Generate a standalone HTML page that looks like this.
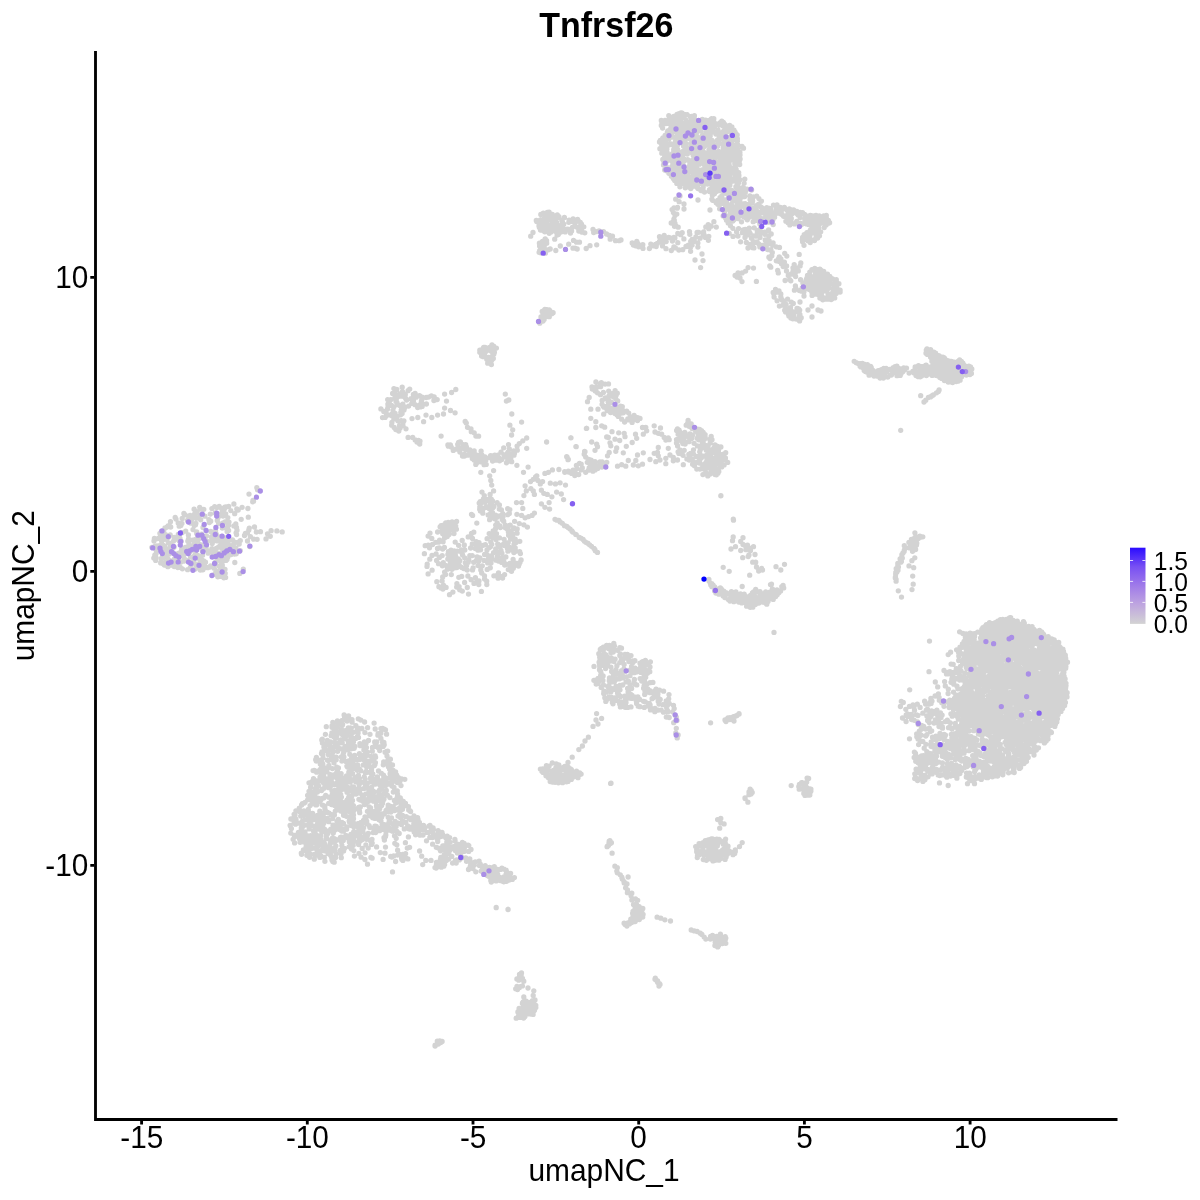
<!DOCTYPE html>
<html><head><meta charset="utf-8"><title>Tnfrsf26</title>
<style>
html,body{margin:0;padding:0;background:#fff;}
svg{display:block}
text{font-family:"Liberation Sans",Arial,Helvetica,sans-serif;fill:#000}
.g{fill:none;stroke:#d3d3d3;stroke-width:5.3;stroke-linecap:round}
.p{fill:none;stroke-width:5.3;stroke-linecap:round}
.ax{stroke:#000;stroke-width:2.85;fill:none;stroke-linecap:butt}
.tk{stroke:#000;stroke-width:2.85;fill:none}
.tl{font-size:30.8px}
.at{font-size:31.3px}
.lg{font-size:25.8px}
</style></head><body>
<svg width="1200" height="1200" viewBox="0 0 1200 1200">
<defs><linearGradient id="cb" x1="0" y1="1" x2="0" y2="0">
<stop offset="0" stop-color="#d3d3d3"/><stop offset="0.25" stop-color="#bfa6df"/><stop offset="0.5" stop-color="#a07be9"/><stop offset="0.75" stop-color="#7850f3"/><stop offset="1" stop-color="#2a0cff"/>
</linearGradient></defs>
<rect width="1200" height="1200" fill="#fff"/>
<text transform="translate(606.3 37) scale(.955 1)" text-anchor="middle" font-weight="bold" font-size="35.6px">Tnfrsf26</text>
<g id="pts">
<path class="g" d="M193.0 529.6h0M200.7 519.8h0M185.1 514.8h0M196.8 511.7h0M204.1 536.5h0M201.6 534.1h0M228.6 525.3h0M224.5 508.8h0M183.9 513.4h0M219.2 506.5h0M190.9 523.2h0M165.6 534.7h0M199.7 507.3h0M218.2 517.6h0M196.7 531.9h0M187.4 520.4h0M193.7 523.6h0M216.3 534.2h0M225.7 513.8h0M236.1 532.8h0M223.2 522.8h0M227.6 526.7h0M194.5 514.2h0M185.7 531.1h0M181.9 523.4h0M203.0 527.5h0M214.7 506.6h0M221.5 508.3h0M194.9 517.3h0M161.4 531.5h0M170.7 527.0h0M235.8 523.9h0M159.9 533.3h0M188.4 535.0h0M175.2 517.5h0M180.8 525.4h0M230.8 510.6h0M178.3 534.4h0M170.2 534.9h0M200.5 509.2h0M196.3 518.2h0M168.1 525.9h0M225.0 522.0h0M190.1 515.4h0M194.3 525.4h0M208.9 519.6h0M212.9 533.2h0M233.9 504.0h0M209.3 522.6h0M215.2 513.0h0M165.0 528.0h0M228.6 530.4h0M222.3 528.0h0M203.8 509.3h0M182.2 518.5h0M215.6 530.6h0M195.9 523.3h0M229.0 522.1h0M179.6 534.6h0M166.5 527.3h0M221.7 536.4h0M194.1 509.2h0M188.6 516.3h0M218.6 523.3h0M217.2 535.9h0M204.9 516.2h0M168.4 537.2h0M176.0 519.1h0M164.2 534.7h0M211.9 508.6h0M233.9 525.9h0M219.7 515.5h0M216.9 507.6h0M220.9 514.4h0M191.8 518.9h0M224.8 507.2h0M210.3 514.1h0M178.2 523.0h0M163.7 531.1h0M226.2 506.9h0M210.8 531.4h0M227.8 517.6h0M236.5 527.4h0M228.7 506.3h0M236.6 534.6h0M223.0 516.0h0M217.3 520.5h0M170.5 521.7h0M179.2 526.2h0M210.7 521.2h0M195.5 524.8h0M196.7 533.4h0M182.1 532.7h0M236.8 509.0h0M234.7 513.7h0M227.1 531.4h0M206.5 535.9h0M199.7 515.2h0M237.0 530.2h0M227.0 529.6h0M222.2 511.8h0M199.2 536.9h0M151.9 547.3h0M200.3 570.0h0M188.5 539.0h0M209.9 567.0h0M225.5 554.1h0M220.6 557.9h0M216.6 537.5h0M221.1 576.4h0M167.9 566.7h0M210.6 565.8h0M164.4 565.1h0M188.9 544.2h0M161.7 541.2h0M202.6 547.8h0M215.7 563.8h0M202.3 551.1h0M194.4 556.0h0M190.1 567.8h0M226.3 541.3h0M220.1 541.4h0M211.5 541.2h0M206.3 546.2h0M192.4 547.6h0M205.5 562.2h0M216.1 574.8h0M195.0 554.8h0M224.0 537.8h0M178.3 559.0h0M174.1 546.9h0M204.0 568.0h0M227.2 538.7h0M204.2 538.5h0M207.7 567.7h0M180.1 552.9h0M183.3 552.4h0M212.8 541.5h0M234.1 541.9h0M177.8 567.5h0M200.5 565.2h0M169.5 561.8h0M202.2 563.9h0M197.1 545.5h0M197.8 555.3h0M224.5 574.9h0M223.7 548.9h0M164.5 546.4h0M217.8 576.8h0M177.1 538.1h0M197.8 540.5h0M225.3 545.8h0M170.1 550.5h0M202.1 560.2h0M224.0 542.2h0M154.9 546.4h0M166.8 539.6h0M233.3 544.8h0M217.0 560.2h0M168.7 554.3h0M202.9 569.8h0M218.8 546.9h0M180.6 562.2h0M175.0 565.1h0M203.7 560.9h0M157.7 548.0h0M159.5 545.7h0M198.8 538.8h0M235.8 547.9h0M221.4 574.2h0M169.7 548.2h0M162.8 556.2h0M185.0 552.9h0M195.4 564.5h0M166.2 549.2h0M208.1 551.2h0M221.6 572.1h0M218.9 553.4h0M160.7 562.9h0M226.9 552.9h0M221.7 552.7h0M174.2 566.5h0M219.4 554.6h0M155.7 560.4h0M154.4 538.5h0M233.3 551.8h0M234.6 554.0h0M213.4 566.5h0M179.3 541.0h0M195.7 541.5h0M226.1 556.2h0M220.1 567.4h0M179.9 554.5h0M236.2 553.8h0M177.7 555.5h0M181.1 541.2h0M187.1 560.7h0M202.2 561.8h0M183.5 556.5h0M232.1 549.8h0M219.5 574.6h0M174.6 558.7h0M220.0 556.7h0M154.0 541.0h0M193.7 540.2h0M204.9 546.6h0M215.2 562.4h0M182.4 568.8h0M223.8 550.5h0M196.9 542.0h0M225.2 573.3h0M220.8 561.1h0M195.6 550.9h0M225.5 547.8h0M199.6 559.2h0M225.6 577.4h0M165.0 562.7h0M200.0 547.2h0M225.0 569.3h0M182.5 550.6h0M236.3 552.3h0M189.8 551.9h0M240.3 550.6h0M234.8 548.6h0M173.5 541.1h0M231.6 552.0h0M223.9 577.8h0M212.2 543.5h0M183.4 561.2h0M211.8 538.9h0M174.7 562.3h0M214.2 568.2h0M211.9 548.6h0M162.1 563.3h0M187.6 569.7h0M154.8 555.2h0M174.2 537.5h0M168.2 542.8h0M206.3 549.5h0M198.4 566.5h0M192.3 562.5h0M232.5 539.9h0M191.0 565.1h0M210.9 551.5h0M216.8 571.3h0M216.9 573.2h0M190.8 550.7h0M202.6 555.3h0M185.3 547.4h0M172.8 548.4h0M219.9 546.1h0M215.1 573.5h0M203.9 564.0h0M192.4 540.1h0M170.3 543.4h0M226.0 560.4h0M216.3 548.5h0M218.2 537.3h0M173.1 560.6h0M227.8 557.0h0M155.4 548.6h0M165.3 551.6h0M227.2 542.1h0M161.1 558.7h0M213.4 552.7h0M175.4 539.3h0M232.4 553.2h0M213.6 538.4h0M162.9 545.2h0M228.5 544.7h0M162.8 550.2h0M205.7 543.6h0M237.7 542.4h0M193.9 561.0h0M202.3 545.4h0M197.3 548.0h0M170.5 561.0h0M219.4 566.2h0M163.7 557.6h0M157.6 549.6h0M233.8 547.9h0M187.5 547.1h0M166.7 556.6h0M157.0 546.0h0M239.2 544.0h0M213.0 556.1h0M180.3 567.4h0M214.2 540.7h0M170.9 565.0h0M193.9 544.9h0M163.4 539.6h0M194.9 539.7h0M153.8 558.1h0M155.9 557.3h0M199.6 563.5h0M231.1 554.5h0M206.8 541.1h0M197.9 537.1h0M156.1 553.6h0M230.7 547.3h0M208.2 553.2h0M157.8 538.6h0M162.7 538.1h0M211.5 536.9h0M216.8 556.0h0M204.5 566.0h0M199.9 556.4h0M240.3 540.6h0M217.2 553.4h0M170.2 546.0h0M235.9 550.8h0M187.8 541.1h0M222.3 565.3h0M221.0 547.6h0M180.0 538.5h0M184.0 548.4h0M178.3 553.5h0M160.4 535.4h0M195.1 569.1h0M190.5 557.2h0M200.4 544.7h0M228.3 541.1h0M167.8 558.7h0M222.0 563.0h0M217.5 540.9h0M221.3 546.0h0M224.1 558.0h0M172.7 552.9h0M156.3 550.2h0M181.6 549.4h0M225.7 537.8h0M184.4 558.9h0M167.5 550.0h0M227.0 559.4h0M238.2 510.0h0M242.1 507.3h0M247.9 508.5h0M252.7 501.8h0M253.6 501.2h0M253.0 500.3h0M249.0 494.1h0M256.8 487.7h0M257.5 489.8h0M241.2 519.3h0M248.3 517.2h0M249.3 528.1h0M254.5 527.0h0M248.8 529.9h0M245.4 533.5h0M253.7 539.2h0M256.3 532.0h0M250.4 536.7h0M244.5 535.5h0M247.5 532.8h0M257.1 539.3h0M247.5 541.0h0M260.5 531.7h0M266.0 538.9h0M267.5 533.8h0M271.1 530.7h0M276.9 530.9h0M282.2 531.9h0M270.3 536.3h0M234.8 562.5h0M243.3 569.2h0M239.8 573.4h0M249.7 546.5h0M706.2 132.2h0M718.9 154.3h0M722.3 160.3h0M722.2 177.1h0M670.6 136.5h0M731.1 139.5h0M699.4 164.2h0M700.0 156.1h0M706.4 183.7h0M689.8 132.5h0M738.7 172.6h0M701.0 130.7h0M668.8 139.1h0M678.0 130.5h0M709.5 189.6h0M675.2 159.0h0M712.6 160.8h0M701.4 121.4h0M727.6 139.6h0M691.1 132.3h0M728.8 127.9h0M685.8 131.1h0M681.2 114.0h0M713.6 131.9h0M710.8 168.2h0M694.5 164.6h0M737.1 153.0h0M726.8 125.8h0M681.0 178.2h0M707.8 122.7h0M690.8 188.6h0M672.6 170.7h0M708.8 129.9h0M707.1 140.5h0M674.4 166.6h0M683.8 172.7h0M700.6 153.5h0M704.5 192.0h0M734.8 155.7h0M703.0 141.8h0M720.3 171.5h0M671.1 127.2h0M714.3 173.5h0M722.9 154.3h0M723.4 145.0h0M688.8 129.4h0M738.1 176.6h0M715.2 158.2h0M710.8 150.8h0M679.0 170.2h0M738.4 183.0h0M689.8 187.5h0M675.4 177.0h0M712.9 172.1h0M672.6 165.7h0M678.8 143.0h0M699.6 146.3h0M674.4 126.8h0M699.9 124.5h0M692.1 176.8h0M723.6 181.6h0M707.9 179.6h0M701.0 190.6h0M737.8 145.0h0M709.7 152.5h0M727.5 165.4h0M732.4 140.6h0M692.3 160.6h0M666.3 136.4h0M702.8 169.6h0M693.0 186.3h0M683.4 178.3h0M683.3 129.6h0M723.2 147.7h0M668.2 123.4h0M702.3 119.5h0M677.0 114.3h0M689.6 124.9h0M724.8 153.6h0M709.9 156.4h0M671.2 169.2h0M681.9 123.2h0M722.6 183.2h0M679.3 163.3h0M690.2 165.8h0M674.4 143.9h0M729.5 128.7h0M676.5 130.3h0M710.6 189.0h0M661.3 120.4h0M676.9 177.1h0M725.1 183.7h0M666.5 170.7h0M735.7 150.3h0M693.2 140.8h0M676.2 143.7h0M734.6 178.6h0M697.2 171.4h0M727.6 143.1h0M708.6 168.2h0M702.6 135.0h0M702.2 161.3h0M712.8 168.6h0M709.8 161.4h0M702.2 153.4h0M706.9 177.1h0M693.5 179.0h0M713.8 185.1h0M674.1 148.3h0M673.0 173.5h0M708.4 126.2h0M690.5 185.2h0M704.5 120.9h0M668.8 145.1h0M688.3 150.0h0M672.2 161.4h0M737.1 183.1h0M677.8 149.7h0M695.3 174.8h0M726.5 128.3h0M737.4 141.1h0M680.6 172.7h0M673.7 121.5h0M733.2 139.3h0M729.9 175.1h0M675.3 130.2h0M678.9 154.7h0M691.3 147.8h0M703.4 123.3h0M696.7 145.7h0M728.9 149.1h0M686.1 137.7h0M724.4 186.1h0M679.1 140.0h0M726.4 149.2h0M710.4 120.5h0M661.1 149.2h0M718.4 165.9h0M688.1 186.9h0M737.5 161.6h0M685.9 123.2h0M696.9 143.3h0M732.3 172.7h0M707.3 127.0h0M729.9 180.2h0M666.3 139.0h0M705.4 122.1h0M705.9 172.9h0M691.5 118.9h0M701.9 151.4h0M688.9 166.3h0M709.0 144.4h0M687.7 159.6h0M715.3 172.5h0M665.8 148.6h0M698.5 154.4h0M705.9 154.1h0M685.0 147.7h0M710.9 171.3h0M669.8 156.1h0M677.7 159.4h0M718.6 124.1h0M678.3 175.6h0M722.4 122.6h0M674.6 168.5h0M695.9 182.2h0M736.7 144.3h0M680.5 128.0h0M680.7 139.3h0M666.3 166.7h0M679.3 136.3h0M683.3 135.9h0M678.2 179.9h0M704.7 125.0h0M693.7 137.7h0M730.9 160.1h0M673.7 149.7h0M735.1 132.2h0M729.1 172.7h0M689.1 171.3h0M728.5 137.3h0M673.3 178.4h0M697.9 121.9h0M717.3 190.7h0M737.2 135.0h0M674.1 174.9h0M666.5 146.0h0M690.2 128.0h0M671.4 176.2h0M677.8 124.5h0M743.5 148.2h0M690.9 181.8h0M715.9 134.1h0M681.2 132.1h0M729.1 162.6h0M681.2 159.3h0M736.7 136.4h0M702.9 174.8h0M693.6 135.3h0M706.1 144.2h0M700.6 171.7h0M718.3 183.8h0M717.1 164.7h0M737.9 181.9h0M659.5 142.0h0M687.7 174.2h0M690.5 179.6h0M733.8 154.1h0M662.8 159.5h0M695.8 140.5h0M739.7 164.5h0M707.6 133.2h0M725.5 164.8h0M736.8 175.1h0M670.5 159.3h0M710.4 166.0h0M676.8 152.8h0M684.2 159.2h0M682.7 166.4h0M682.5 176.3h0M689.8 160.6h0M662.3 142.5h0M700.6 173.8h0M701.4 149.4h0M682.4 128.0h0M694.9 139.7h0M711.4 169.7h0M695.7 160.3h0M685.4 145.5h0M732.7 137.2h0M679.3 167.9h0M708.9 150.2h0M694.4 115.7h0M661.3 125.4h0M666.9 149.2h0M703.2 187.3h0M690.2 182.8h0M699.8 157.7h0M723.6 131.1h0M693.5 153.8h0M726.3 144.4h0M670.3 171.4h0M703.9 125.6h0M728.2 131.3h0M693.1 139.7h0M664.9 156.0h0M735.5 161.1h0M679.9 186.8h0M692.2 172.3h0M713.8 118.7h0M704.9 138.7h0M709.0 140.8h0M678.6 176.9h0M725.1 134.5h0M711.7 118.7h0M706.6 164.8h0M692.1 185.2h0M674.7 180.4h0M699.9 162.0h0M688.7 135.9h0M699.5 159.3h0M729.9 183.4h0M728.9 154.4h0M690.1 169.7h0M705.7 120.2h0M682.0 114.8h0M732.7 155.6h0M678.0 138.1h0M727.0 146.6h0M687.1 114.6h0M720.5 132.7h0M689.8 177.7h0M740.0 154.9h0M665.0 120.5h0M664.5 142.4h0M683.3 151.1h0M687.9 170.0h0M714.7 126.8h0M693.9 158.4h0M712.0 179.4h0M699.7 170.2h0M703.7 159.0h0M723.1 126.0h0M691.7 163.8h0M739.9 152.5h0M674.4 146.4h0M702.5 180.5h0M703.6 172.8h0M687.3 181.9h0M680.4 133.0h0M668.4 171.6h0M677.7 136.4h0M698.2 129.9h0M725.8 129.7h0M715.7 183.9h0M680.2 178.8h0M714.4 153.7h0M679.7 125.9h0M697.8 178.6h0M714.7 171.3h0M729.7 125.5h0M686.7 183.4h0M674.2 177.6h0M679.2 113.7h0M716.9 181.4h0M716.3 132.5h0M733.0 181.1h0M676.4 131.9h0M692.6 150.0h0M681.9 117.4h0M688.0 181.1h0M702.6 136.3h0M693.4 122.4h0M713.3 166.5h0M691.8 145.1h0M730.8 171.2h0M681.5 130.1h0M729.9 160.6h0M718.0 130.0h0M735.6 134.9h0M738.6 179.7h0M709.6 183.6h0M721.8 171.2h0M702.0 182.0h0M669.4 118.4h0M716.8 156.9h0M736.5 180.6h0M709.1 169.2h0M723.7 137.5h0M708.2 145.2h0M690.9 117.6h0M724.8 178.8h0M692.4 153.2h0M688.7 127.5h0M698.1 142.5h0M692.9 134.6h0M666.2 159.6h0M729.8 149.6h0M676.5 171.1h0M660.3 140.3h0M663.8 161.3h0M665.1 153.2h0M692.7 165.4h0M668.9 173.3h0M706.3 122.7h0M673.1 129.4h0M736.5 145.8h0M723.9 142.3h0M710.9 176.9h0M717.5 134.3h0M708.5 124.8h0M722.4 179.9h0M729.9 169.5h0M708.8 122.4h0M718.6 139.6h0M713.6 120.7h0M672.0 119.8h0M715.0 151.7h0M676.1 145.7h0M681.1 156.1h0M682.8 115.7h0M683.5 146.0h0M712.5 156.7h0M731.3 132.8h0M686.5 177.8h0M718.6 142.6h0M677.3 144.0h0M704.5 171.8h0M692.3 129.2h0M691.4 122.4h0M714.0 190.2h0M678.8 132.5h0M665.6 146.9h0M690.7 180.7h0M699.4 142.5h0M697.6 128.5h0M676.4 181.1h0M728.1 185.8h0M696.0 179.9h0M699.1 172.1h0M674.1 124.3h0M693.3 177.4h0M708.6 133.4h0M670.9 143.8h0M705.4 137.5h0M722.2 158.2h0M722.2 174.9h0M678.1 131.6h0M742.0 146.4h0M681.1 154.1h0M665.1 135.4h0M721.4 186.9h0M691.9 166.3h0M721.8 121.1h0M733.8 148.7h0M693.6 167.2h0M722.3 139.3h0M673.8 171.7h0M732.4 132.6h0M706.9 136.9h0M728.2 177.1h0M695.6 137.2h0M703.3 119.9h0M717.4 140.2h0M731.9 127.0h0M687.4 130.8h0M721.1 154.6h0M687.8 179.8h0M697.6 185.3h0M712.3 159.2h0M699.1 123.3h0M662.6 143.7h0M700.3 178.8h0M672.0 133.3h0M670.9 120.0h0M664.7 170.0h0M687.7 177.2h0M721.8 135.4h0M737.6 156.9h0M679.7 117.9h0M737.4 171.9h0M665.0 165.1h0M724.8 124.3h0M679.9 161.3h0M682.1 138.8h0M670.4 131.3h0M705.2 177.9h0M680.4 134.7h0M674.9 151.3h0M722.3 167.7h0M677.3 145.4h0M723.7 143.4h0M667.3 153.0h0M734.2 170.5h0M691.2 123.6h0M710.5 145.2h0M713.4 150.3h0M731.2 150.9h0M693.1 169.2h0M662.4 138.8h0M696.6 122.3h0M676.2 165.8h0M675.4 141.6h0M695.9 186.1h0M731.5 153.1h0M724.4 169.0h0M681.3 162.2h0M677.0 148.3h0M708.6 160.9h0M694.6 142.7h0M700.8 158.6h0M726.0 137.1h0M727.6 144.6h0M670.9 128.3h0M705.2 145.2h0M706.2 162.4h0M681.7 183.8h0M729.9 130.1h0M671.0 156.3h0M690.3 124.1h0M707.0 169.9h0M723.1 172.7h0M728.8 167.9h0M686.2 143.6h0M709.2 154.4h0M672.8 125.5h0M733.1 146.5h0M687.1 132.8h0M714.7 152.7h0M675.1 162.7h0M667.9 120.7h0M697.9 152.8h0M733.8 167.9h0M691.2 143.3h0M720.5 158.5h0M731.8 146.5h0M680.4 120.6h0M731.2 136.4h0M698.5 161.9h0M690.8 136.1h0M727.5 155.3h0M690.5 161.5h0M744.8 179.1h0M725.0 161.8h0M674.8 154.0h0M718.3 162.2h0M677.1 157.5h0M677.1 119.3h0M702.8 150.9h0M703.7 152.1h0M671.8 166.7h0M720.9 165.1h0M712.3 145.2h0M710.9 163.6h0M694.8 126.2h0M709.5 191.6h0M696.8 126.1h0M696.5 149.5h0M687.6 152.6h0M721.2 124.2h0M673.8 116.5h0M693.6 120.1h0M705.3 158.9h0M662.6 150.2h0M736.1 158.9h0M736.7 147.4h0M681.7 112.8h0M721.9 178.4h0M717.5 146.2h0M707.4 161.8h0M679.4 138.2h0M697.0 187.2h0M721.2 172.1h0M702.1 188.8h0M684.1 117.3h0M688.9 131.0h0M677.3 154.0h0M738.2 150.0h0M688.2 168.5h0M704.3 146.5h0M673.9 129.9h0M673.4 158.3h0M687.3 154.0h0M703.8 163.4h0M699.6 181.5h0M685.3 187.8h0M685.0 153.6h0M673.0 137.1h0M698.0 188.6h0M684.8 160.6h0M718.6 151.3h0M701.3 177.7h0M672.5 160.4h0M694.0 133.3h0M729.8 151.4h0M674.8 178.8h0M714.6 164.4h0M716.3 191.4h0M695.8 170.3h0M683.4 183.3h0M696.1 172.5h0M699.2 148.2h0M684.3 114.5h0M735.2 176.5h0M677.2 128.3h0M714.8 182.2h0M685.7 170.5h0M669.9 122.6h0M702.9 143.5h0M686.3 149.7h0M722.4 137.4h0M740.1 158.9h0M727.4 179.4h0M707.2 155.9h0M679.9 180.3h0M663.5 164.9h0M689.7 184.6h0M685.9 120.2h0M681.6 141.9h0M693.2 171.9h0M722.0 188.3h0M688.9 148.0h0M727.7 141.0h0M725.0 180.4h0M732.8 179.1h0M662.9 137.9h0M727.6 151.6h0M689.8 162.4h0M688.9 138.6h0M697.5 136.6h0M687.6 125.4h0M711.5 122.3h0M698.4 137.6h0M682.2 170.5h0M671.8 144.4h0M713.4 148.2h0M711.6 124.1h0M661.8 153.2h0M712.5 187.6h0M720.5 188.0h0M679.7 169.2h0M680.3 113.2h0M706.5 153.3h0M726.6 158.2h0M684.7 140.9h0M731.8 142.9h0M711.0 183.6h0M736.1 169.1h0M702.7 171.4h0M723.7 158.8h0M733.4 132.7h0M692.3 141.4h0M713.0 141.9h0M686.4 175.2h0M733.7 138.3h0M726.7 153.4h0M685.2 169.2h0M668.8 115.7h0M671.6 155.3h0M734.0 130.1h0M700.9 183.3h0M730.0 153.8h0M684.5 129.0h0M679.7 166.7h0M667.3 132.4h0M696.7 166.3h0M701.5 143.6h0M662.6 128.1h0M711.7 180.6h0M695.6 129.9h0M663.7 158.8h0M661.9 122.7h0M727.2 167.7h0M734.8 163.7h0M719.5 124.9h0M732.5 158.4h0M689.8 181.3h0M721.1 183.2h0M689.5 133.7h0M716.5 173.4h0M693.7 147.2h0M676.4 136.8h0M704.7 165.5h0M719.2 136.9h0M692.3 170.3h0M729.9 185.3h0M724.6 151.0h0M721.1 161.4h0M720.6 180.3h0M718.4 144.2h0M707.4 184.0h0M667.8 130.8h0M676.2 155.1h0M729.8 131.6h0M667.1 161.0h0M679.7 183.0h0M676.8 183.4h0M684.8 176.0h0M701.6 160.0h0M677.3 161.3h0M700.3 128.6h0M703.7 191.3h0M715.0 176.2h0M669.0 130.5h0M661.7 144.8h0M716.3 186.8h0M725.7 152.6h0M728.6 183.0h0M711.5 172.5h0M694.4 166.2h0M665.1 123.7h0M702.5 137.9h0M693.3 116.4h0M712.0 140.3h0M691.6 116.4h0M731.9 145.2h0M724.7 173.6h0M699.7 173.3h0M729.3 165.6h0M725.3 135.9h0M686.7 151.1h0M718.7 169.7h0M713.6 161.1h0M700.4 142.2h0M739.8 179.7h0M726.9 169.6h0M728.9 180.9h0M693.6 119.0h0M693.3 155.4h0M693.9 125.6h0M727.6 187.1h0M682.0 173.5h0M720.3 122.6h0M706.4 124.1h0M711.1 132.6h0M707.8 142.2h0M695.1 156.1h0M702.9 184.4h0M710.5 170.3h0M671.8 125.8h0M736.0 134.0h0M696.4 154.7h0M726.8 138.8h0M715.2 145.2h0M683.7 139.1h0M709.1 120.4h0M737.4 138.7h0M702.8 158.3h0M708.7 153.2h0M686.7 185.9h0M713.0 180.8h0M694.9 146.0h0M690.5 129.7h0M721.0 152.3h0M710.1 182.4h0M712.7 149.5h0M737.1 159.7h0M666.2 143.1h0M709.1 131.7h0M684.5 124.8h0M690.7 121.3h0M736.4 164.6h0M738.9 175.5h0M664.6 157.2h0M732.8 130.1h0M679.6 152.4h0M685.7 151.3h0M716.5 123.9h0M691.6 120.7h0M659.9 148.7h0M723.4 122.3h0M670.4 129.2h0M720.1 161.9h0M682.2 161.9h0M723.9 133.2h0M714.2 188.2h0M696.6 161.4h0M709.3 128.0h0M724.1 177.5h0M685.9 180.2h0M720.5 189.6h0M695.0 119.7h0M697.3 131.7h0M672.7 157.2h0M707.4 181.0h0M671.9 137.1h0M682.5 155.6h0M697.7 161.0h0M676.9 137.8h0M739.3 161.3h0M672.5 153.7h0M724.9 131.2h0M711.8 127.8h0M693.4 182.2h0M690.2 116.6h0M674.2 161.5h0M724.1 171.8h0M699.5 176.7h0M710.2 135.9h0M683.3 165.1h0M714.2 124.3h0M707.9 182.9h0M729.5 155.3h0M731.4 215.9h0M735.6 206.6h0M732.6 219.6h0M738.0 218.5h0M759.2 221.4h0M740.1 192.7h0M738.8 212.6h0M758.9 215.9h0M738.6 197.9h0M752.6 200.7h0M750.6 202.6h0M755.7 212.4h0M753.2 196.9h0M735.9 186.7h0M731.4 219.3h0M762.1 208.0h0M725.6 208.9h0M747.1 211.7h0M746.1 190.0h0M727.4 217.9h0M719.6 208.8h0M726.4 188.6h0M747.0 189.2h0M729.1 205.3h0M749.1 205.8h0M731.7 190.4h0M758.5 219.7h0M757.8 212.1h0M745.3 208.6h0M736.7 187.7h0M753.9 208.0h0M743.2 203.9h0M757.9 206.1h0M764.3 209.2h0M737.6 184.4h0M726.7 193.6h0M728.5 197.8h0M712.4 195.2h0M743.2 206.2h0M732.8 221.0h0M744.7 196.5h0M738.5 217.0h0M755.9 210.4h0M755.3 220.5h0M724.6 211.2h0M734.7 200.6h0M712.6 200.3h0M746.0 213.3h0M741.3 190.9h0M733.9 219.8h0M730.0 195.3h0M725.6 207.5h0M736.7 202.1h0M721.7 199.6h0M757.8 217.5h0M754.7 214.1h0M752.4 208.2h0M730.4 212.6h0M755.1 218.7h0M725.4 205.0h0M712.4 193.9h0M740.9 212.2h0M734.5 192.6h0M736.3 191.3h0M740.1 215.7h0M763.8 210.8h0M734.9 210.6h0M751.6 190.0h0M745.3 192.6h0M730.9 211.1h0M737.9 196.2h0M737.1 198.2h0M758.9 204.2h0M761.5 201.1h0M721.4 201.7h0M731.3 220.6h0M733.3 197.0h0M760.3 212.3h0M738.7 202.8h0M725.1 189.3h0M720.0 197.6h0M737.2 209.5h0M735.1 212.2h0M750.1 199.4h0M732.3 199.7h0M744.9 211.7h0M732.8 216.9h0M739.0 205.9h0M719.9 204.5h0M761.7 218.7h0M756.9 211.2h0M739.7 208.6h0M749.9 196.0h0M738.8 210.4h0M744.5 214.9h0M717.7 200.5h0M724.2 203.7h0M752.3 202.7h0M749.7 217.0h0M711.9 199.1h0M760.8 206.9h0M725.4 210.2h0M729.8 215.9h0M742.3 196.7h0M756.3 206.2h0M741.9 187.8h0M716.2 202.8h0M742.6 193.9h0M725.0 216.1h0M730.3 214.6h0M728.2 215.9h0M736.6 199.5h0M740.7 204.6h0M741.7 205.6h0M750.7 212.5h0M750.1 210.3h0M719.0 203.6h0M727.7 187.9h0M756.7 196.1h0M747.3 219.8h0M743.7 216.8h0M733.0 212.8h0M721.9 195.6h0M724.7 199.9h0M742.9 212.5h0M736.1 215.2h0M758.9 198.6h0M726.4 201.5h0M736.4 193.4h0M743.8 188.1h0M736.7 195.0h0M739.8 200.2h0M714.4 193.8h0M738.0 188.3h0M740.1 198.7h0M748.7 204.3h0M732.2 214.4h0M731.2 198.7h0M757.5 204.9h0M723.8 192.1h0M719.5 190.5h0M732.2 207.8h0M725.3 191.5h0M746.1 215.5h0M744.1 183.3h0M724.4 213.2h0M745.6 217.7h0M740.2 194.4h0M750.8 214.8h0M724.4 193.1h0M723.3 202.5h0M731.4 204.5h0M754.1 216.7h0M762.5 212.2h0M728.5 190.9h0M717.8 204.3h0M737.7 185.7h0M745.1 203.7h0M730.3 209.7h0M755.0 209.6h0M723.1 215.9h0M824.0 217.8h0M821.6 222.5h0M792.0 213.8h0M804.8 219.1h0M802.6 237.5h0M774.5 215.9h0M807.2 236.2h0M770.6 209.3h0M826.3 215.5h0M802.6 241.7h0M800.1 217.4h0M813.8 216.5h0M772.3 212.7h0M770.1 219.6h0M804.4 223.3h0M777.0 205.0h0M768.2 209.5h0M768.8 215.4h0M815.8 234.4h0M813.8 219.0h0M810.3 215.5h0M826.3 217.6h0M819.0 218.8h0M789.3 215.4h0M788.2 216.0h0M814.7 220.0h0M789.3 209.0h0M828.4 220.4h0M788.1 222.8h0M804.6 214.3h0M790.3 216.5h0M804.2 234.6h0M788.0 220.5h0M796.8 213.6h0M807.8 216.1h0M817.6 238.0h0M817.0 226.9h0M781.2 211.6h0M810.3 230.1h0M798.1 215.0h0M793.6 209.9h0M800.2 212.3h0M810.9 218.9h0M808.1 220.0h0M766.8 207.6h0M819.7 221.1h0M811.5 240.0h0M789.8 224.9h0M789.0 221.4h0M790.9 209.6h0M787.2 209.9h0M801.3 224.7h0M767.4 214.0h0M810.2 234.7h0M796.9 211.3h0M819.3 215.8h0M816.0 229.5h0M767.9 208.2h0M818.7 228.1h0M817.2 219.7h0M823.6 220.1h0M773.0 217.1h0M812.1 216.0h0M805.5 215.9h0M791.3 222.1h0M815.8 238.2h0M810.0 222.7h0M812.0 227.1h0M820.7 231.8h0M806.9 232.6h0M805.0 220.4h0M825.2 222.6h0M828.4 223.2h0M806.2 234.0h0M811.3 222.0h0M823.5 223.0h0M806.6 223.9h0M815.3 223.9h0M775.2 212.1h0M794.5 223.9h0M800.0 215.4h0M816.3 221.9h0M823.8 215.9h0M807.0 235.0h0M778.0 213.1h0M815.5 227.2h0M768.5 213.7h0M821.7 219.8h0M804.2 239.5h0M791.8 212.1h0M811.7 232.4h0M791.3 218.4h0M783.6 216.3h0M781.1 209.9h0M826.1 225.1h0M784.4 207.5h0M783.3 208.9h0M814.2 229.9h0M817.6 230.9h0M819.5 235.7h0M790.7 214.9h0M810.2 242.6h0M777.4 209.0h0M819.5 224.0h0M807.5 239.0h0M778.7 207.3h0M807.1 219.2h0M785.4 216.5h0M807.9 240.7h0M796.7 221.3h0M811.8 228.4h0M820.5 217.0h0M769.7 208.5h0M795.5 212.4h0M814.5 240.5h0M780.4 207.5h0M817.7 221.1h0M800.3 223.1h0M816.0 215.4h0M817.5 218.2h0M825.1 219.4h0M780.6 213.8h0M802.3 239.3h0M785.9 221.2h0M773.5 205.1h0M829.6 222.7h0M813.7 223.4h0M818.7 234.8h0M812.8 220.6h0M782.3 214.7h0M774.6 217.3h0M776.1 209.4h0M768.2 211.8h0M824.2 227.6h0M798.9 223.6h0M816.6 216.7h0M808.4 224.5h0M809.5 237.0h0M802.5 212.7h0M787.8 213.8h0M768.0 218.7h0M769.8 265.9h0M753.9 247.9h0M794.2 264.6h0M773.1 243.0h0M786.6 266.0h0M771.2 233.9h0M783.2 266.5h0M795.6 276.5h0M779.3 256.8h0M770.9 243.8h0M767.2 244.6h0M751.6 244.9h0M786.8 256.1h0M779.2 261.4h0M746.2 233.8h0M800.8 263.0h0M768.9 257.2h0M780.9 259.0h0M760.0 246.4h0M762.5 245.4h0M765.9 243.6h0M770.0 258.6h0M758.2 230.3h0M768.8 236.0h0M755.8 236.2h0M793.0 267.8h0M750.1 233.3h0M784.7 253.5h0M799.2 254.4h0M743.3 229.8h0M776.3 260.8h0M776.3 246.8h0M795.3 272.7h0M766.0 247.1h0M793.1 271.0h0M778.7 258.3h0M772.3 252.5h0M796.4 267.9h0M742.5 232.7h0M786.5 270.9h0M748.1 234.9h0M757.2 241.8h0M755.5 242.3h0M750.1 244.4h0M798.3 270.9h0M800.1 265.9h0M751.5 238.3h0M778.3 272.9h0M788.3 275.4h0M777.7 270.4h0M752.8 246.7h0M783.1 264.4h0M764.9 234.3h0M784.4 262.1h0M765.2 240.0h0M760.6 233.2h0M770.9 249.6h0M771.8 255.7h0M767.2 242.2h0M768.3 230.5h0M754.2 227.8h0M769.1 240.7h0M779.5 247.4h0M770.8 267.2h0M772.6 245.2h0M793.6 274.3h0M781.5 263.8h0M791.3 274.0h0M757.3 232.0h0M759.0 244.2h0M767.6 249.6h0M804.0 245.3h0M813.0 291.8h0M824.7 277.7h0M835.9 284.8h0M813.6 286.7h0M833.4 298.0h0M826.4 288.8h0M817.0 280.0h0M834.1 289.0h0M821.3 286.9h0M833.0 292.8h0M815.5 281.1h0M808.4 276.7h0M814.4 294.2h0M808.2 288.3h0M827.2 297.7h0M837.1 284.2h0M812.9 281.1h0M815.5 292.7h0M827.5 274.2h0M819.2 276.8h0M806.2 280.3h0M819.8 279.7h0M809.3 289.5h0M836.1 293.4h0M815.7 291.4h0M836.3 292.3h0M822.0 281.6h0M819.7 281.6h0M825.7 275.4h0M817.6 281.0h0M822.1 276.1h0M830.0 281.7h0M815.0 275.1h0M831.2 299.6h0M821.2 282.5h0M831.4 293.7h0M811.8 292.0h0M816.0 276.1h0M810.0 276.0h0M808.0 279.8h0M835.4 282.5h0M812.5 282.7h0M825.3 274.3h0M818.1 277.5h0M827.6 289.0h0M805.8 288.8h0M814.8 268.5h0M820.2 294.7h0M822.1 277.8h0M832.6 278.8h0M823.7 271.5h0M807.5 275.4h0M819.9 278.5h0M830.3 295.1h0M812.2 290.0h0M834.8 290.6h0M813.7 292.7h0M818.9 270.8h0M817.4 282.4h0M828.6 282.7h0M811.7 285.9h0M826.8 284.9h0M819.9 269.2h0M836.3 279.7h0M817.8 274.7h0M836.9 282.6h0M828.6 284.6h0M812.1 284.4h0M809.9 282.9h0M820.8 270.2h0M824.6 282.9h0M815.3 271.4h0M828.1 293.9h0M817.9 270.4h0M822.7 274.4h0M823.3 290.7h0M828.6 299.2h0M812.1 288.1h0M819.8 275.6h0M839.0 291.2h0M805.5 287.3h0M828.3 280.2h0M826.2 287.3h0M824.0 298.0h0M821.3 294.5h0M814.4 270.3h0M828.7 286.6h0M829.8 276.3h0M831.7 297.5h0M816.3 269.5h0M821.2 288.2h0M822.7 282.9h0M821.1 289.9h0M806.9 278.1h0M821.6 293.1h0M822.4 297.2h0M809.8 272.1h0M814.7 279.4h0M832.6 288.8h0M811.9 269.6h0M840.1 292.0h0M817.8 284.1h0M822.9 275.4h0M822.7 285.3h0M818.3 294.8h0M825.0 281.8h0M824.4 290.8h0M812.5 278.3h0M819.9 271.7h0M838.9 283.7h0M833.2 284.1h0M831.3 294.7h0M806.5 279.2h0M816.1 285.0h0M832.3 298.8h0M812.1 295.4h0M817.7 290.7h0M823.7 273.1h0M817.4 288.5h0M834.8 293.2h0M836.8 287.6h0M828.3 276.0h0M806.9 288.2h0M819.1 291.1h0M840.1 290.2h0M807.7 283.5h0M834.7 297.9h0M823.3 277.6h0M822.8 299.8h0M819.9 298.0h0M826.4 299.2h0M827.7 279.2h0M803.9 292.1h0M802.9 283.0h0M799.4 290.6h0M794.4 290.2h0M790.8 280.8h0M801.6 291.2h0M800.6 279.7h0M802.2 287.8h0M795.8 288.1h0M795.4 285.9h0M785.1 280.5h0M789.7 279.6h0M790.5 307.6h0M798.7 308.8h0M776.5 292.2h0M784.7 310.2h0M786.1 304.4h0M785.6 311.9h0M788.9 316.0h0M773.8 293.7h0M785.7 308.6h0M790.9 318.0h0M774.1 297.1h0M799.2 316.1h0M773.2 292.4h0M799.6 320.9h0M779.4 306.1h0M791.8 311.3h0M777.1 300.8h0M780.8 296.8h0M793.3 303.5h0M780.8 293.9h0M799.7 310.1h0M775.5 289.4h0M800.1 319.1h0M788.8 312.2h0M789.6 309.0h0M784.0 301.4h0M783.0 305.2h0M792.5 312.9h0M792.8 318.8h0M798.6 312.1h0M799.9 314.3h0M782.4 300.2h0M801.2 317.7h0M793.6 314.9h0M787.6 299.2h0M788.3 314.1h0M781.3 298.7h0M796.2 319.1h0M791.4 302.2h0M797.0 308.3h0M795.1 311.9h0M779.0 291.0h0M812.0 306.0h0M808.0 310.0h0M818.0 310.0h0M821.0 311.0h0M812.0 317.0h0M800.0 302.0h0M804.0 296.0h0M633.4 245.0h0M635.5 245.8h0M638.6 246.8h0M643.0 248.4h0M649.4 248.5h0M652.7 245.2h0M655.5 244.5h0M662.5 245.9h0M662.7 242.5h0M666.2 241.6h0M668.7 237.3h0M674.9 238.0h0M677.8 233.5h0M680.7 234.7h0M678.2 227.2h0M674.5 226.3h0M671.2 223.0h0M673.9 219.2h0M674.9 215.6h0M673.4 212.6h0M674.0 207.8h0M677.5 207.5h0M679.1 201.7h0M675.7 199.2h0M680.0 195.9h0M695.9 236.9h0M670.8 238.1h0M698.7 232.3h0M703.6 231.8h0M692.1 239.4h0M700.1 238.2h0M690.7 241.3h0M688.5 245.2h0M666.0 248.7h0M690.5 247.2h0M686.0 246.5h0M694.2 239.3h0M665.0 239.8h0M673.9 237.4h0M682.7 249.7h0M678.9 250.0h0M708.8 228.7h0M672.4 241.1h0M697.9 242.9h0M673.9 247.0h0M711.1 226.2h0M708.8 236.3h0M661.2 238.3h0M705.8 226.9h0M704.1 234.9h0M663.2 242.4h0M716.3 227.1h0M705.4 237.4h0M698.0 200.0h0M710.0 210.0h0M702.0 254.0h0M695.0 260.0h0M703.0 260.6h0M700.6 267.6h0M684.0 204.0h0M684.0 209.0h0M621.0 240.0h0M735.1 275.4h0M738.1 272.9h0M742.1 272.9h0M745.6 271.1h0M748.1 267.6h0M753.5 268.1h0M742.0 281.6h0M756.4 281.4h0M748.0 248.0h0M738.0 236.0h0M740.0 278.0h0M737.0 277.0h0M746.4 242.5h0M763.5 247.1h0M732.9 228.3h0M772.9 219.7h0M733.0 236.4h0M745.0 237.5h0M759.9 246.9h0M752.7 247.7h0M759.9 224.0h0M745.2 229.5h0M729.2 233.3h0M749.2 228.2h0M753.4 241.6h0M764.7 232.1h0M740.6 241.8h0M765.7 216.6h0M754.4 217.5h0M745.2 232.8h0M749.4 232.1h0M726.5 220.3h0M708.2 224.6h0M753.2 221.7h0M725.6 217.9h0M713.9 221.7h0M773.2 224.6h0M736.6 231.9h0M768.6 229.9h0M728.2 222.9h0M768.5 222.2h0M753.9 235.9h0M768.1 211.8h0M762.5 212.8h0M738.6 228.6h0M770.4 249.9h0M741.5 221.8h0M760.9 227.3h0M760.0 237.4h0M730.5 225.8h0M755.1 213.4h0M760.2 231.1h0M690.6 251.3h0M689.5 231.7h0M675.4 247.9h0M703.3 234.8h0M693.6 241.5h0M683.9 238.9h0M671.3 250.5h0M660.8 241.4h0M659.5 236.7h0M677.8 242.7h0M682.2 232.7h0M692.1 245.0h0M689.8 234.3h0M689.5 247.0h0M665.1 240.1h0M697.1 232.5h0M697.9 247.1h0M708.4 240.3h0M677.2 208.2h0M672.1 209.6h0M676.8 214.1h0M674.3 220.3h0M675.0 223.4h0M676.2 226.1h0M540.8 214.5h0M552.0 228.7h0M547.0 219.8h0M545.6 227.2h0M560.7 227.5h0M558.3 234.4h0M553.1 222.4h0M548.9 230.2h0M555.9 228.4h0M562.1 231.3h0M539.4 227.5h0M556.8 232.6h0M551.5 218.6h0M541.9 226.3h0M544.8 231.8h0M546.5 221.9h0M556.8 222.7h0M542.2 224.5h0M545.2 229.3h0M550.1 219.6h0M552.7 216.2h0M544.6 214.4h0M540.5 230.0h0M545.7 230.6h0M543.4 213.2h0M548.8 213.6h0M545.9 216.9h0M557.9 217.7h0M554.7 224.9h0M557.3 215.0h0M540.4 219.8h0M556.0 217.9h0M539.2 224.9h0M547.3 212.5h0M545.6 225.5h0M549.1 212.2h0M541.5 227.4h0M536.7 221.6h0M551.0 232.1h0M547.6 214.9h0M549.1 224.9h0M560.9 232.0h0M555.3 219.1h0M540.0 222.0h0M543.9 230.9h0M544.2 219.0h0M551.2 226.6h0M555.8 231.6h0M550.2 231.1h0M552.3 214.4h0M548.6 216.3h0M549.2 233.3h0M549.6 217.7h0M552.1 221.3h0M539.0 226.0h0M556.1 216.4h0M549.4 227.5h0M542.0 219.8h0M550.1 226.6h0M547.4 225.9h0M536.3 220.5h0M557.6 225.0h0M556.9 228.5h0M551.5 227.7h0M548.0 217.4h0M543.4 226.8h0M558.9 216.7h0M545.1 220.0h0M557.1 235.1h0M547.4 227.1h0M556.6 230.7h0M555.1 220.8h0M541.3 223.2h0M545.1 222.9h0M543.3 228.6h0M572.4 227.3h0M563.7 224.2h0M584.8 232.8h0M568.8 222.3h0M563.6 228.9h0M581.6 230.9h0M578.8 221.3h0M570.6 230.0h0M582.1 232.2h0M577.6 219.3h0M580.9 225.6h0M568.8 229.5h0M573.1 221.8h0M581.2 227.3h0M567.2 229.1h0M573.1 218.9h0M578.8 231.0h0M570.5 233.1h0M562.4 221.7h0M565.2 231.9h0M561.1 225.7h0M577.2 227.2h0M564.4 217.4h0M561.9 220.2h0M574.5 221.0h0M569.1 220.1h0M580.3 222.5h0M583.8 226.8h0M581.5 224.2h0M575.0 223.0h0M571.6 231.1h0M539.4 243.2h0M541.1 243.1h0M546.7 243.2h0M541.0 252.9h0M542.5 241.4h0M539.1 252.3h0M544.1 251.1h0M547.9 249.9h0M545.2 239.0h0M543.6 246.9h0M544.5 245.0h0M546.6 240.7h0M544.3 248.2h0M545.4 253.2h0M539.7 250.6h0M544.8 241.2h0M540.9 248.1h0M539.6 246.1h0M545.0 249.7h0M543.0 243.0h0M530.7 236.2h0M533.0 232.5h0M554.7 239.2h0M550.2 249.0h0M555.8 250.5h0M560.3 246.0h0M568.7 244.2h0M573.5 240.4h0M576.5 242.2h0M579.5 242.2h0M573.0 248.2h0M577.2 249.0h0M586.2 248.5h0M590.0 245.7h0M596.7 244.8h0M575.0 248.2h0M593.0 229.5h0M596.0 231.7h0M599.0 231.0h0M603.5 231.7h0M606.5 234.0h0M609.5 235.5h0M612.5 236.2h0M610.2 239.2h0M615.5 240.7h0M619.2 240.7h0M593.7 232.5h0M543.9 315.5h0M548.6 315.1h0M544.5 317.2h0M544.1 319.5h0M541.9 320.8h0M546.0 312.7h0M542.2 311.4h0M548.9 312.3h0M541.0 316.9h0M547.5 314.6h0M543.9 311.7h0M546.9 309.7h0M549.3 316.7h0M542.9 313.2h0M539.8 323.2h0M545.9 316.8h0M543.0 321.0h0M542.6 319.4h0M553.1 312.7h0M551.8 313.7h0M546.4 314.7h0M547.2 310.7h0M544.9 309.5h0M549.8 310.7h0M544.3 313.0h0M549.2 309.9h0M632.2 242.9h0M636.8 241.4h0M637.8 243.5h0M642.8 244.6h0M642.6 245.5h0M650.8 244.1h0M653.8 245.9h0M656.2 246.6h0M657.3 243.4h0M659.5 241.5h0M660.7 237.6h0M664.2 235.5h0M491.8 356.7h0M485.5 351.7h0M491.4 364.6h0M490.8 359.1h0M488.6 357.5h0M481.6 356.0h0M479.8 350.2h0M496.4 348.1h0M485.2 356.4h0M481.8 354.9h0M493.5 351.3h0M483.0 354.6h0M489.7 347.3h0M492.4 357.6h0M486.3 350.7h0M487.2 348.5h0M490.9 362.2h0M492.6 352.4h0M493.9 354.0h0M479.8 352.2h0M492.9 347.7h0M481.8 350.7h0M491.0 350.9h0M492.0 344.8h0M485.0 347.4h0M487.7 363.2h0M490.3 360.2h0M483.7 347.5h0M491.3 346.4h0M493.3 358.5h0M486.8 359.2h0M483.1 348.3h0M483.2 356.7h0M487.5 350.3h0M493.9 346.4h0M491.9 359.9h0M494.4 352.3h0M411.8 403.3h0M415.1 393.5h0M396.0 401.6h0M399.5 425.7h0M398.8 431.0h0M394.2 427.4h0M391.5 405.4h0M396.3 399.8h0M422.1 406.4h0M383.8 411.4h0M392.2 413.8h0M382.5 417.6h0M431.4 395.9h0M433.9 400.5h0M428.6 397.1h0M398.1 396.4h0M387.5 408.9h0M415.0 404.7h0M420.0 441.1h0M392.3 416.1h0M397.1 402.9h0M393.0 410.1h0M399.6 394.0h0M423.2 404.2h0M434.2 396.9h0M380.9 408.9h0M401.2 420.6h0M403.0 425.7h0M406.6 400.0h0M402.5 391.7h0M401.3 409.8h0M402.8 404.2h0M406.0 428.8h0M397.0 416.5h0M400.1 428.1h0M386.1 413.1h0M389.4 402.4h0M417.7 407.6h0M400.7 414.8h0M422.1 397.2h0M397.1 404.6h0M393.9 406.8h0M403.9 420.8h0M415.2 440.0h0M412.7 437.4h0M396.8 389.5h0M390.9 399.6h0M418.5 440.4h0M404.4 396.8h0M421.4 401.2h0M385.1 417.4h0M405.3 394.5h0M411.0 398.7h0M420.4 406.9h0M421.8 399.5h0M402.1 413.5h0M416.2 397.2h0M400.8 412.3h0M417.0 442.1h0M388.0 405.8h0M386.3 415.7h0M413.5 400.6h0M408.1 390.7h0M393.8 419.0h0M387.9 404.1h0M413.4 396.7h0M409.7 389.1h0M403.0 422.6h0M405.7 398.4h0M408.6 406.1h0M392.6 393.5h0M419.7 444.0h0M397.9 420.8h0M394.4 416.0h0M404.7 407.8h0M437.2 399.6h0M393.9 388.6h0M395.8 429.6h0M391.7 425.2h0M413.4 394.5h0M426.4 404.0h0M401.2 396.0h0M390.3 415.0h0M394.9 397.8h0M387.7 399.6h0M399.8 405.6h0M408.1 437.4h0M426.2 397.5h0M419.5 395.6h0M419.7 404.9h0M403.8 406.4h0M394.5 393.3h0M395.1 413.3h0M402.2 387.2h0M404.0 410.0h0M391.9 422.5h0M412.0 418.6h0M417.8 417.5h0M426.0 415.1h0M431.8 417.5h0M437.6 415.1h0M443.5 414.0h0M423.6 421.7h0M444.6 408.1h0M450.5 410.5h0M455.1 412.8h0M446.5 401.1h0M444.6 394.1h0M451.6 392.5h0M455.8 389.5h0M441.1 436.1h0M514.5 453.2h0M508.6 458.7h0M448.4 446.2h0M484.1 464.7h0M510.6 460.1h0M460.4 442.0h0M470.4 453.9h0M469.8 452.3h0M476.7 455.1h0M481.1 451.2h0M466.4 447.0h0M478.2 459.6h0M465.6 450.1h0M508.9 461.1h0M492.4 456.1h0M460.9 447.8h0M484.2 459.6h0M482.0 459.0h0M517.3 450.2h0M508.1 457.1h0M501.0 452.2h0M496.0 460.2h0M511.7 461.7h0M457.7 444.3h0M499.6 460.8h0M465.7 444.6h0M503.7 447.8h0M486.7 458.1h0M481.8 454.9h0M464.3 454.5h0M483.7 461.8h0M477.2 458.6h0M474.1 460.1h0M485.8 460.2h0M499.2 458.2h0M507.3 453.4h0M485.0 456.9h0M511.5 453.6h0M459.0 449.0h0M456.3 449.0h0M476.6 463.0h0M450.4 444.9h0M486.2 464.4h0M494.7 458.8h0M506.4 457.2h0M469.9 450.0h0M509.4 454.8h0M510.8 458.5h0M463.1 444.7h0M508.5 444.6h0M472.3 458.6h0M509.3 448.8h0M490.4 457.8h0M475.8 464.4h0M513.8 450.8h0M495.3 457.4h0M514.0 455.2h0M517.1 446.1h0M464.1 448.6h0M475.1 454.8h0M492.6 461.0h0M473.2 456.3h0M501.8 459.6h0M458.6 442.3h0M459.9 452.0h0M475.4 458.3h0M481.1 461.9h0M504.0 455.0h0M447.9 444.9h0M451.3 447.1h0M492.5 459.0h0M506.5 462.8h0M453.3 450.4h0M474.2 451.0h0M497.9 455.1h0M468.1 455.2h0M490.6 455.6h0M508.0 452.1h0M494.8 455.1h0M480.3 455.2h0M507.5 461.7h0M462.5 456.0h0M464.5 456.1h0M465.2 421.4h0M466.3 423.1h0M467.5 427.3h0M471.0 429.0h0M471.3 431.7h0M474.2 432.8h0M475.9 436.1h0M478.6 436.2h0M505.3 394.1h0M508.8 400.0h0M506.4 401.1h0M511.8 414.0h0M521.6 422.1h0M509.9 425.2h0M512.7 429.8h0M511.6 435.0h0M526.7 438.0h0M522.8 440.8h0M519.3 443.6h0M526.7 448.3h0M480.8 472.3h0M493.6 470.6h0M489.7 475.8h0M490.8 480.4h0M491.7 485.1h0M493.6 490.9h0M482.0 492.1h0M484.3 495.6h0M490.1 494.4h0M491.3 499.1h0M497.1 502.6h0M499.4 504.9h0M479.7 509.2h0M501.4 509.8h0M492.4 505.3h0M507.7 508.7h0M509.3 513.5h0M494.7 518.8h0M497.0 517.3h0M497.2 523.0h0M484.8 502.3h0M481.3 507.6h0M493.9 506.4h0M509.8 509.6h0M491.8 517.7h0M502.9 517.1h0M486.3 499.3h0M507.8 514.7h0M482.8 513.2h0M489.1 508.6h0M480.2 501.6h0M502.7 513.7h0M499.3 509.1h0M483.4 498.8h0M491.2 511.6h0M502.2 519.4h0M479.8 506.9h0M492.5 501.0h0M493.1 507.6h0M488.1 499.5h0M488.0 507.7h0M490.3 513.8h0M488.2 514.9h0M485.0 507.8h0M480.4 510.9h0M486.4 506.7h0M490.2 503.0h0M493.4 516.2h0M492.4 512.3h0M495.6 515.1h0M495.7 525.1h0M481.1 502.9h0M482.4 510.4h0M489.6 519.7h0M479.2 503.1h0M486.4 500.8h0M499.6 515.9h0M516.5 502.6h0M521.6 502.6h0M522.8 508.4h0M523.9 495.6h0M526.3 490.9h0M530.9 488.6h0M534.4 494.4h0M533.3 490.9h0M525.1 485.8h0M530.5 481.6h0M535.6 476.9h0M537.9 480.4h0M540.3 483.9h0M542.6 481.6h0M544.9 473.4h0M548.4 472.3h0M552.4 469.9h0M558.9 469.5h0M564.8 472.3h0M568.3 471.1h0M571.7 473.4h0M575.2 472.3h0M578.7 474.6h0M581.1 469.9h0M585.7 472.3h0M589.2 467.6h0M595.1 469.9h0M596.2 465.3h0M602.1 461.8h0M536.8 475.8h0M533.3 479.3h0M541.4 490.2h0M543.8 493.3h0M547.3 494.4h0M551.9 496.8h0M550.3 483.2h0M555.4 483.9h0M560.1 482.8h0M565.5 485.1h0M556.6 492.1h0M561.3 494.0h0M563.6 499.6h0M541.4 503.8h0M544.9 507.3h0M549.1 502.6h0M549.6 509.1h0M523.5 472.3h0M528.1 467.1h0M516.9 465.3h0M516.9 514.3h0M521.6 515.4h0M525.1 517.8h0M528.6 516.6h0M532.1 515.4h0M534.4 513.1h0M514.6 521.3h0M519.3 523.6h0M523.9 524.8h0M527.4 527.1h0M471.5 514.3h0M472.6 515.4h0M476.8 523.1h0M501.0 550.4h0M489.2 533.6h0M513.9 528.0h0M515.5 528.8h0M512.1 533.4h0M495.2 551.9h0M510.5 537.0h0M502.3 558.0h0M506.1 564.5h0M515.2 565.1h0M510.5 566.8h0M487.0 550.0h0M496.5 533.6h0M495.4 529.0h0M497.7 544.0h0M507.5 548.6h0M508.6 535.3h0M504.1 539.3h0M487.2 554.9h0M513.9 552.6h0M513.4 563.7h0M492.7 536.0h0M519.8 541.3h0M499.9 525.9h0M510.2 525.2h0M499.6 546.5h0M498.8 551.7h0M508.2 542.6h0M505.4 525.1h0M515.2 539.2h0M505.9 557.0h0M515.2 547.8h0M507.3 529.0h0M504.0 561.8h0M492.3 559.0h0M516.6 563.3h0M508.1 546.3h0M514.2 540.6h0M519.2 564.1h0M489.0 547.8h0M495.9 535.7h0M507.9 551.2h0M513.3 561.4h0M514.0 544.4h0M503.8 543.9h0M505.3 542.7h0M511.5 571.3h0M500.4 527.6h0M493.2 530.9h0M517.2 528.9h0M510.6 549.9h0M520.4 553.6h0M516.0 551.2h0M491.8 555.7h0M501.7 561.9h0M496.0 560.2h0M501.9 553.2h0M512.7 535.0h0M508.4 531.9h0M519.7 551.6h0M509.8 563.3h0M510.5 539.0h0M499.5 537.8h0M495.7 548.8h0M513.3 568.3h0M508.3 569.6h0M505.4 527.8h0M483.1 545.3h0M495.9 539.4h0M520.0 562.3h0M490.8 536.5h0M497.5 556.5h0M516.0 542.6h0M491.8 544.3h0M490.8 542.1h0M510.9 530.8h0M493.6 552.6h0M517.1 533.2h0M493.1 537.6h0M518.5 566.1h0M490.6 559.9h0M490.4 546.8h0M513.1 559.4h0M504.5 545.6h0M487.1 538.7h0M513.6 548.3h0M503.7 521.2h0M489.3 557.2h0M504.7 565.1h0M509.5 547.3h0M508.0 526.5h0M500.9 545.4h0M485.4 544.7h0M511.9 564.4h0M521.1 560.0h0M450.6 529.8h0M502.6 578.0h0M479.0 580.9h0M436.6 560.4h0M473.1 567.8h0M464.6 582.5h0M477.1 556.8h0M464.8 550.0h0M484.1 560.4h0M439.6 540.1h0M442.7 549.0h0M442.9 589.1h0M457.4 551.2h0M429.8 559.2h0M436.8 581.7h0M478.8 584.6h0M446.1 587.4h0M449.5 594.7h0M454.5 567.8h0M439.4 557.4h0M461.8 567.4h0M461.4 549.8h0M486.8 584.6h0M484.6 554.4h0M451.3 574.6h0M462.3 591.1h0M447.4 569.2h0M427.0 566.4h0M454.2 550.8h0M462.2 540.4h0M480.6 549.8h0M466.6 565.6h0M443.4 585.2h0M498.4 561.0h0M465.3 562.8h0M468.2 562.3h0M448.4 551.6h0M486.7 581.2h0M445.5 574.4h0M472.2 555.6h0M432.1 570.2h0M476.9 580.6h0M453.9 529.1h0M477.2 543.4h0M443.1 541.8h0M467.9 576.0h0M427.2 564.2h0M478.0 550.2h0M482.3 565.8h0M473.8 532.2h0M440.9 587.9h0M467.2 570.1h0M447.3 536.5h0M442.1 581.0h0M451.9 569.3h0M437.6 532.0h0M436.1 554.0h0M442.2 555.6h0M481.4 591.4h0M478.7 561.2h0M428.2 545.2h0M484.6 578.9h0M493.9 575.8h0M471.5 533.5h0M455.1 522.4h0M429.5 547.8h0M490.0 560.7h0M501.7 562.4h0M498.5 572.9h0M443.2 525.1h0M458.8 577.3h0M473.7 562.3h0M468.5 594.1h0M440.1 526.8h0M425.2 545.7h0M437.5 548.5h0M446.5 525.5h0M459.7 589.8h0M452.9 592.1h0M435.8 542.3h0M468.2 536.9h0M461.7 576.4h0M456.9 583.6h0M484.5 575.8h0M428.1 536.1h0M488.7 558.2h0M487.7 562.9h0M451.9 554.7h0M461.7 552.5h0M464.3 544.9h0M467.3 587.5h0M480.8 569.9h0M442.7 576.9h0M454.4 559.3h0M478.1 546.0h0M439.4 547.9h0M469.8 555.7h0M472.5 569.9h0M481.7 573.0h0M475.4 577.6h0M438.9 586.7h0M443.3 562.6h0M428.1 573.9h0M498.1 578.2h0M472.3 543.9h0M500.5 576.4h0M432.0 555.4h0M447.9 554.5h0M471.1 579.7h0M464.7 557.8h0M472.5 538.4h0M446.6 532.4h0M451.0 550.1h0M448.2 522.5h0M478.1 565.6h0M491.0 563.1h0M456.7 587.0h0M476.1 560.6h0M490.3 567.8h0M487.2 569.4h0M468.8 559.9h0M459.8 560.7h0M474.3 544.3h0M479.0 542.6h0M450.7 558.6h0M479.9 557.9h0M444.4 547.5h0M496.3 575.6h0M450.4 562.0h0M463.7 568.5h0M458.6 545.3h0M438.5 542.2h0M475.3 548.6h0M504.6 574.6h0M431.8 538.4h0M462.6 555.0h0M432.5 544.5h0M451.8 563.8h0M444.5 538.0h0M444.6 572.1h0M476.2 541.7h0M474.0 583.4h0M424.4 553.7h0M430.0 533.1h0M442.4 565.8h0M455.2 542.1h0M470.6 548.0h0M459.1 586.6h0M438.5 563.7h0M456.8 563.9h0M449.2 525.1h0M442.1 530.9h0M452.1 521.9h0M455.3 527.9h0M441.1 525.7h0M448.5 525.5h0M446.4 528.0h0M456.6 521.5h0M443.9 532.2h0M442.7 533.8h0M446.8 533.5h0M454.0 533.5h0M443.9 529.2h0M453.9 524.8h0M456.4 529.2h0M455.7 525.8h0M449.0 534.5h0M447.4 523.7h0M450.7 525.2h0M451.2 523.4h0M445.7 523.0h0M455.2 559.5h0M455.5 555.7h0M450.9 562.9h0M454.5 566.1h0M458.3 558.8h0M459.0 564.8h0M446.3 565.6h0M453.6 567.4h0M455.5 558.1h0M449.2 559.4h0M456.9 567.5h0M447.8 559.1h0M452.4 562.4h0M453.5 555.6h0M454.2 560.6h0M453.3 558.1h0M450.0 567.4h0M555.0 519.3h0M556.9 520.2h0M558.9 520.4h0M560.2 521.9h0M562.3 523.3h0M564.5 525.7h0M566.8 526.4h0M568.4 527.8h0M570.1 529.1h0M571.9 530.9h0M572.7 532.1h0M576.2 534.6h0M575.8 534.4h0M579.3 537.4h0M580.7 538.1h0M583.1 539.4h0M584.5 541.3h0M585.9 542.3h0M587.8 543.2h0M589.6 544.8h0M591.5 546.3h0M594.0 548.5h0M594.8 549.3h0M595.3 550.8h0M597.5 552.4h0M546.6 442.0h0M571.0 437.8h0M575.9 446.6h0M586.4 428.4h0M567.1 457.1h0M568.3 459.4h0M584.6 451.3h0M585.7 457.1h0M576.4 465.3h0M621.7 419.2h0M617.7 400.9h0M626.7 411.1h0M628.7 413.1h0M604.1 407.2h0M640.0 418.4h0M614.2 395.2h0M637.5 420.6h0M621.6 413.0h0M617.2 414.9h0M610.0 407.9h0M609.1 400.9h0M615.1 390.6h0M612.2 408.2h0M592.0 386.9h0M634.1 415.5h0M619.9 407.3h0M618.5 410.1h0M611.4 402.3h0M637.6 417.7h0M622.3 409.7h0M614.0 411.0h0M609.3 402.7h0M607.2 410.5h0M608.7 391.1h0M608.1 401.6h0M597.5 392.8h0M620.5 406.1h0M608.5 383.9h0M603.4 392.5h0M613.3 410.1h0M610.0 394.6h0M613.6 397.1h0M615.7 407.4h0M610.6 412.6h0M599.5 386.4h0M624.6 422.0h0M596.4 386.9h0M617.3 393.2h0M610.7 395.9h0M600.6 386.7h0M606.3 408.1h0M632.1 422.4h0M595.3 391.1h0M611.8 394.9h0M595.9 389.2h0M633.2 416.9h0M595.9 382.0h0M616.2 395.0h0M602.2 400.4h0M606.0 406.3h0M622.3 406.6h0M632.7 420.4h0M605.1 384.1h0M601.3 382.6h0M606.3 398.4h0M617.4 408.4h0M613.0 393.3h0M627.8 419.0h0M615.9 399.1h0M603.3 406.2h0M600.4 383.7h0M600.5 394.7h0M602.1 404.3h0M634.5 416.5h0M628.6 419.9h0M608.2 405.2h0M605.3 397.9h0M615.0 413.5h0M623.3 412.8h0M618.3 416.4h0M609.0 396.0h0M620.8 408.5h0M611.4 408.9h0M592.3 389.0h0M630.5 416.9h0M589.2 397.5h0M587.5 401.7h0M590.8 409.2h0M598.0 409.2h0M603.7 414.2h0M590.8 418.3h0M595.8 421.7h0M586.7 428.3h0M595.8 427.5h0M601.7 425.8h0M604.7 427.2h0M642.5 427.5h0M645.8 427.5h0M646.7 430.8h0M643.3 434.2h0M612.0 431.7h0M618.7 432.8h0M624.2 433.3h0M625.0 436.7h0M635.5 434.2h0M636.7 438.3h0M606.7 437.0h0M608.3 437.5h0M615.0 439.2h0M619.7 440.5h0M632.2 442.5h0M591.7 442.0h0M596.7 444.2h0M597.5 446.7h0M610.0 442.8h0M610.8 445.8h0M626.3 446.3h0M616.7 448.0h0M615.8 451.3h0M595.0 450.3h0M609.2 452.5h0M623.3 452.8h0M607.5 455.8h0M570.8 437.8h0M576.2 446.7h0M585.0 451.7h0M584.2 454.2h0M566.7 456.7h0M568.0 459.7h0M600.0 461.8h0M575.2 472.4h0M597.7 468.4h0M606.8 462.3h0M601.9 467.0h0M568.6 472.0h0M574.8 475.6h0M591.1 460.1h0M595.0 461.7h0M593.2 462.5h0M582.3 467.9h0M603.0 464.5h0M588.5 470.2h0M576.9 468.6h0M593.0 468.5h0M581.2 464.1h0M573.1 470.2h0M564.7 471.7h0M598.8 466.0h0M587.3 462.3h0M589.4 462.8h0M579.5 463.4h0M592.9 471.2h0M592.6 465.8h0M588.8 459.5h0M617.5 466.2h0M621.7 464.7h0M625.8 466.2h0M628.3 460.5h0M633.3 465.0h0M635.8 460.5h0M637.5 455.0h0M638.3 465.8h0M642.5 464.2h0M643.3 452.8h0M650.0 459.5h0M654.2 425.8h0M660.5 428.0h0M655.0 432.0h0M658.3 433.3h0M661.7 434.2h0M664.2 437.5h0M665.8 440.0h0M668.3 438.0h0M669.2 439.7h0M658.3 447.5h0M668.3 448.3h0M654.2 453.3h0M657.5 452.5h0M658.3 455.8h0M655.8 461.7h0M660.0 460.0h0M665.8 458.3h0M665.8 463.7h0M670.0 455.0h0M673.3 457.5h0M673.3 460.8h0M677.5 460.0h0M683.3 464.7h0M697.0 438.3h0M714.2 447.4h0M715.2 473.1h0M714.3 458.2h0M699.9 463.2h0M698.9 456.5h0M699.6 429.3h0M684.2 450.3h0M677.5 429.0h0M689.1 435.6h0M693.2 461.3h0M720.6 462.3h0M696.1 456.5h0M723.2 459.7h0M686.9 458.9h0M681.7 441.6h0M717.9 473.3h0M709.7 439.3h0M701.6 455.9h0M721.9 464.8h0M725.7 452.7h0M727.7 462.4h0M686.2 425.2h0M678.9 453.4h0M692.6 464.3h0M685.1 444.0h0M709.2 460.5h0M694.1 443.3h0M683.1 455.3h0M689.7 439.1h0M721.5 456.9h0M710.1 474.1h0M688.9 441.7h0M689.2 460.1h0M679.9 449.9h0M712.0 439.7h0M714.7 450.4h0M696.8 469.1h0M691.5 438.6h0M693.3 453.7h0M687.7 423.2h0M725.4 458.0h0M712.8 463.2h0M689.9 456.8h0M718.0 452.7h0M692.4 435.2h0M703.0 456.2h0M694.7 464.0h0M703.0 465.0h0M706.3 450.2h0M714.8 460.1h0M697.6 429.2h0M723.4 454.2h0M705.3 456.0h0M698.0 436.6h0M716.8 449.0h0M692.1 428.5h0M678.1 451.8h0M716.4 474.8h0M705.8 472.7h0M711.8 466.9h0M701.5 430.7h0M710.9 472.5h0M681.6 452.4h0M719.0 464.5h0M700.5 432.2h0M690.5 453.3h0M714.4 470.0h0M712.9 468.0h0M689.0 437.3h0M719.5 458.0h0M711.2 436.4h0M676.6 430.4h0M707.1 458.9h0M715.0 445.0h0M703.9 469.0h0M678.1 434.3h0M689.1 426.3h0M684.8 432.3h0M689.9 433.9h0M702.2 435.8h0M679.1 430.1h0M702.1 444.5h0M721.7 466.9h0M682.6 435.1h0M693.5 449.8h0M704.4 439.2h0M684.1 434.8h0M706.6 445.7h0M720.2 467.1h0M678.6 438.9h0M691.2 423.8h0M698.6 439.8h0M677.6 445.9h0M697.2 462.4h0M724.1 464.9h0M707.4 465.8h0M701.8 468.5h0M715.1 474.6h0M697.7 433.1h0M685.5 442.0h0M705.1 434.6h0M718.5 450.5h0M699.7 451.8h0M720.9 447.0h0M699.4 459.2h0M717.6 446.5h0M682.9 443.6h0M716.7 456.1h0M697.4 445.9h0M706.4 455.3h0M684.3 437.3h0M679.8 432.0h0M713.8 452.5h0M712.6 471.1h0M700.6 448.7h0M715.5 468.8h0M702.0 440.7h0M706.8 460.8h0M680.8 453.6h0M700.0 469.1h0M699.6 461.4h0M676.5 439.6h0M695.7 431.2h0M692.0 459.1h0M688.8 454.4h0M681.6 438.0h0M708.0 448.8h0M711.4 452.2h0M711.4 449.8h0M707.8 475.9h0M702.9 474.6h0M707.9 467.9h0M703.2 432.5h0M694.5 465.8h0M716.7 462.9h0M676.5 443.0h0M688.1 420.5h0M705.1 437.2h0M718.8 471.5h0M702.8 447.6h0M710.7 453.7h0M708.1 445.7h0M711.6 458.7h0M709.8 452.6h0M699.4 463.1h0M701.9 446.7h0M715.4 462.4h0M717.7 463.6h0M711.6 460.5h0M716.2 459.6h0M701.2 457.9h0M710.2 443.0h0M705.9 462.7h0M700.3 449.7h0M707.5 460.6h0M711.1 457.3h0M702.9 465.8h0M723.0 459.5h0M718.9 459.2h0M711.1 464.1h0M710.9 451.2h0M716.8 458.4h0M719.3 453.8h0M711.3 471.0h0M706.6 446.8h0M715.3 464.6h0M703.4 443.7h0M703.5 446.9h0M720.8 495.8h0M733.3 519.2h0M728.4 599.6h0M765.9 596.1h0M766.8 604.2h0M767.8 593.8h0M777.0 590.0h0M742.3 598.1h0M711.9 586.7h0M738.6 596.2h0M769.8 592.2h0M771.5 584.1h0M733.7 595.7h0M758.2 600.3h0M758.2 591.6h0M760.3 599.5h0M765.6 603.1h0M730.3 598.2h0M768.5 599.1h0M726.0 594.4h0M709.0 580.9h0M734.2 598.8h0M723.2 596.0h0M764.3 599.2h0M740.5 600.4h0M780.6 590.9h0M761.0 597.4h0M772.4 588.8h0M751.4 599.2h0M753.6 605.6h0M720.3 587.9h0M734.4 592.8h0M743.8 595.9h0M783.7 587.9h0M776.8 592.1h0M718.9 594.2h0M778.8 592.8h0M754.3 602.7h0M730.3 593.7h0M771.1 595.9h0M733.8 601.7h0M713.1 585.1h0M750.2 607.3h0M752.8 607.2h0M714.6 586.8h0M765.7 591.9h0M738.7 602.0h0M751.1 600.7h0M762.7 599.5h0M729.9 601.1h0M755.6 602.7h0M747.3 602.5h0M764.9 600.9h0M722.0 591.7h0M749.9 606.2h0M755.8 591.4h0M745.2 601.1h0M737.0 598.5h0M720.0 591.6h0M710.8 585.0h0M763.2 597.5h0M781.8 586.6h0M749.5 596.7h0M748.5 606.3h0M746.4 596.6h0M744.2 594.1h0M765.8 595.0h0M752.1 606.2h0M714.6 591.0h0M735.9 591.9h0M715.9 593.0h0M767.0 596.3h0M757.3 600.9h0M768.6 592.7h0M746.6 606.2h0M775.7 593.7h0M770.6 598.6h0M753.5 592.0h0M770.5 584.6h0M773.2 599.4h0M777.4 594.4h0M750.9 596.7h0M715.9 588.6h0M724.8 597.5h0M775.7 596.5h0M752.4 592.8h0M773.9 593.0h0M744.1 601.7h0M718.2 589.8h0M754.5 599.6h0M746.1 603.0h0M783.1 585.5h0M747.0 600.2h0M752.3 594.3h0M750.5 604.7h0M735.0 597.3h0M758.9 603.1h0M708.9 579.4h0M711.8 583.6h0M748.4 597.1h0M760.0 591.7h0M743.4 597.5h0M721.1 588.6h0M740.5 594.0h0M722.5 593.5h0M769.5 597.9h0M750.5 595.5h0M745.0 599.6h0M763.2 602.2h0M731.4 591.7h0M759.7 593.9h0M726.5 592.8h0M715.8 591.1h0M762.1 593.6h0M722.8 592.5h0M742.1 600.2h0M764.2 597.3h0M755.3 604.4h0M772.1 591.3h0M756.3 598.0h0M746.8 597.8h0M745.0 597.1h0M754.5 595.6h0M741.8 602.9h0M768.0 601.6h0M769.9 596.8h0M772.7 593.4h0M710.3 583.1h0M723.8 591.1h0M774.1 594.0h0M742.2 586.5h0M755.7 589.5h0M733.2 537.0h0M732.5 540.7h0M743.0 537.7h0M740.7 541.5h0M743.0 544.5h0M747.5 545.2h0M753.5 546.7h0M750.5 550.5h0M746.0 549.7h0M740.7 550.5h0M735.5 546.7h0M731.0 549.0h0M749.0 555.0h0M755.0 554.5h0M748.2 556.5h0M742.7 557.7h0M752.7 562.2h0M755.7 562.2h0M756.5 567.0h0M761.7 568.5h0M762.5 570.0h0M758.7 571.0h0M749.7 575.2h0M723.2 567.3h0M729.2 571.3h0M776.0 566.7h0M780.8 570.0h0M784.5 564.3h0M720.9 495.7h0M733.5 520.2h0M774.0 632.4h0M746.0 547.5h0M749.7 548.2h0M884.4 375.4h0M875.0 371.8h0M900.1 368.9h0M903.3 369.8h0M900.2 375.4h0M878.2 370.7h0M864.1 364.2h0M882.2 374.5h0M889.9 369.5h0M895.7 367.6h0M881.8 371.3h0M874.0 376.1h0M883.4 378.1h0M892.2 368.9h0M880.1 370.4h0M860.1 366.3h0M902.1 372.0h0M893.3 367.7h0M909.1 373.1h0M886.6 371.9h0M883.8 368.5h0M872.3 369.8h0M903.0 371.4h0M880.6 374.4h0M860.9 366.9h0M901.1 371.1h0M881.4 369.7h0M867.9 370.1h0M876.0 372.4h0M868.4 368.5h0M892.4 370.9h0M887.5 370.5h0M896.9 366.1h0M865.5 371.5h0M863.5 368.2h0M898.1 371.4h0M870.2 371.2h0M886.1 368.4h0M903.7 368.0h0M866.7 372.0h0M869.1 375.2h0M865.6 366.6h0M880.1 378.0h0M882.9 375.7h0M882.0 376.3h0M894.6 372.5h0M894.0 370.6h0M875.9 373.8h0M871.5 368.8h0M871.6 371.6h0M887.8 377.1h0M865.2 368.3h0M870.2 368.6h0M871.2 367.5h0M891.4 375.0h0M870.6 366.3h0M873.4 374.2h0M883.6 374.4h0M873.2 370.6h0M906.5 368.1h0M881.7 377.7h0M862.4 363.4h0M868.0 366.0h0M864.7 365.0h0M901.1 373.6h0M876.9 376.0h0M896.9 368.2h0M904.7 369.8h0M882.3 372.5h0M890.2 375.1h0M895.1 366.6h0M898.9 368.5h0M897.0 375.7h0M867.4 364.6h0M899.6 373.0h0M924.6 367.1h0M919.3 373.5h0M924.0 369.0h0M926.7 367.7h0M922.7 367.3h0M918.3 376.7h0M920.4 372.7h0M925.8 368.7h0M915.1 368.3h0M924.6 374.8h0M914.4 370.8h0M926.4 375.6h0M925.1 370.8h0M921.5 375.9h0M928.5 366.8h0M916.0 375.5h0M921.3 366.6h0M917.0 372.0h0M931.7 373.2h0M930.6 372.5h0M926.8 370.3h0M914.1 373.1h0M925.6 372.2h0M915.2 366.9h0M920.2 376.8h0M912.8 371.5h0M923.8 370.2h0M921.6 369.2h0M919.7 375.7h0M920.4 368.9h0M930.7 368.9h0M925.5 374.2h0M922.3 370.6h0M924.5 373.8h0M918.5 365.7h0M932.2 375.4h0M926.1 365.2h0M930.1 374.0h0M919.9 367.6h0M923.6 366.4h0M930.6 349.6h0M937.3 367.4h0M964.7 369.3h0M935.7 363.7h0M948.8 368.2h0M966.1 366.3h0M948.8 366.5h0M955.9 370.4h0M938.4 365.2h0M957.0 374.0h0M959.9 373.8h0M957.8 369.0h0M933.1 356.6h0M942.3 360.1h0M944.9 366.3h0M951.4 364.3h0M949.1 371.2h0M959.8 364.4h0M954.1 364.6h0M949.1 372.2h0M944.0 375.7h0M935.9 357.5h0M957.7 364.1h0M949.2 380.3h0M957.1 370.2h0M933.9 352.2h0M927.0 348.9h0M941.5 371.8h0M935.7 369.5h0M933.2 360.2h0M941.3 366.1h0M954.6 362.5h0M929.3 353.3h0M960.9 362.8h0M952.1 372.6h0M933.8 359.1h0M936.3 375.4h0M953.0 369.6h0M948.1 377.5h0M938.2 376.1h0M955.2 365.6h0M937.6 355.5h0M953.2 377.1h0M938.5 368.4h0M970.9 372.5h0M949.3 369.3h0M959.6 359.8h0M941.6 370.0h0M934.7 361.1h0M945.9 363.3h0M933.7 355.5h0M958.4 361.1h0M970.6 368.3h0M955.9 372.6h0M968.9 366.1h0M954.2 371.4h0M956.1 367.0h0M952.4 379.9h0M932.2 354.3h0M947.5 375.6h0M942.4 376.5h0M956.2 381.5h0M955.6 362.5h0M956.7 375.3h0M958.8 379.4h0M967.0 373.2h0M939.7 369.2h0M944.8 364.4h0M931.7 357.6h0M962.0 371.3h0M947.7 374.4h0M942.9 357.1h0M944.9 377.9h0M946.3 380.4h0M964.4 366.9h0M961.3 365.0h0M935.7 373.6h0M964.8 373.5h0M956.4 363.4h0M945.6 361.2h0M971.8 368.9h0M969.4 371.2h0M947.9 380.2h0M937.2 363.3h0M951.2 374.4h0M953.8 366.7h0M929.3 350.8h0M950.9 381.8h0M940.4 374.8h0M948.2 382.0h0M935.1 359.1h0M962.3 367.2h0M938.0 360.5h0M935.6 353.1h0M967.9 369.5h0M933.3 353.9h0M961.6 376.7h0M936.5 362.1h0M935.2 362.7h0M954.9 380.6h0M959.0 363.7h0M952.9 363.4h0M926.0 353.2h0M931.6 353.4h0M933.1 369.1h0M951.7 367.9h0M969.7 372.2h0M941.7 378.4h0M935.2 365.6h0M936.8 374.0h0M937.0 368.5h0M949.9 366.3h0M933.4 370.7h0M947.7 367.4h0M930.5 353.1h0M951.1 376.8h0M951.6 370.9h0M949.7 362.6h0M932.0 367.3h0M966.2 370.6h0M949.2 361.1h0M943.0 372.2h0M965.2 371.3h0M938.6 363.2h0M960.1 380.2h0M937.4 356.5h0M957.4 362.9h0M943.2 361.5h0M939.6 371.4h0M938.7 373.9h0M945.1 376.4h0M966.8 371.6h0M970.9 369.4h0M964.3 365.3h0M944.4 380.6h0M952.0 366.7h0M931.9 361.3h0M942.0 364.1h0M942.9 359.1h0M941.7 375.5h0M939.3 355.9h0M954.5 374.6h0M965.8 368.5h0M951.2 363.1h0M951.0 380.6h0M968.9 367.1h0M967.3 367.0h0M954.8 375.6h0M959.0 378.2h0M960.2 377.5h0M961.1 368.3h0M963.5 364.6h0M957.9 381.2h0M930.5 352.1h0M928.3 351.8h0M927.4 354.4h0M970.5 366.8h0M949.6 375.6h0M956.3 377.1h0M941.9 358.6h0M944.8 370.3h0M957.8 376.7h0M971.4 373.5h0M941.1 369.0h0M959.4 369.2h0M958.0 366.4h0M961.4 361.5h0M952.2 376.4h0M953.6 372.7h0M958.5 369.7h0M946.8 378.7h0M958.2 372.6h0M944.7 358.4h0M951.7 369.4h0M945.9 368.7h0M941.4 361.1h0M963.7 373.1h0M930.5 357.0h0M940.3 362.9h0M933.0 364.6h0M948.6 362.9h0M947.9 371.0h0M943.0 369.1h0M926.9 352.5h0M953.3 381.5h0M951.1 366.2h0M938.9 358.3h0M944.8 372.8h0M953.9 379.9h0M941.0 364.8h0M961.2 363.7h0M946.6 372.4h0M934.4 353.3h0M952.6 382.6h0M939.9 377.6h0M960.4 370.9h0M941.5 373.9h0M948.3 373.3h0M966.4 375.1h0M936.1 371.7h0M931.9 359.4h0M943.9 357.7h0M956.4 371.6h0M933.9 366.2h0M937.8 372.2h0M960.2 372.7h0M953.4 362.2h0M932.6 365.6h0M939.6 370.3h0M959.0 366.9h0M946.2 376.2h0M968.3 372.7h0M962.4 370.1h0M935.2 367.4h0M940.9 362.0h0M932.3 370.0h0M949.7 374.2h0M963.1 371.8h0M951.3 361.5h0M944.1 379.6h0M965.2 370.2h0M948.0 365.0h0M955.8 368.9h0M934.0 357.2h0M939.9 366.1h0M954.8 376.9h0M964.0 368.1h0M952.5 374.7h0M940.5 375.8h0M950.3 361.5h0M963.4 367.0h0M952.6 378.4h0M955.5 378.4h0M956.9 378.3h0M946.9 360.3h0M946.4 365.3h0M936.2 354.9h0M942.9 375.4h0M958.9 376.0h0M926.3 350.1h0M952.1 381.7h0M962.9 363.1h0M970.0 374.6h0M944.5 374.5h0M932.0 352.2h0M960.1 378.7h0M939.8 358.9h0M924.0 402.0h0M925.8 400.2h0M928.4 397.4h0M930.5 396.9h0M931.7 395.9h0M933.3 395.0h0M936.5 392.8h0M938.4 391.4h0M939.1 389.9h0M854.2 361.3h0M856.3 362.7h0M858.2 363.4h0M860.4 363.7h0M862.9 364.9h0M864.1 366.7h0M864.2 370.4h0M866.8 370.3h0M869.7 370.8h0M870.3 372.2h0M920.7 395.7h0M900.7 430.3h0M922.8 536.8h0M919.9 536.2h0M914.9 532.8h0M917.5 537.5h0M914.8 537.6h0M914.3 539.2h0M911.4 539.3h0M912.7 542.0h0M910.2 542.2h0M908.9 542.3h0M910.2 545.6h0M909.0 547.8h0M904.3 545.7h0M904.9 548.3h0M904.3 550.2h0M904.1 551.6h0M903.0 553.0h0M901.9 554.6h0M901.8 556.6h0M902.3 558.1h0M900.1 558.8h0M901.4 561.4h0M900.8 562.2h0M897.8 563.5h0M897.8 565.2h0M898.4 567.0h0M896.2 568.6h0M898.0 570.2h0M896.9 571.9h0M895.8 572.3h0M895.7 574.0h0M895.4 577.0h0M895.3 578.0h0M896.1 579.4h0M896.1 581.2h0M912.9 547.5h0M916.8 543.2h0M916.2 540.5h0M912.0 545.4h0M917.9 536.8h0M911.3 542.8h0M916.5 544.9h0M915.6 549.5h0M921.2 537.1h0M898.3 590.8h0M901.5 597.1h0M912.5 551.3h0M914.8 557.8h0M911.9 560.7h0M909.0 565.9h0M913.7 567.7h0M912.7 576.1h0M913.2 584.2h0M912.0 589.6h0M916.0 544.3h0M918.3 538.5h0M1006.7 761.7h0M963.1 718.4h0M975.9 768.9h0M973.5 749.7h0M962.3 680.0h0M965.5 733.2h0M991.6 737.3h0M956.8 742.4h0M980.6 762.4h0M951.9 745.8h0M927.9 763.0h0M1041.1 732.0h0M989.6 773.0h0M980.1 752.9h0M993.5 736.6h0M993.9 770.4h0M964.5 767.5h0M963.8 733.2h0M955.8 756.3h0M957.1 749.4h0M972.6 724.4h0M958.6 714.8h0M995.5 771.7h0M1000.2 744.4h0M945.5 757.7h0M933.9 769.1h0M998.1 741.1h0M1008.1 746.2h0M921.5 767.4h0M959.6 668.9h0M1035.0 746.8h0M920.2 765.6h0M969.0 778.5h0M1030.1 739.7h0M947.3 774.2h0M990.0 761.0h0M943.8 738.0h0M961.9 677.1h0M976.1 760.2h0M1021.9 748.7h0M978.4 734.1h0M944.8 736.6h0M948.5 772.8h0M953.9 700.1h0M959.5 651.4h0M953.6 750.8h0M948.1 721.5h0M1018.0 754.9h0M1005.1 767.6h0M958.8 728.5h0M931.0 757.4h0M963.8 643.1h0M959.5 766.4h0M976.3 754.9h0M1005.0 762.6h0M965.6 740.0h0M1019.3 753.2h0M969.1 731.1h0M955.1 745.4h0M1024.0 763.5h0M1000.4 757.9h0M1035.4 741.3h0M963.0 659.7h0M914.8 773.8h0M965.4 637.4h0M968.7 762.8h0M990.1 753.6h0M981.3 779.4h0M956.3 703.5h0M955.2 707.2h0M987.7 777.7h0M1028.6 748.5h0M1028.9 749.8h0M1027.0 753.8h0M1002.6 755.2h0M964.5 751.5h0M1015.5 756.2h0M976.5 765.9h0M972.6 746.7h0M969.0 750.7h0M960.9 670.6h0M989.2 733.7h0M950.6 776.0h0M971.2 743.5h0M958.8 670.8h0M938.7 762.1h0M949.9 727.3h0M1030.9 738.4h0M1011.9 765.9h0M1007.2 768.2h0M1000.6 737.0h0M1013.0 759.1h0M996.9 762.8h0M999.6 752.2h0M950.3 722.8h0M1008.6 772.8h0M997.2 771.4h0M926.4 758.3h0M927.4 756.4h0M1020.7 754.7h0M1054.8 726.4h0M964.4 655.1h0M1043.7 732.1h0M972.9 738.0h0M927.8 752.9h0M955.2 759.6h0M993.7 761.9h0M1031.3 750.2h0M1043.1 736.3h0M1024.5 758.3h0M1026.8 741.0h0M1021.7 761.4h0M986.1 731.7h0M983.2 762.3h0M949.5 768.5h0M963.7 645.0h0M947.6 746.4h0M950.7 703.9h0M955.3 723.3h0M957.0 775.4h0M992.1 757.6h0M930.0 754.6h0M981.2 767.2h0M977.0 730.0h0M930.3 758.9h0M951.7 700.8h0M1004.5 758.7h0M935.9 763.6h0M950.9 764.7h0M959.5 768.2h0M975.6 745.7h0M1021.3 743.2h0M940.3 769.8h0M928.0 776.8h0M936.6 755.9h0M1012.9 771.9h0M982.6 731.2h0M1013.5 745.0h0M935.1 756.1h0M1020.6 767.5h0M984.6 744.7h0M966.3 777.0h0M1020.7 741.5h0M960.4 666.3h0M920.0 757.9h0M983.5 770.9h0M987.5 766.1h0M994.5 748.7h0M1032.9 742.2h0M949.7 700.1h0M1026.6 743.1h0M957.6 672.2h0M974.2 755.8h0M965.5 763.5h0M958.2 743.2h0M916.9 778.6h0M964.0 740.7h0M978.1 751.3h0M966.9 640.1h0M961.1 678.8h0M932.1 767.8h0M987.2 759.7h0M974.5 771.8h0M994.3 758.0h0M993.5 753.3h0M962.9 721.3h0M968.1 740.2h0M981.0 744.6h0M949.4 757.3h0M1014.1 768.4h0M1017.2 751.6h0M963.8 746.9h0M986.4 624.6h0M988.9 742.5h0M994.8 742.4h0M1008.2 757.9h0M1032.2 738.1h0M919.7 768.8h0M968.3 720.7h0M965.4 657.9h0M962.6 663.1h0M986.3 750.3h0M935.9 761.4h0M942.5 746.1h0M972.6 760.4h0M959.6 726.5h0M939.6 738.5h0M950.7 757.8h0M966.1 634.0h0M978.9 728.9h0M952.9 741.5h0M937.4 738.3h0M978.2 761.3h0M959.7 674.6h0M961.6 730.2h0M976.7 724.0h0M958.5 758.6h0M964.3 759.2h0M981.7 735.5h0M958.3 719.0h0M1028.4 740.5h0M986.0 740.8h0M938.4 751.4h0M974.3 726.7h0M1018.2 765.5h0M970.5 776.2h0M990.7 755.8h0M984.5 776.6h0M971.1 736.6h0M952.8 748.4h0M973.9 757.8h0M1024.6 747.2h0M961.7 723.5h0M952.2 716.2h0M1002.2 768.8h0M984.7 767.8h0M989.1 732.1h0M953.2 771.8h0M978.3 778.0h0M966.4 736.6h0M960.3 750.6h0M994.5 775.9h0M1002.1 764.5h0M929.9 772.4h0M974.4 633.7h0M971.2 763.8h0M959.6 741.0h0M979.7 777.8h0M1018.3 747.0h0M942.7 767.2h0M966.9 668.7h0M1006.2 765.9h0M1067.5 662.2h0M985.9 762.1h0M980.4 764.9h0M965.8 758.4h0M925.6 767.2h0M963.4 734.7h0M961.5 653.7h0M990.3 743.0h0M972.1 749.7h0M997.6 776.0h0M1019.2 766.8h0M1019.6 745.8h0M945.7 748.1h0M1024.7 753.2h0M951.9 729.0h0M1015.7 762.6h0M947.5 741.4h0M958.1 729.7h0M1015.1 750.0h0M974.9 738.5h0M1067.0 696.9h0M992.4 776.8h0M966.8 663.0h0M976.7 767.7h0M989.4 768.0h0M997.9 745.1h0M942.5 735.5h0M982.3 739.3h0M1051.4 732.5h0M932.1 773.9h0M1048.6 731.5h0M1006.4 739.9h0M1038.5 747.8h0M920.1 764.2h0M953.9 753.5h0M942.9 769.0h0M970.1 633.2h0M1042.7 738.2h0M965.8 744.6h0M964.0 753.2h0M924.2 778.5h0M923.4 755.6h0M985.9 767.2h0M968.1 765.6h0M988.9 755.2h0M964.1 641.4h0M972.6 722.7h0M957.0 772.8h0M1045.6 737.2h0M969.6 743.4h0M1041.6 734.7h0M1007.1 760.2h0M944.6 755.1h0M1002.8 774.8h0M984.5 774.2h0M965.1 729.1h0M944.2 739.7h0M961.2 768.6h0M1028.5 742.8h0M931.8 772.0h0M976.1 758.3h0M946.9 777.2h0M968.6 736.6h0M1014.6 752.8h0M1010.5 746.8h0M924.0 768.8h0M945.0 771.7h0M1011.4 748.9h0M936.6 750.6h0M964.0 714.9h0M921.3 759.4h0M935.6 745.1h0M940.7 750.4h0M1001.1 761.7h0M988.0 733.1h0M958.4 747.7h0M982.5 741.8h0M1041.6 631.9h0M965.7 653.1h0M1048.0 735.7h0M957.0 750.7h0M947.3 759.3h0M944.1 746.7h0M1012.8 762.2h0M990.4 748.8h0M935.9 739.8h0M924.7 775.3h0M941.0 735.8h0M1019.1 760.1h0M993.1 745.4h0M1011.0 761.7h0M969.1 638.7h0M998.7 750.6h0M927.7 771.2h0M954.8 727.1h0M978.3 724.9h0M923.5 759.1h0M972.2 742.2h0M966.6 773.1h0M944.2 734.5h0M961.6 726.6h0M993.0 750.0h0M963.5 761.1h0M1000.4 619.7h0M967.3 727.7h0M1021.3 752.3h0M965.5 654.4h0M1004.0 769.3h0M955.0 702.6h0M970.7 740.2h0M952.2 765.4h0M972.7 755.6h0M961.5 741.5h0M969.7 637.2h0M974.0 742.1h0M991.6 749.9h0M958.8 677.3h0M953.3 745.2h0M984.6 762.7h0M996.5 770.1h0M965.0 647.5h0M994.1 740.7h0M1040.3 740.7h0M965.6 664.8h0M969.4 773.2h0M1008.3 766.7h0M959.9 773.6h0M958.6 753.3h0M965.9 720.9h0M935.4 759.2h0M961.7 770.5h0M1017.3 753.2h0M960.8 753.6h0M1033.3 740.1h0M938.6 744.2h0M964.8 722.4h0M967.0 766.5h0M1013.4 743.1h0M958.1 668.7h0M966.2 725.4h0M969.1 725.4h0M939.7 775.5h0M984.5 728.6h0M969.1 719.6h0M919.1 759.1h0M964.8 673.1h0M961.0 728.9h0M962.0 714.8h0M978.9 726.3h0M936.3 769.5h0M952.8 775.4h0M953.5 709.6h0M959.8 759.5h0M921.1 774.4h0M964.8 731.2h0M1039.5 630.4h0M973.2 739.8h0M1050.5 725.4h0M1015.0 759.9h0M968.3 635.4h0M982.9 627.7h0M956.2 753.4h0M942.6 751.6h0M945.5 735.1h0M986.9 730.5h0M1014.2 772.5h0M918.7 770.6h0M1011.5 758.8h0M964.7 727.3h0M941.9 753.1h0M1008.6 755.2h0M990.8 759.3h0M978.2 745.2h0M957.0 732.9h0M989.5 744.7h0M1005.1 742.3h0M950.2 748.5h0M957.9 768.2h0M1033.7 753.1h0M970.8 725.8h0M1019.5 768.4h0M989.9 746.1h0M938.2 774.9h0M942.3 744.8h0M1013.3 757.4h0M968.2 759.5h0M952.7 736.2h0M1022.3 745.1h0M1003.2 759.5h0M957.2 716.5h0M963.5 727.9h0M954.5 734.0h0M964.1 679.5h0M988.7 769.8h0M949.0 765.4h0M955.9 772.1h0M928.5 760.4h0M941.7 737.2h0M933.6 747.3h0M965.3 635.3h0M917.6 780.5h0M1008.3 750.3h0M1022.4 762.9h0M1046.2 740.9h0M942.4 756.3h0M957.5 752.6h0M991.6 748.1h0M965.1 734.7h0M976.9 740.0h0M1019.3 748.2h0M1024.5 750.3h0M961.0 732.4h0M920.5 772.1h0M961.5 724.9h0M946.9 769.5h0M1002.8 619.3h0M977.7 632.1h0M921.5 755.8h0M1010.9 763.5h0M924.8 764.0h0M975.0 776.7h0M987.3 774.0h0M945.4 775.4h0M996.7 764.9h0M956.1 764.9h0M991.4 744.9h0M972.4 634.0h0M986.2 777.5h0M959.9 756.4h0M1009.6 762.8h0M980.0 745.6h0M982.8 746.9h0M1025.7 755.6h0M1005.8 751.7h0M995.5 736.2h0M994.2 766.8h0M1010.2 759.4h0M1048.1 728.8h0M949.5 743.9h0M934.9 751.2h0M947.3 720.2h0M955.8 695.0h0M960.9 719.6h0M931.9 762.9h0M966.1 723.5h0M936.7 772.6h0M918.8 772.7h0M927.7 769.5h0M1011.1 740.3h0M1050.4 731.7h0M969.4 723.7h0M966.2 667.1h0M960.5 743.2h0M1054.2 639.9h0M1017.9 741.7h0M1001.8 748.7h0M964.4 656.6h0M1033.1 744.1h0M1037.6 733.9h0M1021.6 759.4h0M915.4 777.5h0M984.0 733.9h0M960.2 752.4h0M1045.7 728.4h0M993.0 742.7h0M952.9 768.8h0M962.9 633.5h0M944.9 770.3h0M983.8 765.7h0M916.1 769.2h0M924.9 779.8h0M930.8 753.6h0M970.8 719.1h0M945.5 752.2h0M984.2 756.8h0M1008.8 753.8h0M979.4 724.2h0M954.4 766.9h0M942.4 762.9h0M936.5 747.6h0M1055.4 724.2h0M948.9 747.0h0M961.6 738.0h0M1026.5 761.5h0M973.7 730.7h0M984.7 626.6h0M961.4 647.6h0M926.5 761.4h0M996.6 755.0h0M1034.0 755.0h0M996.7 743.9h0M993.3 769.2h0M975.0 748.2h0M998.5 739.5h0M989.8 736.1h0M1044.8 740.4h0M1037.7 738.6h0M973.7 765.0h0M932.8 766.2h0M1005.2 749.9h0M952.0 706.3h0M931.2 741.9h0M988.2 734.8h0M918.2 762.7h0M941.6 775.0h0M947.5 763.7h0M1027.6 744.8h0M1044.4 742.9h0M978.5 764.8h0M984.7 772.4h0M962.1 712.0h0M960.0 730.5h0M942.5 749.5h0M1023.5 621.7h0M961.0 745.0h0M940.5 748.8h0M1028.2 757.4h0M1000.2 756.2h0M961.6 761.1h0M975.1 770.2h0M932.6 758.4h0M958.5 710.2h0M960.0 647.1h0M970.4 747.3h0M958.6 735.1h0M981.8 727.2h0M956.1 738.3h0M984.8 746.4h0M922.9 781.4h0M946.2 754.5h0M962.4 644.0h0M996.2 751.2h0M1000.5 763.7h0M1000.6 767.8h0M1013.5 750.4h0M947.5 766.8h0M983.5 773.0h0M976.5 762.6h0M1031.4 743.3h0M922.0 760.9h0M964.0 748.4h0M981.1 755.5h0M937.5 770.1h0M1015.9 743.3h0M920.2 778.3h0M1024.7 761.7h0M914.7 778.6h0M1013.5 769.7h0M953.8 715.0h0M1001.0 772.6h0M985.8 733.5h0M1036.3 750.0h0M1029.0 744.1h0M1000.1 749.6h0M951.3 734.3h0M944.4 745.3h0M993.4 772.2h0M1029.5 751.7h0M956.9 778.2h0M948.2 754.1h0M965.7 765.4h0M957.8 740.7h0M979.2 774.9h0M1014.4 765.4h0M951.4 763.3h0M979.5 761.5h0M971.8 780.7h0M997.3 768.6h0M949.9 741.9h0M950.6 702.2h0M995.9 757.6h0M956.3 770.3h0M982.9 767.2h0M983.3 726.5h0M955.1 714.5h0M1045.6 732.6h0M974.8 779.2h0M982.6 734.3h0M969.6 635.9h0M944.9 750.9h0M951.9 738.0h0M995.7 739.2h0M954.4 698.5h0M1006.2 744.5h0M983.0 776.7h0M1056.8 722.1h0M985.6 753.2h0M955.1 741.6h0M987.5 769.2h0M976.1 752.0h0M991.2 738.8h0M965.6 718.8h0M967.2 730.1h0M998.8 759.3h0M998.2 756.8h0M949.6 754.8h0M956.2 737.0h0M1033.8 745.5h0M973.3 766.9h0M978.0 766.2h0M957.0 766.5h0M998.1 761.0h0M1003.1 772.6h0M1035.3 735.8h0M1008.3 759.6h0M982.5 729.4h0M987.8 756.3h0M989.5 622.7h0M1009.6 744.5h0M1009.5 617.9h0M1017.4 678.5h0M1061.0 664.2h0M972.4 715.0h0M1055.7 642.3h0M996.2 635.5h0M1038.3 675.8h0M1034.1 714.1h0M999.6 690.3h0M1057.8 697.0h0M1011.3 671.5h0M973.2 663.0h0M993.7 629.4h0M977.7 689.3h0M980.5 698.0h0M975.8 676.4h0M991.9 630.3h0M1017.0 651.9h0M1038.3 634.6h0M988.8 650.1h0M1030.4 678.2h0M1021.8 658.2h0M1020.2 668.2h0M1025.3 688.9h0M1005.5 637.0h0M1021.0 674.2h0M1000.1 727.9h0M1004.8 735.4h0M1000.9 683.9h0M1029.9 657.4h0M1052.0 641.1h0M986.0 645.9h0M971.3 653.7h0M1021.1 739.0h0M964.2 712.6h0M1032.4 663.5h0M1046.2 722.7h0M991.9 642.2h0M1064.6 705.6h0M1060.5 665.9h0M1065.8 663.8h0M1031.5 690.3h0M1048.8 699.7h0M1044.2 725.8h0M1033.9 712.9h0M1006.8 667.4h0M1053.2 659.3h0M1031.3 729.3h0M966.2 655.1h0M998.3 672.1h0M1031.9 707.8h0M1062.5 656.1h0M1061.0 711.4h0M990.6 627.8h0M992.3 654.3h0M968.2 715.7h0M1036.1 720.4h0M1019.7 719.3h0M969.9 657.9h0M1043.1 699.1h0M1048.3 725.6h0M1031.3 628.8h0M1041.9 691.4h0M1057.1 665.9h0M1011.9 708.6h0M1030.8 638.3h0M1012.9 716.7h0M1038.5 712.4h0M1050.5 697.8h0M977.4 652.7h0M1011.8 676.2h0M999.9 636.4h0M1040.1 685.4h0M990.8 685.9h0M992.8 709.7h0M980.0 699.3h0M1035.9 710.8h0M1012.0 626.9h0M1038.9 662.2h0M1040.7 688.2h0M990.5 652.9h0M1006.5 699.9h0M1023.0 670.7h0M960.1 698.0h0M974.2 639.7h0M1039.6 677.4h0M1022.4 637.9h0M1020.8 684.2h0M982.6 698.2h0M998.9 728.4h0M979.3 704.2h0M967.0 701.8h0M1026.6 641.5h0M1047.7 677.3h0M978.2 713.0h0M1003.1 667.2h0M1044.3 653.1h0M974.8 717.1h0M1011.3 721.2h0M1057.5 654.5h0M1038.2 729.0h0M1037.0 724.6h0M996.8 673.5h0M1016.7 732.2h0M1040.8 663.2h0M979.4 655.3h0M995.1 628.2h0M995.8 718.0h0M1008.8 638.4h0M989.6 645.0h0M967.9 694.3h0M1041.5 709.1h0M1026.6 635.4h0M1002.1 673.1h0M983.9 669.3h0M1033.0 715.0h0M1010.2 702.7h0M1018.2 730.8h0M994.6 687.4h0M1030.1 728.1h0M993.8 660.0h0M1033.2 667.9h0M1010.7 617.6h0M1004.0 672.2h0M990.8 657.2h0M1048.9 689.1h0M998.7 661.7h0M1062.6 708.5h0M1033.9 629.4h0M1062.1 674.3h0M977.3 710.0h0M1046.9 661.5h0M1054.3 698.5h0M1021.7 738.1h0M994.7 723.4h0M1024.1 625.5h0M993.7 661.9h0M1047.6 715.6h0M1060.5 687.6h0M1044.5 677.7h0M1034.9 680.5h0M1032.6 695.1h0M1037.9 641.5h0M1008.6 711.3h0M1035.9 701.2h0M1031.1 661.1h0M1060.3 691.9h0M1035.6 664.9h0M1032.5 729.0h0M961.1 693.6h0M1019.8 650.2h0M1023.1 680.2h0M1048.8 692.0h0M1056.6 672.6h0M969.2 650.8h0M1039.4 713.1h0M1063.7 671.3h0M1004.4 696.4h0M1015.4 716.1h0M998.5 723.8h0M984.3 690.5h0M1051.6 695.9h0M988.6 715.5h0M986.3 652.4h0M1035.7 639.3h0M1057.8 643.3h0M1036.5 660.0h0M971.8 647.7h0M973.5 700.2h0M1031.9 733.4h0M971.0 710.1h0M1059.8 667.7h0M968.5 661.7h0M1009.2 736.2h0M1014.7 737.7h0M1049.1 724.3h0M975.5 696.1h0M1030.6 646.0h0M1008.0 663.7h0M993.6 716.2h0M1002.3 631.4h0M1017.4 738.2h0M981.3 633.4h0M1013.5 730.6h0M1002.4 635.8h0M1056.7 680.8h0M970.5 642.0h0M1029.6 643.0h0M1028.6 667.7h0M972.6 664.8h0M1020.2 691.5h0M1013.4 650.4h0M1007.7 710.8h0M979.1 684.0h0M1061.0 648.4h0M1065.1 679.0h0M978.0 704.1h0M1022.7 642.2h0M1009.5 626.8h0M1015.4 628.0h0M1033.6 727.9h0M1025.4 738.6h0M984.7 631.5h0M1009.1 642.9h0M1010.4 657.0h0M1057.6 661.4h0M1041.1 704.7h0M972.8 680.3h0M1054.5 682.3h0M1019.7 733.6h0M1055.2 664.1h0M1040.6 716.5h0M1037.8 725.9h0M1058.9 666.9h0M1060.8 652.8h0M996.9 725.4h0M1045.2 705.0h0M969.5 653.8h0M1034.4 700.3h0M1020.2 657.1h0M1007.4 630.2h0M981.7 656.5h0M1038.5 678.1h0M1000.9 622.4h0M1026.2 665.2h0M965.8 681.4h0M1027.8 721.8h0M1021.0 628.2h0M1064.6 703.1h0M1050.1 703.2h0M1050.9 710.4h0M1066.6 695.4h0M1027.5 716.1h0M1019.9 653.3h0M1047.3 663.0h0M976.4 701.0h0M1039.3 709.7h0M996.7 708.9h0M1026.7 648.6h0M1006.2 671.3h0M1019.8 718.0h0M1020.8 632.9h0M1017.4 694.6h0M993.6 674.1h0M1004.9 644.8h0M1039.9 726.1h0M1039.7 720.6h0M1029.5 655.5h0M968.9 656.0h0M1026.4 669.3h0M1049.4 708.6h0M992.8 673.5h0M986.2 663.6h0M1050.9 712.1h0M974.2 665.2h0M1024.9 717.1h0M1002.6 646.2h0M1005.7 639.2h0M1046.7 644.6h0M1017.3 687.4h0M1035.2 678.1h0M995.9 715.5h0M989.4 671.7h0M1033.0 666.4h0M1017.6 735.9h0M1016.6 689.7h0M1003.3 660.3h0M1019.8 640.9h0M990.5 728.7h0M1028.3 694.5h0M1059.6 689.6h0M990.8 710.6h0M990.0 682.9h0M1016.2 661.3h0M1035.0 727.5h0M971.1 676.3h0M973.1 653.1h0M972.9 666.2h0M992.8 638.0h0M1019.6 628.3h0M964.4 688.6h0M1017.9 709.9h0M1017.4 698.1h0M1056.3 657.0h0M1055.7 660.9h0M995.2 622.7h0M1015.0 625.1h0M1002.5 736.6h0M1006.0 696.2h0M1019.1 713.3h0M983.2 714.4h0M1027.6 713.3h0M1002.0 674.6h0M1020.5 626.1h0M989.0 706.4h0M991.8 659.6h0M988.3 657.4h0M1036.1 650.8h0M1012.1 657.7h0M999.9 624.3h0M1008.7 706.2h0M1036.5 684.6h0M1039.2 632.1h0M1022.0 651.2h0M1033.2 639.3h0M970.2 706.2h0M1005.6 694.1h0M999.7 710.2h0M1023.1 638.8h0M970.8 656.7h0M1017.2 671.6h0M973.7 707.3h0M970.8 663.3h0M1010.4 681.4h0M1008.6 620.7h0M1038.2 673.6h0M1032.0 696.6h0M1029.0 641.8h0M983.8 648.2h0M982.8 720.6h0M1010.0 732.7h0M1009.6 641.9h0M982.8 638.9h0M997.2 727.9h0M1024.5 635.8h0M972.1 649.3h0M956.8 699.5h0M1054.8 644.9h0M1041.4 640.8h0M982.8 629.1h0M1047.1 719.0h0M970.2 693.7h0M1007.6 683.0h0M996.8 640.6h0M969.6 675.6h0M1007.8 667.1h0M1049.0 664.2h0M1002.4 708.3h0M1056.4 712.7h0M977.3 661.1h0M1005.0 677.7h0M998.6 735.3h0M1061.0 698.8h0M1000.5 659.8h0M1056.0 646.6h0M985.3 718.0h0M1035.0 712.7h0M1008.0 722.0h0M1051.1 665.4h0M1025.2 636.8h0M1011.0 678.5h0M999.4 719.8h0M1010.5 635.4h0M1036.9 666.2h0M1005.5 674.1h0M986.3 657.4h0M1036.5 640.0h0M988.9 710.4h0M1045.8 721.2h0M1062.8 663.3h0M993.9 682.9h0M1020.7 735.3h0M1018.8 675.6h0M1028.9 658.8h0M1016.6 730.8h0M968.4 695.8h0M979.3 649.1h0M975.4 694.5h0M996.2 733.1h0M1038.5 687.2h0M970.8 659.6h0M1046.2 692.2h0M1000.3 632.0h0M1011.1 619.4h0M998.3 655.7h0M1000.7 717.7h0M1027.6 654.1h0M1043.3 645.7h0M968.8 707.9h0M1046.9 711.1h0M1015.3 690.9h0M1057.9 658.6h0M1013.3 674.7h0M970.2 664.2h0M1047.6 652.6h0M982.0 714.8h0M1059.5 664.3h0M1026.9 630.8h0M1054.7 674.1h0M1000.9 646.7h0M1009.3 686.9h0M1062.4 702.7h0M981.4 709.7h0M1024.4 729.0h0M1001.5 649.1h0M964.3 710.4h0M1050.1 695.2h0M973.0 639.3h0M1004.4 709.2h0M1019.0 679.1h0M1064.6 698.4h0M990.4 724.6h0M981.7 693.7h0M1061.2 657.8h0M1032.5 681.2h0M1023.6 637.0h0M982.0 635.2h0M1003.2 724.9h0M989.8 699.4h0M973.9 696.6h0M1005.0 672.3h0M987.0 680.2h0M995.0 713.5h0M972.6 669.4h0M957.8 699.2h0M999.2 632.6h0M968.0 657.6h0M1063.8 657.1h0M1027.1 698.8h0M1013.2 620.3h0M1029.4 729.9h0M1054.6 662.2h0M1035.4 632.7h0M1039.3 638.0h0M1046.4 672.4h0M1005.4 732.5h0M1021.1 697.7h0M994.1 729.7h0M1018.0 695.8h0M980.3 684.0h0M986.5 627.3h0M995.6 731.0h0M1018.9 667.1h0M1040.9 726.1h0M1048.7 680.7h0M1042.5 709.8h0M998.1 698.1h0M995.5 643.4h0M1013.4 684.3h0M996.4 683.4h0M1037.6 723.1h0M991.3 666.1h0M994.1 714.1h0M1042.9 641.7h0M1052.3 684.0h0M1032.6 657.3h0M1037.2 707.5h0M1026.9 695.9h0M984.9 629.9h0M1034.5 721.2h0M994.1 632.5h0M1014.7 651.9h0M1044.8 654.9h0M977.2 720.4h0M970.9 670.5h0M1012.7 664.2h0M1007.6 713.4h0M994.4 688.5h0M980.2 669.4h0M1004.4 720.4h0M1048.9 687.6h0M978.6 680.7h0M992.7 646.9h0M1032.3 702.5h0M974.7 657.8h0M1054.1 707.1h0M1012.6 720.7h0M981.2 661.3h0M997.9 701.2h0M984.5 725.4h0M999.6 697.9h0M1044.0 694.6h0M985.9 644.4h0M1043.3 692.9h0M1014.3 708.6h0M1038.0 715.3h0M1025.1 631.4h0M996.4 723.3h0M1053.5 687.9h0M994.7 638.5h0M965.3 700.3h0M1010.2 669.5h0M1035.3 685.7h0M978.2 700.4h0M1064.1 676.1h0M1018.9 645.3h0M989.2 696.7h0M967.0 696.1h0M1062.1 687.9h0M1049.3 669.2h0M1044.5 670.4h0M1014.5 634.1h0M1048.0 644.2h0M983.0 696.0h0M1037.9 651.1h0M1062.9 649.1h0M1044.6 644.4h0M1017.3 711.1h0M1013.5 688.2h0M983.0 640.7h0M999.2 646.8h0M968.5 700.5h0M1016.8 655.7h0M1021.4 676.2h0M1039.5 647.5h0M1013.4 625.3h0M984.5 723.9h0M1054.0 695.5h0M1000.5 651.3h0M1046.6 658.7h0M1017.0 715.1h0M993.5 671.6h0M1019.8 688.9h0M1017.6 723.0h0M989.7 718.9h0M974.7 653.2h0M1051.8 706.6h0M1003.5 702.1h0M988.3 633.5h0M1045.2 638.4h0M991.4 699.3h0M1056.9 694.5h0M999.6 724.1h0M1021.6 706.4h0M1011.6 698.4h0M1013.8 624.3h0M1035.4 637.2h0M1007.2 730.9h0M1001.6 731.9h0M987.2 722.5h0M1006.1 651.0h0M998.1 668.9h0M969.8 683.5h0M1009.0 657.4h0M967.7 689.2h0M1040.7 668.1h0M1020.5 647.1h0M981.2 667.2h0M997.9 633.5h0M980.7 680.8h0M981.8 629.4h0M1036.3 634.3h0M1005.0 700.3h0M988.2 631.6h0M1029.2 638.7h0M971.4 664.7h0M1057.4 690.0h0M983.8 713.6h0M1002.0 626.6h0M971.8 706.1h0M991.4 703.2h0M1043.7 649.2h0M1041.8 663.9h0M977.9 718.7h0M972.5 701.0h0M1015.7 696.3h0M1008.0 695.0h0M1046.3 665.8h0M1062.3 669.5h0M1001.4 733.4h0M1027.9 645.1h0M1028.7 626.5h0M966.3 651.6h0M1039.3 730.5h0M999.7 643.6h0M1016.0 681.9h0M996.1 627.4h0M1000.1 723.1h0M1023.9 703.9h0M982.8 666.0h0M969.2 674.1h0M996.1 629.0h0M994.1 643.3h0M1063.0 691.9h0M969.9 714.3h0M968.0 681.2h0M1035.4 657.8h0M1036.7 703.1h0M973.5 658.3h0M1057.4 718.8h0M991.8 700.7h0M977.7 686.7h0M983.8 650.1h0M978.1 660.3h0M1054.6 677.2h0M983.9 634.5h0M972.9 659.9h0M1014.5 664.3h0M1029.5 692.4h0M1025.5 645.6h0M978.2 682.2h0M994.8 709.3h0M965.6 677.8h0M973.8 645.0h0M1045.8 726.9h0M1047.2 694.1h0M1040.1 639.2h0M1056.6 704.7h0M1054.6 653.0h0M1056.2 665.2h0M1018.7 634.5h0M1027.1 681.5h0M1048.0 681.7h0M1005.5 684.4h0M980.7 648.4h0M1011.7 643.6h0M1006.6 715.0h0M1029.0 674.2h0M1016.6 712.3h0M986.5 703.9h0M994.3 650.2h0M984.8 640.3h0M1063.5 680.1h0M1043.1 637.9h0M988.0 627.5h0M1004.1 686.9h0M980.5 700.6h0M1031.9 700.7h0M1043.3 700.6h0M1021.3 678.1h0M1031.0 732.9h0M1047.8 689.0h0M1044.0 716.4h0M1036.9 672.9h0M1023.5 645.6h0M1048.6 676.4h0M1022.5 626.8h0M1003.1 710.6h0M996.5 654.2h0M999.9 676.6h0M1053.6 691.5h0M1016.4 723.6h0M1002.7 719.2h0M1034.5 718.1h0M1026.4 676.8h0M983.2 652.6h0M1012.6 641.2h0M981.5 649.5h0M1037.9 716.8h0M1059.4 710.5h0M1018.8 692.7h0M981.3 653.6h0M966.8 657.6h0M1003.4 697.0h0M1004.0 642.5h0M1064.3 654.8h0M977.8 715.2h0M1017.8 707.3h0M1008.6 693.1h0M1022.6 625.2h0M997.5 680.8h0M995.3 721.7h0M1013.7 646.1h0M984.6 691.7h0M1017.7 644.7h0M998.1 639.6h0M1028.5 651.8h0M983.2 723.4h0M1037.5 713.9h0M1034.8 672.9h0M1044.7 710.2h0M1001.4 629.7h0M999.3 683.4h0M1028.3 680.6h0M1000.3 700.2h0M1016.9 658.6h0M1001.7 639.3h0M1054.7 697.6h0M1019.5 739.0h0M1025.1 725.7h0M1056.7 703.2h0M982.3 652.1h0M1028.9 662.4h0M987.6 647.6h0M996.8 727.0h0M1037.2 658.1h0M985.7 725.4h0M1050.7 720.1h0M997.3 713.3h0M1010.9 641.7h0M1056.7 667.2h0M1009.6 739.4h0M1001.2 644.7h0M1010.6 704.0h0M990.3 722.8h0M978.6 696.3h0M1063.9 672.3h0M1054.5 713.5h0M1029.9 675.6h0M1042.8 661.2h0M975.5 656.8h0M1021.2 719.8h0M966.0 707.1h0M965.5 686.5h0M992.4 665.7h0M998.9 649.2h0M1035.1 660.5h0M1023.0 708.0h0M1028.4 678.0h0M1025.5 672.9h0M1065.7 687.4h0M974.9 703.6h0M1002.8 629.4h0M1026.6 685.9h0M1050.0 691.3h0M1044.5 667.3h0M988.6 697.8h0M1031.7 670.2h0M1059.7 703.0h0M1008.3 629.0h0M994.5 717.9h0M1026.2 629.3h0M1037.4 689.4h0M975.0 718.7h0M991.0 671.0h0M1009.7 658.9h0M1065.4 702.4h0M981.8 677.5h0M1034.6 638.7h0M982.2 709.1h0M977.3 690.4h0M975.4 671.7h0M964.4 695.8h0M1014.3 623.4h0M1004.2 683.2h0M1034.5 667.5h0M1041.2 673.5h0M1018.3 701.5h0M1049.1 719.7h0M1042.0 730.4h0M988.4 634.7h0M983.0 667.7h0M1010.4 719.5h0M1018.0 717.0h0M968.7 685.7h0M960.7 696.6h0M1005.4 668.6h0M1048.1 683.7h0M995.8 725.7h0M965.5 694.6h0M979.2 678.6h0M972.8 718.2h0M1002.0 668.2h0M994.6 646.4h0M965.1 684.3h0M1042.3 644.0h0M1031.3 657.1h0M1029.4 724.9h0M1000.6 714.4h0M972.1 668.5h0M1039.1 689.8h0M1014.6 679.6h0M1023.7 634.0h0M969.9 689.6h0M976.6 696.3h0M1020.6 703.7h0M1006.8 726.2h0M1008.1 660.2h0M998.3 631.2h0M1023.7 700.5h0M974.6 713.4h0M983.7 724.5h0M997.8 621.1h0M1026.0 631.9h0M1036.3 643.5h0M999.3 673.4h0M1006.3 677.4h0M1011.4 633.3h0M989.5 708.2h0M1011.7 621.5h0M1034.9 640.5h0M1045.9 681.3h0M969.6 681.8h0M998.2 637.4h0M1057.1 707.9h0M994.6 704.6h0M1054.2 647.7h0M990.7 678.0h0M986.5 660.8h0M1027.6 735.8h0M1035.7 663.9h0M991.2 692.8h0M1039.8 719.0h0M1038.0 644.1h0M1053.9 719.0h0M986.8 705.5h0M987.5 641.9h0M1032.3 676.2h0M1026.3 663.4h0M973.6 694.2h0M1000.2 715.6h0M1011.0 625.4h0M984.0 660.6h0M1000.8 689.0h0M1035.7 667.6h0M1047.7 691.8h0M1003.9 648.6h0M984.0 672.3h0M997.3 732.2h0M1008.6 668.6h0M1033.9 682.7h0M1020.6 645.2h0M993.9 625.0h0M1060.2 647.5h0M975.1 712.6h0M1022.8 671.8h0M985.5 679.7h0M977.0 655.8h0M994.3 676.3h0M1035.5 724.8h0M1012.1 701.5h0M1014.9 668.8h0M1056.2 685.1h0M987.2 632.0h0M964.9 702.8h0M980.5 690.3h0M1004.7 703.7h0M1044.2 698.7h0M999.5 638.6h0M1033.4 706.5h0M975.4 655.8h0M1001.8 729.3h0M1023.5 733.1h0M969.4 692.2h0M994.1 663.7h0M1017.2 666.2h0M1049.1 695.7h0M968.4 662.9h0M991.6 672.5h0M1029.9 660.7h0M1028.3 737.4h0M1016.7 677.0h0M1016.1 694.2h0M1009.5 673.8h0M984.3 641.5h0M999.0 645.1h0M1009.8 716.3h0M1003.2 685.1h0M992.6 723.8h0M1021.0 728.0h0M1007.2 652.9h0M979.7 707.5h0M1009.5 701.6h0M997.0 674.7h0M1026.6 710.0h0M994.2 678.0h0M970.3 666.4h0M1044.1 635.9h0M1031.5 706.1h0M1022.5 630.9h0M988.8 659.4h0M1014.4 631.7h0M981.2 704.4h0M1020.2 630.0h0M1061.2 697.8h0M1030.4 632.9h0M984.6 627.5h0M1055.3 706.8h0M1020.3 689.9h0M989.0 653.4h0M997.4 721.9h0M1008.9 726.2h0M1017.2 642.1h0M1006.7 654.8h0M1065.3 655.2h0M997.3 637.8h0M1064.5 687.4h0M992.1 649.7h0M983.6 706.0h0M1053.2 647.4h0M1045.2 651.9h0M1043.2 672.8h0M980.1 656.6h0M983.5 718.8h0M1036.8 695.7h0M984.0 636.9h0M1034.8 703.7h0M979.6 660.3h0M963.4 696.2h0M1031.2 666.7h0M970.1 707.7h0M973.7 679.3h0M1004.5 675.4h0M967.1 697.7h0M983.2 708.3h0M1013.7 641.1h0M1063.7 684.4h0M994.2 691.9h0M993.2 652.7h0M994.6 653.1h0M991.6 691.8h0M1061.2 676.7h0M1054.9 659.8h0M992.4 623.7h0M1050.6 672.4h0M963.0 700.6h0M975.0 682.8h0M1021.7 659.9h0M1050.2 692.4h0M982.4 710.2h0M970.1 639.4h0M1008.6 699.4h0M993.0 681.3h0M1053.8 644.1h0M1020.0 659.9h0M1023.4 661.8h0M1024.7 655.0h0M1029.3 679.7h0M986.1 639.4h0M999.8 668.7h0M989.6 670.0h0M978.3 654.5h0M992.5 699.5h0M1053.3 685.4h0M1005.8 711.1h0M990.1 673.1h0M1024.6 660.1h0M1018.1 638.6h0M1035.2 691.3h0M1050.7 649.0h0M1036.7 726.8h0M1055.8 674.2h0M1040.7 692.2h0M1001.9 656.7h0M961.8 694.7h0M984.5 658.8h0M1043.1 650.4h0M1043.4 697.0h0M1061.2 701.2h0M1044.1 682.3h0M1028.7 713.0h0M983.0 679.3h0M1010.5 724.9h0M1017.7 629.5h0M1038.3 695.5h0M1026.8 723.1h0M983.3 688.9h0M1037.0 715.1h0M1005.4 647.0h0M1010.6 694.6h0M960.9 705.4h0M1025.9 720.6h0M1041.9 710.8h0M1011.7 622.7h0M1007.6 670.4h0M1026.5 728.0h0M987.8 668.5h0M1054.8 646.0h0M1036.1 714.7h0M999.4 691.9h0M1051.9 657.7h0M1039.5 655.0h0M1006.5 722.3h0M971.8 651.4h0M1022.1 705.0h0M1013.3 699.7h0M996.2 632.6h0M1058.0 645.7h0M1060.4 706.3h0M991.3 708.4h0M1059.7 681.6h0M1023.7 685.6h0M991.0 635.4h0M984.9 654.5h0M1020.2 714.2h0M976.2 648.8h0M1066.0 685.6h0M994.5 701.1h0M1036.1 669.5h0M969.8 702.5h0M975.8 697.2h0M1053.7 664.1h0M991.8 725.4h0M1060.4 690.2h0M1044.5 722.4h0M1007.8 651.7h0M1056.9 702.1h0M980.0 650.6h0M1004.1 704.6h0M1028.6 717.4h0M992.4 694.7h0M981.5 713.6h0M1042.0 706.2h0M1026.3 705.5h0M998.3 711.2h0M1005.1 676.7h0M1008.8 697.0h0M998.1 693.2h0M1010.6 646.0h0M1050.1 721.1h0M999.1 732.6h0M1042.9 702.7h0M974.6 648.7h0M1029.4 689.1h0M1034.9 630.6h0M999.7 627.7h0M1065.7 668.3h0M1004.5 649.5h0M1037.3 667.9h0M1005.5 622.9h0M989.7 713.8h0M1019.6 643.9h0M1010.3 685.3h0M997.3 623.6h0M1016.9 649.4h0M1002.9 721.4h0M1015.2 648.1h0M1015.2 657.5h0M1001.5 643.4h0M1055.3 685.8h0M1013.6 713.9h0M1008.5 716.0h0M1030.0 715.8h0M1007.0 729.8h0M1045.7 642.0h0M996.8 661.8h0M1060.9 659.2h0M1035.9 658.9h0M1010.6 714.4h0M1008.3 656.1h0M1065.9 666.5h0M1063.4 695.7h0M1050.1 641.7h0M1041.0 729.9h0M1037.1 662.0h0M1054.9 651.0h0M990.4 629.6h0M1064.2 704.4h0M1048.8 678.4h0M1016.1 643.4h0M1049.2 655.0h0M1006.0 624.2h0M994.2 641.3h0M1024.1 735.7h0M1056.8 698.2h0M1048.9 652.9h0M1050.5 714.1h0M1054.4 708.5h0M994.8 634.0h0M1018.7 659.9h0M1023.9 651.5h0M1045.7 674.0h0M1013.6 685.7h0M1024.8 657.1h0M1041.1 683.7h0M995.3 689.7h0M968.3 643.0h0M1034.8 717.0h0M1034.3 664.2h0M1049.6 642.9h0M1062.3 675.3h0M1042.5 681.9h0M1034.0 688.8h0M1032.6 689.9h0M1016.1 697.5h0M1035.3 699.2h0M1043.8 708.0h0M1032.4 694.0h0M1058.3 676.9h0M976.2 720.2h0M1029.7 652.1h0M1059.5 668.8h0M966.2 679.2h0M1016.9 726.8h0M1053.3 655.1h0M1014.0 648.4h0M1001.8 699.0h0M1006.0 729.2h0M1049.5 723.0h0M998.0 643.0h0M1017.8 664.2h0M1008.5 633.7h0M1031.5 665.1h0M1005.4 660.2h0M992.7 635.7h0M969.4 665.5h0M989.0 686.0h0M967.3 644.8h0M982.1 650.5h0M1016.9 693.1h0M987.6 628.5h0M1031.4 725.2h0M1016.1 663.1h0M994.1 707.3h0M1007.4 661.9h0M988.2 695.8h0M965.8 692.1h0M1001.7 650.3h0M1010.0 667.2h0M1048.2 636.7h0M977.5 701.9h0M1067.1 692.7h0M1059.5 662.9h0M1014.2 711.8h0M1030.1 680.5h0M1005.5 652.6h0M1033.6 709.6h0M1043.0 653.5h0M971.4 677.3h0M973.1 686.9h0M1037.3 697.0h0M958.3 705.4h0M992.5 730.7h0M1013.2 724.9h0M963.3 705.6h0M1000.7 682.5h0M1009.0 631.3h0M976.1 654.1h0M1026.9 644.2h0M970.8 651.7h0M999.6 634.7h0M1013.8 727.6h0M1056.3 719.4h0M1055.1 671.2h0M1020.9 642.1h0M986.3 721.1h0M1028.2 732.6h0M966.7 647.1h0M986.4 640.9h0M1010.9 731.7h0M1026.8 674.4h0M1023.6 640.0h0M977.3 687.7h0M977.9 709.0h0M1044.0 676.0h0M964.2 686.9h0M1040.1 658.9h0M1004.2 652.0h0M1049.6 666.7h0M986.6 648.0h0M1053.3 700.8h0M1046.7 668.3h0M1050.1 680.6h0M991.3 730.9h0M1035.1 695.7h0M1053.2 677.9h0M970.6 711.8h0M1022.8 690.9h0M1050.1 690.1h0M1057.0 679.8h0M1030.5 639.8h0M1001.6 720.8h0M1038.6 697.5h0M984.0 666.3h0M1010.4 624.1h0M1041.8 701.5h0M992.9 722.5h0M1047.5 641.1h0M992.4 651.4h0M1027.7 714.7h0M1047.2 709.9h0M1041.0 681.1h0M1003.4 700.6h0M1015.5 638.4h0M1038.4 655.6h0M1011.0 652.2h0M976.1 669.8h0M968.6 640.3h0M1014.7 636.3h0M1053.3 642.2h0M972.6 672.0h0M1035.1 674.3h0M977.6 692.5h0M1024.3 642.2h0M968.6 711.5h0M971.0 661.6h0M1041.5 689.3h0M1046.9 680.3h0M1028.5 628.3h0M969.3 705.3h0M1022.4 639.6h0M1063.5 661.5h0M980.6 715.4h0M1017.0 682.8h0M996.6 693.1h0M1059.1 651.1h0M972.8 645.2h0M1045.0 702.1h0M984.7 657.8h0M1047.2 703.4h0M1006.1 659.4h0M1036.2 653.1h0M1033.4 632.4h0M969.3 709.4h0M1024.5 696.0h0M982.0 696.7h0M1015.7 654.9h0M1015.7 649.7h0M1013.9 726.3h0M985.2 701.8h0M1018.5 631.1h0M1033.4 734.7h0M1051.2 692.0h0M1013.7 703.1h0M1004.7 634.4h0M1051.9 673.4h0M972.5 704.8h0M960.2 694.6h0M993.3 728.6h0M1057.4 681.8h0M986.0 722.6h0M970.9 693.0h0M1013.6 639.1h0M1017.9 690.8h0M1061.1 695.9h0M1033.7 698.5h0M987.9 687.9h0M1017.3 669.8h0M1008.9 721.1h0M985.5 705.0h0M973.7 640.5h0M1037.0 708.6h0M1028.8 726.6h0M1003.3 680.4h0M1021.9 632.8h0M1004.2 621.8h0M990.1 703.4h0M1036.5 689.0h0M1051.1 675.0h0M999.9 666.4h0M1003.5 717.5h0M1026.1 684.1h0M1022.5 715.5h0M958.3 702.7h0M1010.0 678.0h0M1007.3 655.7h0M1015.7 637.0h0M999.1 679.6h0M989.2 664.9h0M985.9 708.1h0M1043.6 684.1h0M1025.7 694.4h0M1037.3 710.4h0M1038.2 643.1h0M963.8 692.1h0M1034.8 709.5h0M1028.2 632.7h0M997.8 647.3h0M1018.5 711.6h0M1045.0 687.1h0M973.6 648.1h0M986.7 670.4h0M1029.6 706.8h0M1034.5 659.1h0M1000.6 674.7h0M1048.0 639.5h0M1039.7 678.6h0M1011.8 646.5h0M995.7 720.0h0M1031.8 649.9h0M1023.4 697.4h0M1024.1 632.0h0M1034.0 651.2h0M991.7 698.0h0M966.8 691.3h0M1046.1 669.4h0M1058.7 642.5h0M1058.4 654.2h0M1026.3 654.6h0M1055.5 695.5h0M1017.9 739.7h0M1016.5 736.9h0M1030.8 643.3h0M990.7 696.5h0M997.0 665.8h0M1000.6 736.0h0M1042.9 664.6h0M981.1 655.3h0M1055.8 662.9h0M988.3 651.8h0M982.3 639.8h0M1022.9 707.0h0M1031.4 682.4h0M1015.4 703.7h0M1030.4 685.8h0M991.3 683.5h0M1011.3 636.8h0M971.6 667.3h0M1063.7 652.8h0M968.3 647.6h0M1001.6 721.8h0M984.9 660.0h0M961.5 710.2h0M1011.5 713.7h0M1051.4 687.5h0M1055.6 702.9h0M1007.9 671.6h0M1049.1 702.8h0M1043.9 713.1h0M1007.0 664.4h0M1037.6 631.1h0M967.5 692.5h0M964.1 705.0h0M988.2 713.6h0M1040.3 723.6h0M1048.1 646.7h0M1024.8 663.0h0M1019.7 681.7h0M1036.5 728.0h0M993.4 731.5h0M1025.6 713.9h0M1055.7 678.0h0M1046.7 707.6h0M964.5 699.6h0M1002.7 623.0h0M1005.1 725.6h0M967.8 653.0h0M975.5 698.7h0M1045.6 668.1h0M1049.4 658.7h0M1016.0 623.5h0M1007.4 705.8h0M1010.4 692.5h0M1022.6 702.5h0M1052.0 668.3h0M973.9 714.3h0M1052.7 648.4h0M993.3 668.4h0M1009.1 713.4h0M1033.3 701.8h0M1062.1 682.6h0M1017.6 681.6h0M985.3 664.5h0M979.1 663.5h0M1003.2 706.6h0M972.8 651.6h0M1050.1 661.0h0M1023.0 683.7h0M983.0 674.0h0M1007.4 681.8h0M1026.9 693.6h0M981.8 644.0h0M1010.1 623.0h0M966.2 704.9h0M1015.1 680.8h0M1030.5 702.3h0M1038.2 654.1h0M1051.7 722.1h0M987.1 711.0h0M1007.3 638.6h0M1010.0 662.0h0M1048.1 704.2h0M1058.3 647.4h0M1053.6 671.5h0M997.5 688.2h0M1038.0 690.9h0M992.0 726.4h0M1032.1 626.7h0M1020.7 662.5h0M961.6 688.8h0M961.2 702.7h0M1024.3 671.8h0M1043.6 634.4h0M997.7 709.8h0M1037.9 718.4h0M1003.1 669.9h0M1034.3 655.1h0M1006.2 621.7h0M1045.7 697.7h0M998.3 650.2h0M1036.6 686.1h0M1040.3 679.4h0M991.2 626.1h0M1018.0 651.7h0M1062.3 677.8h0M1035.5 655.5h0M989.8 692.4h0M1040.3 649.4h0M1013.8 720.3h0M1014.1 690.1h0M1026.9 638.6h0M989.3 655.4h0M970.9 673.8h0M1031.7 735.0h0M1006.3 619.3h0M1050.8 706.0h0M992.3 687.1h0M990.3 707.4h0M1041.9 697.3h0M993.1 719.5h0M1001.5 701.6h0M984.4 688.3h0M1018.4 670.4h0M1027.7 664.6h0M989.9 723.7h0M1020.2 637.2h0M974.6 654.2h0M1050.4 684.7h0M1046.7 706.2h0M987.7 727.7h0M968.5 713.3h0M990.8 718.2h0M991.3 681.7h0M1008.5 636.9h0M970.3 672.2h0M1014.0 721.3h0M1042.2 676.9h0M1012.0 693.9h0M1027.8 704.0h0M1023.9 708.7h0M1028.3 663.2h0M1007.3 738.3h0M1057.0 650.4h0M1028.9 640.3h0M1007.8 719.9h0M1018.5 669.0h0M1046.1 687.5h0M988.1 719.8h0M1030.8 697.8h0M1021.7 685.8h0M1065.7 697.2h0M1033.3 703.3h0M1046.8 639.5h0M996.0 684.7h0M1042.8 680.0h0M1011.5 668.5h0M980.0 672.4h0M1044.3 672.2h0M999.7 629.2h0M1005.9 678.5h0M1031.5 634.6h0M1039.5 692.4h0M1049.7 706.0h0M966.3 649.6h0M1015.0 671.6h0M1051.6 709.0h0M1022.7 739.7h0M980.4 720.2h0M1023.3 663.6h0M1023.7 727.6h0M983.0 711.5h0M989.0 662.4h0M1054.1 686.4h0M1056.0 691.2h0M986.9 689.6h0M1004.9 693.1h0M1004.1 626.2h0M1041.0 686.8h0M1065.5 690.1h0M1048.2 648.9h0M1056.7 706.8h0M1057.9 657.0h0M1055.4 649.1h0M972.3 703.6h0M983.1 681.5h0M1024.7 637.7h0M1041.2 707.6h0M1042.7 696.1h0M1032.2 646.1h0M1010.3 710.3h0M1012.1 725.1h0M987.9 703.7h0M991.0 632.6h0M967.1 660.2h0M994.4 720.0h0M990.1 668.4h0M1049.7 640.1h0M982.3 634.1h0M1003.6 679.2h0M976.1 674.7h0M1023.8 627.6h0M1046.4 705.2h0M1006.8 636.7h0M1007.2 686.8h0M1063.2 659.0h0M990.1 632.1h0M1054.7 642.6h0M1058.2 662.4h0M974.0 661.8h0M992.2 662.8h0M994.6 637.1h0M1035.5 692.2h0M1054.8 683.6h0M1041.4 675.2h0M1040.3 717.8h0M1017.2 639.7h0M972.3 683.6h0M995.9 710.3h0M1060.7 704.1h0M1012.6 670.7h0M1042.5 712.2h0M1051.7 638.8h0M984.9 708.3h0M1001.2 678.1h0M1004.0 623.7h0M1025.2 632.8h0M1024.3 623.2h0M1021.0 624.1h0M1031.4 658.8h0M983.1 707.2h0M1033.1 684.9h0M999.0 700.7h0M967.3 661.2h0M974.5 693.8h0M1031.4 686.8h0M972.6 695.9h0M996.6 650.0h0M1000.2 625.9h0M967.4 655.6h0M988.3 676.4h0M1013.1 628.3h0M998.3 683.0h0M960.7 699.8h0M1013.7 718.4h0M986.1 628.9h0M1027.1 656.4h0M985.0 716.5h0M1037.7 633.5h0M965.5 710.0h0M1009.1 635.4h0M1009.3 653.0h0M1058.2 659.8h0M1004.9 731.1h0M1014.7 678.4h0M1007.9 675.0h0M1065.7 658.4h0M1052.8 651.0h0M1023.6 647.4h0M1019.5 647.8h0M1009.1 694.9h0M1055.5 717.0h0M957.9 703.7h0M995.3 683.5h0M1028.4 643.9h0M1058.9 697.5h0M1026.3 679.4h0M994.6 696.9h0M1019.9 704.9h0M990.2 680.1h0M1031.4 695.4h0M991.3 723.8h0M1063.4 689.3h0M1003.3 711.8h0M1001.3 641.3h0M1015.4 726.6h0M1009.2 715.1h0M971.3 691.4h0M1005.9 690.3h0M1022.6 735.3h0M978.7 702.5h0M1036.6 681.0h0M997.4 658.5h0M1054.2 699.5h0M1035.7 731.0h0M1019.1 652.6h0M1009.6 711.6h0M1006.2 642.6h0M1036.9 692.5h0M994.8 669.9h0M975.9 683.6h0M1009.9 727.9h0M1011.8 666.3h0M967.7 703.4h0M1004.5 656.0h0M1029.6 681.5h0M991.5 628.6h0M1033.3 691.1h0M980.3 676.2h0M979.1 691.6h0M1032.2 643.3h0M979.9 645.9h0M1004.5 710.7h0M1012.6 733.7h0M974.5 678.2h0M1027.8 633.9h0M997.0 657.1h0M984.3 642.8h0M989.7 637.4h0M999.3 695.5h0M1017.3 691.7h0M1007.0 646.0h0M992.1 656.8h0M1043.8 678.8h0M996.9 720.0h0M988.8 721.5h0M1010.0 729.0h0M988.3 683.4h0M1001.7 661.4h0M1001.1 691.4h0M991.1 655.6h0M1017.3 621.2h0M1064.5 666.9h0M1002.2 651.3h0M1033.4 723.4h0M1006.4 630.8h0M983.7 677.5h0M1018.4 654.5h0M1011.9 717.6h0M1028.4 707.7h0M1018.0 704.2h0M1005.4 702.3h0M1018.7 694.5h0M987.4 699.8h0M1013.3 634.0h0M996.7 626.0h0M1047.6 670.0h0M996.6 624.7h0M1001.7 676.3h0M1055.1 687.5h0M1021.1 708.2h0M974.6 636.5h0M981.3 659.0h0M1042.9 715.5h0M1001.6 707.5h0M979.6 709.7h0M970.9 688.8h0M1053.2 690.3h0M973.4 681.9h0M1029.2 718.2h0M991.9 709.3h0M975.1 684.8h0M1024.9 666.8h0M1040.6 655.7h0M1056.9 714.2h0M1037.4 663.6h0M1061.0 663.2h0M1059.7 696.7h0M1020.9 729.4h0M975.1 643.6h0M1034.6 668.6h0M1029.8 673.4h0M1026.6 690.9h0M979.1 668.8h0M1039.5 697.1h0M1013.7 652.3h0M994.8 630.6h0M975.1 677.4h0M1004.6 722.5h0M993.5 697.5h0M1035.1 729.3h0M1035.7 652.1h0M1020.9 732.9h0M979.2 712.3h0M984.1 702.7h0M1054.7 711.6h0M1051.8 671.4h0M1013.0 655.8h0M1001.5 686.1h0M997.9 678.0h0M1059.4 694.0h0M1008.9 648.5h0M1057.6 686.9h0M999.6 729.8h0M1042.5 654.8h0M1052.3 703.9h0M1014.7 696.7h0M1036.4 693.6h0M1022.1 733.5h0M1043.6 668.5h0M1026.4 718.2h0M1003.6 654.6h0M1027.0 627.4h0M995.5 639.7h0M1004.6 728.8h0M990.7 720.0h0M1017.9 705.5h0M1031.1 716.9h0M969.5 641.6h0M1017.2 627.7h0M990.4 645.6h0M1040.8 693.6h0M1029.2 723.7h0M1005.9 687.4h0M999.9 620.8h0M973.1 698.6h0M978.4 721.4h0M1021.3 721.8h0M1013.2 739.2h0M1000.2 657.5h0M1028.6 731.2h0M1022.2 701.6h0M1013.4 712.6h0M1020.5 731.5h0M1033.7 716.0h0M1035.0 732.3h0M990.3 695.1h0M1046.2 718.4h0M963.7 711.4h0M967.5 641.7h0M1025.8 716.1h0M979.3 681.7h0M993.4 686.0h0M1015.5 722.0h0M1052.2 705.3h0M1020.6 716.6h0M971.3 701.4h0M998.2 699.8h0M1015.7 653.5h0M962.9 690.9h0M972.9 709.4h0M979.6 722.9h0M1054.2 694.3h0M1000.3 702.2h0M1046.4 682.3h0M996.9 703.4h0M990.6 676.0h0M985.1 634.2h0M972.2 641.7h0M1004.2 650.7h0M999.8 663.1h0M1014.3 629.3h0M1051.8 715.4h0M1047.6 698.1h0M1027.8 729.0h0M971.3 715.9h0M1008.0 700.4h0M1065.3 664.7h0M1052.0 643.3h0M1063.5 651.3h0M1040.6 635.1h0M1054.9 668.0h0M1034.5 650.1h0M1048.2 693.8h0M992.6 701.4h0M1053.2 653.1h0M1009.3 647.5h0M1021.9 696.3h0M1034.5 653.6h0M1008.1 673.4h0M998.6 629.3h0M1016.4 700.9h0M989.6 626.1h0M1054.0 710.7h0M1023.5 669.9h0M993.9 675.4h0M968.3 651.9h0M965.1 680.4h0M1007.0 647.1h0M1041.0 632.5h0M1011.5 658.7h0M1028.1 696.3h0M999.5 661.1h0M1001.4 694.7h0M1021.2 653.8h0M1003.2 658.3h0M1040.3 643.4h0M1010.0 633.1h0M1057.0 686.0h0M1005.9 692.0h0M980.9 675.3h0M978.5 686.0h0M970.3 686.5h0M971.4 642.6h0M1045.5 708.4h0M1035.2 719.0h0M1011.8 639.0h0M1048.3 675.1h0M989.9 700.5h0M1013.1 627.0h0M1013.2 667.8h0M1027.1 658.8h0M1057.0 670.6h0M1019.1 624.3h0M1033.5 732.6h0M977.9 694.4h0M992.2 633.1h0M1000.8 680.0h0M966.9 682.2h0M1010.8 737.3h0M1009.5 709.3h0M1057.9 711.3h0M968.9 714.6h0M1051.6 653.9h0M1018.5 637.2h0M1065.3 656.3h0M982.7 668.9h0M980.6 677.2h0M1057.9 708.9h0M1020.1 687.4h0M1050.9 664.1h0M978.7 647.3h0M1030.3 669.8h0M990.2 651.4h0M1012.1 631.5h0M999.0 623.0h0M1037.4 702.4h0M1041.8 652.2h0M1046.6 659.7h0M1039.5 634.8h0M1045.7 649.1h0M1020.9 725.0h0M967.1 699.6h0M1022.6 661.0h0M967.4 706.8h0M1026.3 701.6h0M1022.6 688.8h0M1059.0 684.3h0M980.3 718.6h0M1005.6 706.2h0M983.5 675.4h0M1060.1 707.3h0M981.5 636.5h0M1008.9 679.9h0M1005.0 698.6h0M1014.6 672.5h0M977.5 643.9h0M1001.9 647.4h0M1052.1 713.2h0M1052.0 660.4h0M963.7 708.2h0M1042.8 689.6h0M997.5 706.9h0M980.7 711.6h0M971.9 694.8h0M999.4 703.0h0M1053.7 640.5h0M1026.1 735.3h0M1003.1 640.7h0M1001.2 695.9h0M998.2 689.2h0M978.7 642.9h0M1034.7 723.4h0M1005.2 636.0h0M980.0 674.5h0M1052.9 718.8h0M992.1 717.5h0M1013.5 691.3h0M1028.7 683.0h0M1028.0 691.8h0M1015.3 687.3h0M993.7 711.6h0M1026.0 699.0h0M1036.0 690.0h0M1039.1 717.8h0M1032.5 655.5h0M1022.3 655.0h0M1063.9 668.4h0M1020.6 699.7h0M1022.8 631.8h0M1050.0 704.3h0M1054.9 696.5h0M1034.8 715.1h0M1041.4 698.3h0M991.9 647.9h0M1019.8 699.0h0M1037.7 699.0h0M1004.0 670.8h0M999.1 725.8h0M979.7 692.7h0M978.7 715.7h0M1018.5 735.1h0M1066.0 683.3h0M1050.1 652.8h0M982.1 681.8h0M982.8 663.0h0M1045.9 690.9h0M998.6 641.5h0M1002.0 671.0h0M993.4 724.7h0M1001.0 667.2h0M1021.0 711.6h0M1054.0 721.4h0M1044.6 679.9h0M1058.2 714.4h0M1007.6 684.2h0M1013.0 737.1h0M1022.7 737.8h0M1042.4 657.9h0M1036.7 683.0h0M992.7 640.1h0M1058.1 683.2h0M1023.4 668.5h0M1006.9 628.0h0M983.6 685.9h0M1018.5 722.5h0M980.6 637.9h0M998.4 666.5h0M1048.6 690.1h0M1002.7 693.9h0M1039.6 665.2h0M978.1 669.0h0M978.4 688.4h0M977.4 672.0h0M1032.1 639.8h0M1026.6 724.5h0M976.3 716.7h0M1032.4 682.8h0M974.7 646.2h0M1010.0 721.8h0M1032.2 703.9h0M967.5 711.9h0M1059.7 655.3h0M1031.4 642.5h0M979.5 721.2h0M1004.1 665.8h0M987.3 649.9h0M1047.0 665.0h0M1047.8 705.8h0M1025.8 675.2h0M958.2 695.1h0M1025.9 709.0h0M983.1 716.1h0M1024.3 706.5h0M1021.8 682.6h0M1004.4 628.0h0M1059.5 646.6h0M999.6 704.5h0M1047.1 651.5h0M960.9 703.9h0M1036.7 636.7h0M1045.3 662.4h0M957.7 696.7h0M1004.3 637.1h0M1019.1 629.7h0M1003.1 692.7h0M977.1 705.1h0M1002.0 703.5h0M1009.1 675.3h0M987.2 715.9h0M1055.7 699.5h0M1022.9 694.8h0M1031.9 723.2h0M1039.3 691.4h0M971.2 698.0h0M1060.3 651.4h0M1027.8 673.5h0M1004.3 666.8h0M985.7 684.5h0M1041.1 665.2h0M1038.4 666.6h0M1042.7 726.4h0M1006.8 668.8h0M1037.4 665.2h0M998.4 623.9h0M1014.1 635.4h0M1042.6 633.3h0M988.2 642.8h0M986.2 715.3h0M995.8 687.4h0M1023.9 715.1h0M1055.5 700.5h0M1038.9 706.1h0M967.9 659.3h0M1042.1 688.0h0M1000.9 711.4h0M1033.3 708.1h0M1005.9 720.4h0M1013.7 632.7h0M1000.8 730.8h0M1039.7 653.8h0M995.0 658.0h0M1000.1 718.7h0M1048.6 714.6h0M988.1 681.2h0M1028.5 637.2h0M1038.9 688.3h0M1051.3 642.5h0M1024.5 661.9h0M978.5 672.5h0M918.0 738.9h0M959.6 680.1h0M914.5 710.2h0M921.2 729.3h0M919.3 731.2h0M956.3 668.7h0M913.9 707.3h0M944.6 681.6h0M953.8 684.2h0M925.7 729.0h0M952.3 676.8h0M934.0 723.0h0M935.1 696.0h0M948.3 689.1h0M932.0 701.1h0M934.2 711.6h0M957.9 688.8h0M930.9 716.6h0M941.0 717.6h0M948.2 654.6h0M947.9 672.4h0M930.3 731.6h0M915.7 761.4h0M917.6 721.8h0M921.2 735.1h0M921.4 725.4h0M941.0 723.5h0M939.3 700.2h0M916.7 734.0h0M920.1 707.4h0M953.5 692.1h0M911.6 719.6h0M907.5 716.6h0M929.0 719.2h0M926.8 751.6h0M931.0 746.3h0M926.3 710.2h0M900.4 706.5h0M903.3 702.5h0M902.5 718.0h0M918.6 744.6h0M926.9 716.0h0M927.4 709.1h0M955.8 672.5h0M945.2 721.6h0M945.3 685.9h0M929.3 728.1h0M948.5 727.7h0M952.7 675.1h0M939.1 697.5h0M935.9 736.1h0M914.4 752.1h0M924.2 748.2h0M929.2 704.1h0M950.0 671.7h0M949.6 704.8h0M953.6 672.4h0M939.4 718.3h0M957.0 686.2h0M940.5 713.0h0M956.6 649.8h0M919.7 736.5h0M954.0 680.8h0M948.1 693.5h0M944.0 670.5h0M918.3 724.5h0M925.9 744.3h0M917.9 715.5h0M930.9 698.4h0M917.3 704.2h0M929.9 702.4h0M911.3 714.4h0M932.5 713.9h0M909.5 738.8h0M929.8 711.7h0M914.2 757.4h0M913.0 704.8h0M914.3 720.3h0M926.9 734.6h0M942.3 726.6h0M937.6 723.0h0M948.2 673.8h0M938.0 720.6h0M935.3 720.0h0M946.5 673.9h0M935.3 682.0h0M907.5 714.0h0M915.5 753.5h0M942.5 728.2h0M953.2 664.3h0M945.8 701.9h0M951.0 682.3h0M958.7 660.5h0M938.4 693.8h0M909.4 706.4h0M925.6 704.1h0M951.1 664.1h0M918.5 733.3h0M932.5 737.2h0M931.1 703.4h0M916.3 714.8h0M927.6 720.5h0M905.8 709.3h0M906.1 721.5h0M944.0 706.3h0M955.9 678.4h0M922.8 741.4h0M940.0 733.5h0M923.7 726.5h0M939.0 726.6h0M924.6 701.2h0M917.2 756.8h0M920.3 741.5h0M958.6 652.4h0M937.7 686.9h0M922.8 713.2h0M929.2 722.6h0M931.6 710.9h0M906.2 715.0h0M929.8 715.1h0M901.3 701.3h0M931.7 730.8h0M937.8 716.3h0M911.7 717.2h0M949.2 707.5h0M941.8 702.7h0M958.8 656.0h0M950.9 713.8h0M937.0 714.3h0M916.8 736.8h0M950.6 652.2h0M925.8 736.0h0M942.1 715.1h0M936.9 710.2h0M951.8 679.2h0M930.9 744.5h0M929.5 641.1h0M929.0 671.7h0M909.7 689.8h0M959.6 631.8h0M1046.2 740.0h0M1048.0 739.1h0M967.5 783.7h0M974.5 783.7h0M948.2 785.5h0M939.5 782.9h0M395.6 823.7h0M393.2 806.6h0M353.8 831.6h0M294.0 819.2h0M334.0 762.8h0M385.9 825.0h0M331.8 782.5h0M388.4 766.8h0M363.6 827.8h0M365.9 804.1h0M344.4 789.2h0M386.6 734.2h0M299.2 823.2h0M375.9 802.3h0M380.9 738.3h0M330.3 843.3h0M306.7 840.8h0M319.5 770.6h0M340.4 837.3h0M323.8 822.9h0M310.6 848.9h0M405.8 822.4h0M375.0 764.2h0M341.3 729.7h0M353.2 845.3h0M335.4 841.1h0M295.7 818.8h0M325.3 778.9h0M338.9 777.6h0M299.7 833.8h0M343.4 787.4h0M343.6 815.3h0M320.0 769.7h0M380.9 733.2h0M385.1 752.2h0M326.5 785.6h0M359.9 743.7h0M356.1 794.1h0M365.3 772.8h0M358.2 788.8h0M369.9 827.5h0M375.3 778.8h0M325.4 771.9h0M321.4 763.2h0M398.6 801.9h0M360.2 799.9h0M315.0 826.1h0M370.8 779.8h0M303.1 832.3h0M340.7 794.5h0M361.9 728.5h0M316.2 834.6h0M317.4 792.1h0M371.8 775.2h0M320.4 851.6h0M336.1 774.1h0M330.1 850.1h0M343.6 814.0h0M319.6 837.5h0M358.5 737.4h0M373.8 811.7h0M349.4 763.0h0M332.6 818.5h0M362.3 795.2h0M355.9 780.4h0M318.4 829.0h0M335.9 845.8h0M389.5 828.5h0M336.2 804.1h0M383.7 762.0h0M393.7 809.1h0M393.6 780.5h0M309.1 846.8h0M339.0 789.2h0M371.1 756.5h0M337.0 733.0h0M352.5 773.5h0M390.1 809.7h0M394.8 810.5h0M370.6 807.8h0M316.7 790.5h0M328.8 797.2h0M363.4 759.6h0M351.5 809.6h0M344.4 848.4h0M379.6 830.7h0M342.3 725.2h0M382.6 814.3h0M353.4 822.6h0M310.7 835.7h0M337.6 794.8h0M320.0 816.9h0M336.6 783.1h0M301.3 853.2h0M364.9 732.6h0M341.7 807.0h0M340.7 811.0h0M360.7 770.7h0M402.1 801.0h0M367.3 834.3h0M398.5 777.7h0M334.4 814.9h0M351.0 839.2h0M327.5 760.2h0M387.1 811.2h0M337.5 770.0h0M314.2 770.4h0M371.6 797.3h0M335.3 811.1h0M365.2 787.2h0M408.7 810.0h0M310.3 822.7h0M355.7 738.4h0M315.9 816.9h0M352.6 740.4h0M315.9 839.8h0M383.8 777.3h0M405.1 805.4h0M316.7 844.5h0M334.7 746.7h0M298.0 834.4h0M326.1 783.8h0M341.9 845.5h0M382.7 728.4h0M301.6 805.0h0M350.7 836.1h0M334.3 800.0h0M328.4 850.1h0M358.4 827.5h0M368.5 740.5h0M330.8 782.6h0M352.6 762.6h0M337.8 799.9h0M321.5 753.5h0M309.2 828.9h0M358.4 834.7h0M397.3 790.8h0M351.6 758.2h0M331.2 799.7h0M299.5 811.5h0M367.8 799.3h0M390.9 812.1h0M379.7 808.7h0M322.5 789.3h0M380.8 746.7h0M373.4 759.0h0M316.2 787.3h0M330.1 787.0h0M327.2 818.7h0M347.4 779.1h0M347.2 799.9h0M335.0 784.7h0M397.2 782.5h0M332.0 726.0h0M364.8 783.3h0M339.2 742.8h0M332.0 790.8h0M396.1 826.5h0M316.7 797.8h0M343.3 840.5h0M320.9 855.9h0M305.0 831.9h0M359.4 810.7h0M326.3 726.7h0M302.6 837.8h0M332.9 724.0h0M396.7 798.9h0M303.8 825.4h0M354.2 836.4h0M373.6 757.3h0M382.6 742.2h0M339.7 748.8h0M332.2 848.6h0M327.3 833.8h0M367.2 755.3h0M352.3 745.6h0M290.9 819.0h0M366.4 747.5h0M351.6 741.1h0M340.3 850.3h0M343.3 831.2h0M367.8 793.8h0M342.8 748.7h0M409.5 810.5h0M326.3 837.3h0M330.6 855.2h0M342.2 742.8h0M324.3 857.4h0M342.0 838.4h0M294.6 842.9h0M306.1 846.6h0M374.1 782.9h0M373.1 792.1h0M364.1 788.5h0M334.7 734.5h0M323.2 782.5h0M372.5 747.4h0M400.0 781.0h0M295.9 821.5h0M348.3 728.0h0M375.4 762.6h0M314.3 859.2h0M300.4 832.8h0M310.1 847.7h0M377.8 808.8h0M328.6 812.8h0M346.9 766.1h0M329.9 745.4h0M363.0 822.7h0M321.8 740.0h0M319.5 820.9h0M374.2 792.3h0M340.8 801.0h0M332.0 727.3h0M316.0 780.7h0M339.0 732.3h0M324.8 829.5h0M332.2 850.2h0M393.0 774.2h0M321.1 816.8h0M326.9 770.4h0M398.1 798.4h0M344.8 807.7h0M345.8 829.3h0M324.1 772.0h0M324.9 861.3h0M322.8 841.8h0M337.0 735.1h0M315.4 803.3h0M351.8 823.0h0M329.9 844.3h0M374.6 746.4h0M347.2 792.3h0M389.9 777.5h0M334.7 742.6h0M332.2 794.7h0M347.1 721.0h0M359.7 782.1h0M375.8 797.8h0M316.6 820.2h0M353.8 826.7h0M359.0 825.9h0M358.3 824.5h0M321.7 766.6h0M381.3 784.3h0M328.7 780.6h0M336.5 736.2h0M386.6 751.5h0M379.7 750.5h0M391.2 783.0h0M334.2 826.4h0M332.8 749.4h0M327.0 812.3h0M340.8 830.0h0M331.2 735.7h0M381.4 773.3h0M312.4 820.0h0M354.9 746.5h0M347.2 748.8h0M349.2 840.4h0M341.3 783.7h0M393.5 828.4h0M410.6 811.5h0M374.7 741.9h0M305.5 835.5h0M335.7 745.2h0M375.2 729.0h0M322.8 821.8h0M344.8 782.5h0M352.1 722.2h0M357.6 790.1h0M329.5 787.6h0M371.9 781.6h0M392.7 781.6h0M331.9 733.0h0M364.4 741.8h0M325.6 750.7h0M346.2 777.5h0M357.8 765.1h0M343.1 732.5h0M349.5 822.1h0M319.2 842.3h0M365.1 779.5h0M377.0 809.6h0M308.8 812.1h0M350.2 801.0h0M394.9 776.9h0M343.5 828.9h0M345.1 812.7h0M330.9 759.6h0M356.2 759.9h0M399.6 799.9h0M374.1 723.1h0M361.0 822.3h0M346.0 733.0h0M315.0 840.0h0M358.3 729.9h0M371.5 770.3h0M363.1 755.5h0M332.1 796.5h0M353.5 818.7h0M385.5 729.8h0M351.7 800.1h0M350.7 803.7h0M351.6 742.0h0M333.7 842.2h0M353.4 805.6h0M348.8 772.2h0M353.5 838.4h0M326.3 768.0h0M386.3 763.6h0M330.1 852.8h0M369.1 825.6h0M323.8 846.8h0M390.1 773.7h0M307.8 799.7h0M290.1 825.3h0M346.4 761.6h0M357.6 842.1h0M348.1 838.0h0M381.7 817.1h0M362.6 837.5h0M324.7 749.4h0M328.5 754.7h0M354.1 748.3h0M350.5 817.0h0M365.0 756.5h0M380.0 785.3h0M337.0 821.5h0M305.2 812.7h0M311.3 795.6h0M339.9 803.1h0M360.8 720.1h0M368.9 790.5h0M320.3 850.8h0M314.7 801.4h0M334.1 732.9h0M335.0 851.2h0M333.9 736.8h0M389.8 767.4h0M353.7 810.7h0M372.3 751.2h0M390.7 806.5h0M375.4 746.1h0M362.0 839.8h0M334.6 830.3h0M378.5 771.0h0M376.8 741.8h0M328.0 853.6h0M353.2 757.7h0M325.0 850.9h0M338.9 804.2h0M349.2 820.9h0M316.6 837.9h0M302.6 820.9h0M330.8 829.1h0M366.3 772.6h0M362.0 745.6h0M402.5 815.5h0M320.4 771.5h0M338.5 724.3h0M348.9 775.6h0M344.7 804.4h0M345.6 811.5h0M355.4 777.5h0M320.0 777.1h0M351.8 796.0h0M323.6 817.1h0M374.9 818.4h0M315.1 830.3h0M349.1 728.4h0M331.5 856.9h0M330.0 847.5h0M305.0 850.7h0M323.1 848.4h0M383.2 746.4h0M347.3 787.0h0M398.4 823.3h0M383.3 764.8h0M406.3 816.7h0M387.7 751.1h0M324.0 813.0h0M316.5 854.3h0M305.6 841.9h0M309.0 791.3h0M383.4 829.5h0M352.4 746.4h0M360.3 806.9h0M379.9 807.7h0M344.9 738.6h0M361.9 829.5h0M345.7 788.9h0M376.1 829.3h0M388.0 807.9h0M370.7 798.6h0M393.3 792.1h0M335.2 728.6h0M295.5 824.2h0M376.5 806.0h0M353.8 764.8h0M336.4 727.9h0M379.1 819.7h0M367.6 727.7h0M352.6 824.4h0M317.2 850.2h0M380.4 820.6h0M323.0 757.7h0M306.9 855.3h0M383.5 775.1h0M315.9 783.5h0M328.4 760.5h0M338.8 788.2h0M362.2 826.9h0M333.1 751.7h0M353.3 732.3h0M337.2 776.3h0M385.7 785.5h0M377.2 814.9h0M354.9 832.9h0M367.1 823.8h0M334.7 790.4h0M357.5 835.4h0M322.5 830.0h0M381.6 805.5h0M315.9 804.9h0M323.1 818.4h0M327.1 838.7h0M375.2 755.8h0M343.5 823.4h0M348.6 716.0h0M396.6 809.3h0M322.9 754.6h0M375.0 784.2h0M293.1 839.3h0M302.0 825.9h0M358.6 807.4h0M393.4 830.8h0M342.6 724.3h0M329.9 774.5h0M389.0 784.1h0M322.7 777.9h0M350.9 834.5h0M383.4 824.3h0M384.2 744.7h0M339.6 784.4h0M353.4 742.0h0M337.3 797.0h0M386.2 831.4h0M335.3 738.5h0M358.3 718.8h0M333.7 774.8h0M312.1 803.7h0M315.3 788.3h0M301.7 828.0h0M321.1 799.6h0M364.4 821.1h0M316.4 757.4h0M315.2 827.6h0M343.8 750.2h0M335.1 847.4h0M376.9 783.2h0M353.7 840.7h0M318.2 825.4h0M315.7 819.3h0M358.7 782.9h0M348.1 749.9h0M352.7 837.3h0M340.0 809.9h0M357.3 770.3h0M314.7 837.0h0M311.2 784.0h0M337.5 744.5h0M358.1 733.1h0M323.0 824.5h0M325.7 795.5h0M318.2 800.7h0M313.1 795.1h0M341.0 780.7h0M312.6 813.3h0M382.7 780.3h0M359.4 753.7h0M383.2 785.5h0M369.5 795.7h0M409.2 818.2h0M385.3 777.6h0M303.9 810.8h0M337.4 826.2h0M308.6 852.2h0M303.4 815.2h0M317.4 784.7h0M305.4 814.7h0M344.7 737.9h0M380.9 728.6h0M311.9 782.3h0M387.0 755.9h0M331.9 839.8h0M342.0 808.2h0M336.2 759.7h0M387.4 795.1h0M375.6 757.3h0M323.7 797.9h0M350.6 731.9h0M345.3 746.4h0M317.4 852.2h0M315.5 802.1h0M316.5 771.3h0M380.9 827.9h0M388.7 828.1h0M352.0 737.5h0M365.4 751.6h0M367.2 783.5h0M373.5 801.2h0M358.4 775.3h0M334.0 784.4h0M383.1 800.8h0M316.9 836.6h0M398.9 782.6h0M384.0 814.0h0M366.1 771.4h0M383.9 742.4h0M370.6 761.3h0M379.2 791.8h0M337.2 839.8h0M362.9 831.4h0M359.2 784.5h0M396.7 775.2h0M304.3 803.1h0M368.5 801.3h0M379.8 801.1h0M366.0 743.3h0M311.5 836.4h0M307.6 836.5h0M314.6 795.5h0M362.9 801.3h0M376.3 826.3h0M326.6 834.8h0M371.0 781.9h0M357.9 823.7h0M387.8 761.7h0M340.2 740.1h0M328.7 803.3h0M386.3 790.5h0M321.9 752.5h0M367.7 787.6h0M331.3 779.0h0M346.5 775.8h0M397.6 794.2h0M358.4 728.1h0M377.9 735.2h0M333.8 728.6h0M378.1 733.7h0M318.7 786.1h0M352.9 758.7h0M364.6 722.0h0M367.4 752.1h0M344.1 714.9h0M365.1 743.6h0M383.7 783.9h0M399.6 808.0h0M347.8 803.2h0M324.9 747.4h0M374.4 765.6h0M339.7 840.1h0M375.3 797.1h0M314.1 781.8h0M310.2 841.5h0M392.5 765.0h0M397.8 782.0h0M389.6 769.3h0M355.9 781.9h0M401.4 824.5h0M374.0 781.1h0M384.5 813.2h0M387.6 825.2h0M334.4 838.6h0M354.7 824.8h0M355.9 725.7h0M352.3 780.0h0M381.2 813.9h0M337.9 804.6h0M341.4 789.6h0M365.0 817.0h0M384.2 729.1h0M290.8 833.1h0M322.5 805.1h0M370.0 734.3h0M325.4 734.3h0M322.4 743.0h0M378.4 813.4h0M346.2 787.3h0M302.4 803.7h0M391.2 782.1h0M380.2 816.5h0M320.0 799.0h0M367.2 836.2h0M358.9 799.3h0M310.1 805.6h0M356.1 768.4h0M337.2 726.8h0M351.8 773.8h0M375.1 813.5h0M403.3 801.5h0M323.9 788.3h0M397.5 823.0h0M341.9 761.1h0M401.2 804.6h0M374.2 830.2h0M299.5 838.8h0M331.5 804.5h0M298.7 836.7h0M378.1 747.4h0M322.8 764.2h0M353.0 768.5h0M364.5 804.5h0M351.3 790.8h0M340.2 800.3h0M291.4 828.6h0M343.2 754.4h0M363.9 749.9h0M341.8 829.2h0M381.2 798.7h0M336.5 806.7h0M399.8 813.2h0M326.6 744.3h0M330.7 841.4h0M328.0 782.8h0M310.6 787.5h0M318.4 845.7h0M336.7 827.9h0M330.3 854.2h0M323.8 842.4h0M377.5 746.7h0M381.0 817.9h0M354.7 755.3h0M359.5 833.0h0M300.1 842.3h0M313.3 799.3h0M319.7 814.0h0M338.9 829.3h0M330.6 749.2h0M309.0 782.8h0M379.5 790.1h0M314.8 794.1h0M342.1 810.3h0M295.0 815.0h0M353.1 788.3h0M319.8 811.2h0M290.3 825.8h0M310.8 854.5h0M367.4 811.3h0M301.3 828.0h0M388.2 817.3h0M305.9 814.1h0M319.4 801.4h0M359.4 768.9h0M364.6 836.2h0M322.8 824.7h0M319.9 857.4h0M359.6 759.6h0M354.4 831.9h0M326.2 838.6h0M324.9 808.5h0M352.5 794.6h0M337.7 722.7h0M336.1 854.0h0M340.1 722.9h0M332.4 755.6h0M349.2 776.7h0M347.0 735.5h0M373.1 832.6h0M350.0 812.0h0M367.8 834.2h0M336.8 775.8h0M357.7 833.7h0M353.6 768.1h0M321.9 762.0h0M389.1 822.1h0M375.6 832.6h0M366.7 785.0h0M360.1 758.2h0M340.0 800.3h0M347.3 837.2h0M381.3 816.3h0M301.5 833.7h0M344.1 732.9h0M321.1 777.7h0M358.8 790.2h0M320.7 838.8h0M354.0 789.1h0M323.1 828.4h0M344.7 810.1h0M336.9 744.5h0M312.0 781.6h0M300.7 816.1h0M359.7 836.9h0M328.7 787.7h0M349.1 846.8h0M318.5 816.0h0M350.3 782.1h0M302.4 826.9h0M354.2 756.0h0M323.9 746.9h0M338.7 823.9h0M309.1 821.1h0M350.3 748.4h0M345.9 835.3h0M384.6 829.3h0M372.6 779.7h0M341.1 773.6h0M372.7 817.8h0M377.4 777.0h0M313.5 778.7h0M360.3 836.1h0M359.6 791.9h0M315.7 759.7h0M328.8 767.5h0M343.9 756.9h0M309.8 844.4h0M314.6 817.7h0M320.9 835.3h0M346.9 730.9h0M389.3 820.8h0M365.7 794.1h0M340.3 783.0h0M369.2 806.8h0M360.4 800.0h0M305.8 843.2h0M322.0 751.8h0M370.4 778.1h0M354.1 792.6h0M345.4 806.6h0M335.4 759.2h0M360.3 745.7h0M366.3 837.9h0M380.6 805.8h0M355.0 832.9h0M349.1 790.3h0M329.0 750.5h0M346.0 761.6h0M369.0 764.8h0M345.6 801.9h0M294.1 822.3h0M350.4 788.0h0M347.0 792.2h0M346.4 816.3h0M317.0 804.6h0M347.5 767.0h0M374.9 826.2h0M343.6 850.9h0M334.7 805.4h0M332.6 837.8h0M364.5 757.0h0M337.3 778.4h0M353.8 787.2h0M347.7 777.6h0M395.2 821.5h0M333.0 814.6h0M330.9 755.4h0M294.4 835.5h0M364.3 776.8h0M322.8 826.3h0M298.4 832.4h0M332.4 768.6h0M301.6 854.3h0M365.8 763.2h0M302.1 841.8h0M324.8 806.1h0M348.7 797.2h0M310.3 840.9h0M326.0 811.5h0M355.4 834.2h0M352.5 800.4h0M340.3 827.4h0M311.5 843.8h0M351.1 748.8h0M359.4 827.9h0M373.4 798.2h0M305.1 813.9h0M338.3 819.5h0M324.6 784.3h0M326.1 849.0h0M363.6 800.9h0M347.2 790.4h0M352.4 787.0h0M308.7 813.5h0M346.9 827.0h0M312.4 815.8h0M382.4 800.2h0M307.2 835.7h0M304.3 840.9h0M378.4 815.9h0M307.1 825.1h0M336.0 795.1h0M328.8 821.7h0M317.5 837.9h0M357.5 736.4h0M341.6 837.1h0M331.3 785.3h0M320.0 772.2h0M321.4 798.6h0M308.9 845.2h0M341.5 807.1h0M351.5 766.5h0M324.9 819.0h0M398.0 816.1h0M348.4 781.7h0M346.6 829.2h0M326.4 851.3h0M372.7 778.3h0M349.8 754.3h0M314.4 854.4h0M324.0 820.2h0M304.7 819.9h0M321.6 769.8h0M317.4 824.3h0M304.8 849.3h0M370.2 795.2h0M359.6 793.0h0M323.4 772.8h0M351.6 768.3h0M360.6 789.1h0M342.5 730.9h0M317.6 826.5h0M348.5 742.6h0M336.2 757.2h0M336.8 767.1h0M294.1 814.3h0M338.4 747.4h0M342.3 734.5h0M351.4 744.7h0M323.6 775.5h0M351.7 821.6h0M295.9 810.8h0M308.3 809.3h0M330.6 741.9h0M391.5 817.9h0M342.2 789.1h0M348.7 761.0h0M330.3 786.5h0M318.6 771.3h0M318.7 798.3h0M382.5 803.2h0M351.2 737.0h0M293.8 817.8h0M308.6 842.5h0M368.2 833.4h0M381.2 795.3h0M310.0 799.5h0M391.1 808.0h0M342.2 720.4h0M341.4 729.4h0M343.7 752.2h0M376.8 828.8h0M336.1 733.4h0M350.5 747.4h0M316.3 761.0h0M324.4 843.4h0M296.0 819.5h0M344.6 806.3h0M359.4 778.6h0M307.6 795.3h0M340.9 785.5h0M340.4 797.3h0M371.6 768.1h0M331.1 814.5h0M308.3 847.0h0M341.4 757.0h0M394.6 810.5h0M316.2 804.9h0M336.5 727.3h0M355.3 777.1h0M351.7 802.5h0M339.3 826.3h0M392.5 831.2h0M319.2 760.5h0M402.4 820.3h0M300.0 832.1h0M365.6 817.8h0M342.1 840.0h0M332.1 796.2h0M311.7 835.9h0M391.0 830.6h0M317.4 815.3h0M339.4 794.8h0M351.3 728.2h0M339.5 776.6h0M299.3 808.1h0M349.6 808.4h0M300.7 837.6h0M325.2 830.3h0M371.6 787.4h0M357.0 760.0h0M376.8 807.2h0M359.2 838.6h0M345.3 730.6h0M316.6 758.2h0M332.8 722.3h0M383.2 785.4h0M333.3 833.1h0M357.2 728.9h0M363.5 820.3h0M357.9 731.8h0M351.7 773.5h0M349.0 778.2h0M358.4 831.5h0M314.3 848.2h0M348.1 740.8h0M341.4 797.1h0M308.0 818.5h0M321.5 790.6h0M316.6 799.6h0M356.0 759.2h0M371.0 814.3h0M306.3 835.7h0M367.7 761.2h0M363.4 764.9h0M327.8 833.6h0M328.1 846.8h0M377.7 812.7h0M365.4 782.8h0M318.6 819.0h0M352.1 838.2h0M336.8 772.3h0M294.3 818.5h0M348.0 804.5h0M294.6 836.7h0M323.4 831.2h0M313.5 831.0h0M333.0 825.2h0M316.6 837.4h0M361.3 782.3h0M297.6 834.3h0M321.8 832.1h0M329.8 846.1h0M334.1 851.0h0M382.2 824.4h0M389.9 797.6h0M311.9 792.1h0M379.7 780.7h0M309.6 857.3h0M327.7 778.6h0M303.4 849.9h0M366.7 821.1h0M378.0 796.4h0M341.5 739.6h0M320.5 800.2h0M363.3 797.4h0M370.6 811.1h0M394.2 826.3h0M338.2 743.5h0M311.6 825.5h0M369.5 772.3h0M349.4 747.4h0M351.3 825.5h0M375.5 813.7h0M305.1 802.3h0M327.3 740.5h0M318.6 815.1h0M329.2 830.8h0M341.6 780.5h0M371.8 793.5h0M346.3 836.6h0M323.5 845.3h0M337.8 790.0h0M388.2 805.1h0M341.5 841.9h0M353.5 815.0h0M378.4 791.6h0M321.8 771.5h0M330.2 746.5h0M327.4 818.4h0M400.4 817.5h0M313.1 770.6h0M316.6 772.2h0M381.0 821.1h0M342.0 804.0h0M350.2 846.9h0M384.3 793.7h0M322.3 739.1h0M354.6 809.2h0M315.7 842.6h0M319.5 780.8h0M342.9 837.9h0M338.4 768.0h0M372.2 790.5h0M369.9 761.4h0M368.9 815.9h0M316.7 855.2h0M341.7 831.0h0M335.5 732.2h0M392.4 823.8h0M320.3 764.1h0M373.6 791.3h0M350.3 796.0h0M349.4 842.1h0M334.9 776.8h0M366.7 766.9h0M384.0 799.0h0M352.0 719.7h0M388.7 811.9h0M310.3 821.2h0M348.1 719.5h0M364.5 764.1h0M337.7 751.3h0M344.6 717.0h0M350.3 727.9h0M359.7 812.7h0M341.9 822.4h0M382.0 789.2h0M335.5 797.5h0M372.8 774.0h0M321.8 844.8h0M328.9 765.5h0M342.7 777.9h0M370.7 813.2h0M337.4 721.0h0M386.1 810.3h0M371.4 841.9h0M332.0 859.9h0M409.6 847.3h0M376.6 846.9h0M370.9 857.5h0M372.0 839.3h0M407.9 858.9h0M365.9 844.9h0M364.9 859.5h0M418.3 828.0h0M397.7 832.4h0M380.3 852.6h0M418.9 832.8h0M353.8 850.6h0M371.6 844.4h0M405.4 842.7h0M423.1 829.8h0M366.5 839.3h0M358.6 844.5h0M397.5 855.1h0M421.1 828.6h0M396.8 844.8h0M402.7 854.3h0M414.7 829.3h0M359.0 853.5h0M385.5 836.6h0M385.5 847.1h0M396.9 831.3h0M401.9 859.5h0M415.0 824.7h0M390.7 856.5h0M394.8 843.3h0M384.4 840.0h0M372.2 843.1h0M372.1 858.2h0M412.6 827.7h0M396.2 838.3h0M408.4 827.9h0M391.8 857.0h0M370.2 840.5h0M335.6 857.5h0M341.3 857.7h0M394.5 835.8h0M398.8 853.8h0M399.2 833.5h0M417.8 830.6h0M384.0 837.7h0M408.4 836.9h0M419.0 822.6h0M401.6 858.3h0M404.3 828.9h0M362.2 848.4h0M332.8 861.4h0M365.0 852.8h0M360.2 840.9h0M351.5 848.9h0M385.0 853.2h0M407.3 848.1h0M385.8 834.9h0M405.6 853.6h0M352.6 845.8h0M368.2 848.1h0M354.4 856.1h0M334.2 862.2h0M397.6 850.2h0M393.7 855.9h0M424.5 828.4h0M341.0 853.7h0M405.0 856.8h0M361.1 857.2h0M409.4 826.9h0M444.6 864.5h0M470.7 864.6h0M493.1 867.3h0M418.0 819.4h0M416.8 828.1h0M465.5 845.5h0M499.4 879.3h0M408.8 828.7h0M447.2 836.2h0M443.3 857.0h0M443.8 862.0h0M443.8 845.8h0M428.7 832.6h0M490.8 880.4h0M455.4 860.6h0M437.7 841.6h0M430.9 830.9h0M440.3 859.8h0M460.8 844.4h0M463.4 850.2h0M415.6 834.8h0M455.1 841.0h0M436.3 865.3h0M414.9 829.0h0M474.1 862.4h0M491.9 872.8h0M468.5 869.5h0M430.0 825.4h0M457.8 846.1h0M432.9 832.8h0M415.8 833.2h0M512.2 878.4h0M456.7 859.9h0M449.6 837.6h0M456.2 863.0h0M437.2 838.7h0M433.1 827.9h0M429.8 837.3h0M489.9 872.9h0M441.4 867.2h0M468.8 845.6h0M458.5 844.4h0M423.5 825.5h0M426.5 840.8h0M460.1 854.1h0M492.4 876.4h0M479.1 861.2h0M432.4 837.5h0M439.3 862.1h0M438.1 830.7h0M414.2 831.9h0M432.6 844.2h0M486.6 871.4h0M464.5 847.3h0M435.0 867.6h0M483.9 869.5h0M417.6 817.6h0M493.3 879.0h0M496.1 877.6h0M461.5 847.3h0M503.9 876.8h0M497.7 874.3h0M437.9 834.5h0M514.4 877.6h0M446.4 845.9h0M442.6 836.0h0M503.2 881.5h0M418.0 825.7h0M448.1 853.5h0M421.2 826.4h0M504.0 869.2h0M443.2 848.3h0M447.6 841.2h0M445.3 846.6h0M474.2 865.1h0M462.4 842.3h0M438.3 832.1h0M440.6 858.8h0M435.8 835.6h0M446.8 842.1h0M440.5 850.8h0M415.4 832.2h0M457.4 852.9h0M472.0 866.0h0M472.9 868.5h0M410.8 818.3h0M466.5 861.3h0M442.8 845.8h0M407.7 825.8h0M472.9 864.7h0M437.5 864.8h0M471.0 849.4h0M441.6 860.4h0M445.6 855.0h0M442.0 832.5h0M496.1 880.9h0M416.2 830.2h0M413.8 824.0h0M437.7 839.6h0M496.8 869.2h0M419.4 822.5h0M436.4 862.5h0M414.9 819.7h0M475.2 861.9h0M440.8 857.3h0M420.1 835.2h0M494.3 866.7h0M417.2 829.9h0M438.8 864.4h0M475.8 871.8h0M444.2 854.9h0M491.3 882.0h0M465.7 857.8h0M505.2 881.1h0M443.8 866.2h0M469.8 859.0h0M446.0 838.0h0M487.4 875.4h0M438.4 848.1h0M454.9 839.3h0M428.9 826.2h0M436.1 868.1h0M479.4 865.6h0M448.9 852.2h0M493.6 873.4h0M427.0 832.4h0M464.8 851.1h0M439.7 863.2h0M446.3 860.5h0M433.3 829.1h0M480.3 864.2h0M490.3 869.5h0M506.1 870.2h0M470.0 861.8h0M491.5 869.1h0M414.0 815.8h0M423.0 835.1h0M455.3 850.5h0M455.7 845.9h0M442.6 834.3h0M486.6 868.4h0M482.7 871.9h0M440.8 835.2h0M470.1 867.0h0M450.1 842.3h0M410.1 829.2h0M436.3 847.3h0M481.2 871.1h0M482.7 868.2h0M440.6 836.6h0M424.4 827.6h0M439.0 866.7h0M452.6 863.1h0M499.9 878.0h0M410.8 819.7h0M489.2 875.1h0M492.6 872.9h0M512.3 879.4h0M494.8 880.4h0M503.7 878.6h0M485.2 865.6h0M500.1 880.6h0M510.1 877.2h0M497.1 874.5h0M501.9 868.2h0M506.5 881.3h0M509.5 874.8h0M507.1 876.7h0M488.2 872.3h0M489.5 867.4h0M506.1 874.1h0M508.8 873.3h0M494.4 868.9h0M503.7 881.8h0M488.6 870.6h0M497.0 872.1h0M500.4 869.4h0M491.2 872.8h0M506.6 879.5h0M490.3 874.3h0M510.6 873.3h0M484.1 870.2h0M499.8 877.3h0M488.7 876.3h0M509.1 880.1h0M462.5 857.7h0M448.7 859.1h0M459.3 859.9h0M453.5 846.7h0M454.9 848.7h0M456.1 860.5h0M457.6 849.9h0M451.8 856.4h0M448.5 843.4h0M460.7 855.4h0M449.6 847.0h0M449.9 849.9h0M464.1 843.5h0M457.3 852.7h0M468.7 851.4h0M464.0 851.4h0M460.0 851.6h0M445.5 850.8h0M448.0 851.6h0M448.7 849.5h0M460.5 858.6h0M468.1 845.2h0M453.7 848.4h0M367.5 864.2h0M392.5 871.9h0M383.1 859.4h0M402.9 860.4h0M395.6 861.5h0M419.6 851.0h0M421.7 856.2h0M425.8 860.4h0M422.7 864.6h0M431.0 860.4h0M496.2 907.7h0M508.1 909.4h0M387.9 760.3h0M395.8 803.0h0M397.4 796.7h0M404.8 779.3h0M401.7 778.9h0M405.5 803.4h0M403.0 807.2h0M394.4 800.4h0M400.3 797.9h0M397.2 792.6h0M408.4 806.7h0M387.2 784.3h0M393.2 770.3h0M402.5 809.3h0M386.4 781.3h0M401.0 785.6h0M394.0 787.5h0M395.6 772.0h0M390.4 759.2h0M402.1 803.6h0M389.9 764.2h0M392.0 786.0h0M647.2 683.8h0M644.7 694.4h0M607.6 665.3h0M619.2 673.2h0M603.4 685.0h0M642.6 661.7h0M674.2 708.6h0M606.6 645.5h0M632.1 695.5h0M634.2 672.7h0M644.1 676.1h0M677.0 720.5h0M645.0 691.7h0M610.3 661.0h0M627.6 688.4h0M598.2 683.3h0M626.5 676.8h0M635.0 698.3h0M622.7 685.0h0M657.9 694.2h0M609.5 678.0h0M610.7 698.2h0M601.2 687.4h0M638.2 706.2h0M642.2 668.0h0M653.3 697.7h0M600.4 677.2h0M604.5 660.2h0M648.1 706.1h0M620.5 696.4h0M636.8 684.9h0M663.6 691.2h0M604.0 658.9h0M604.8 697.7h0M601.7 655.2h0M607.4 656.8h0M599.5 664.2h0M614.8 680.3h0M599.5 669.7h0M673.7 722.7h0M622.4 675.7h0M668.7 698.8h0M643.6 701.3h0M611.6 681.9h0M599.7 679.2h0M609.3 680.8h0M623.2 703.1h0M603.2 662.5h0M607.9 686.5h0M625.7 655.4h0M596.2 684.1h0M611.5 697.1h0M600.0 659.5h0M616.9 665.8h0M652.1 698.7h0M645.8 686.0h0M676.3 717.1h0M625.0 671.3h0M622.7 671.4h0M666.3 717.1h0M660.2 699.4h0M626.1 681.9h0M603.4 647.2h0M611.8 651.2h0M613.0 647.7h0M598.4 682.0h0M619.9 685.4h0M615.6 697.6h0M599.7 666.6h0M622.0 660.7h0M619.8 647.6h0M603.2 665.4h0M645.3 701.8h0M650.1 704.8h0M640.8 672.4h0M603.7 693.4h0M603.9 691.2h0M597.4 680.7h0M613.2 652.1h0M622.9 677.8h0M630.8 694.3h0M621.3 658.4h0M639.7 699.5h0M619.7 678.8h0M613.4 674.4h0M601.7 664.0h0M635.2 684.2h0M644.4 680.2h0M672.6 711.8h0M605.8 701.4h0M595.1 680.3h0M647.9 664.5h0M623.9 669.0h0M611.0 652.5h0M610.9 667.1h0M607.8 658.1h0M601.5 648.4h0M631.8 698.4h0M659.5 690.1h0M636.4 672.0h0M608.5 687.6h0M640.7 666.6h0M613.2 677.0h0M626.0 702.4h0M631.6 666.3h0M605.9 655.0h0M629.6 698.2h0M649.8 671.7h0M677.2 737.9h0M647.4 673.2h0M633.9 669.0h0M666.7 707.7h0M606.3 692.2h0M613.5 659.4h0M610.9 691.7h0M613.8 643.4h0M624.0 704.7h0M644.4 671.0h0M602.9 680.5h0M643.8 673.0h0M603.3 649.9h0M635.1 668.2h0M600.6 675.7h0M617.1 673.9h0M599.1 662.2h0M616.7 679.2h0M650.1 692.7h0M669.0 694.6h0M637.9 696.8h0M598.8 653.7h0M614.3 681.9h0M619.8 662.6h0M616.1 686.3h0M652.9 682.4h0M609.4 645.4h0M622.7 706.4h0M645.4 660.3h0M640.0 663.2h0M615.0 688.1h0M634.4 679.5h0M656.1 689.1h0M621.6 670.6h0M639.7 668.8h0M659.0 704.0h0M621.3 701.9h0M632.9 662.6h0M620.1 677.5h0M611.6 671.4h0M608.9 685.3h0M625.6 658.0h0M669.2 703.4h0M617.5 650.3h0M621.1 675.7h0M614.4 645.9h0M605.2 665.7h0M609.5 679.5h0M634.9 660.7h0M678.1 735.0h0M658.2 710.1h0M607.4 699.3h0M631.3 671.0h0M627.8 707.4h0M631.0 655.6h0M644.3 707.4h0M644.1 685.8h0M600.7 671.5h0M645.7 677.3h0M658.2 701.2h0M620.3 653.8h0M598.1 678.3h0M630.0 675.7h0M663.5 712.2h0M650.4 661.8h0M643.6 688.2h0M650.5 709.9h0M631.7 668.8h0M611.2 688.4h0M619.7 704.0h0M617.5 693.0h0M628.0 695.0h0M656.8 697.1h0M628.9 661.5h0M613.8 671.9h0M620.4 706.9h0M676.3 728.3h0M621.5 648.2h0M637.2 700.1h0M624.6 696.1h0M654.7 692.7h0M673.5 705.3h0M614.0 661.6h0M652.5 709.0h0M636.6 703.6h0M631.6 688.5h0M600.3 649.5h0M646.0 664.0h0M612.4 702.5h0M612.4 650.1h0M649.3 703.4h0M675.2 715.3h0M628.4 681.1h0M620.0 689.8h0M625.0 654.3h0M618.8 694.6h0M593.9 680.3h0M648.6 670.3h0M627.4 654.4h0M608.4 648.5h0M635.6 697.1h0M636.3 701.1h0M599.7 657.2h0M628.1 692.0h0M610.9 648.2h0M603.1 675.9h0M667.5 710.6h0M605.0 657.1h0M634.0 681.9h0M619.8 655.5h0M669.2 717.5h0M622.5 662.0h0M605.6 668.6h0M655.0 708.5h0M630.1 685.0h0M650.0 666.9h0M658.0 697.5h0M624.1 664.4h0M643.8 677.7h0M645.5 692.9h0M667.7 711.9h0M613.0 703.8h0M647.7 688.9h0M605.8 661.7h0M655.4 690.5h0M613.8 689.4h0M614.6 700.8h0M654.8 711.7h0M615.1 659.1h0M668.1 704.6h0M639.9 706.7h0M618.6 688.4h0M651.1 692.0h0M625.5 698.9h0M644.7 681.7h0M654.4 694.5h0M654.7 695.7h0M661.2 710.1h0M631.0 706.9h0M618.8 701.3h0M675.8 732.9h0M604.5 653.8h0M644.3 668.2h0M614.3 649.3h0M629.6 670.1h0M601.1 673.3h0M650.1 682.7h0M666.2 701.0h0M632.7 660.8h0M601.9 658.3h0M611.3 658.0h0M641.7 681.0h0M640.1 678.6h0M628.3 658.4h0M658.2 691.2h0M616.0 669.6h0M662.9 704.7h0M650.4 690.9h0M601.6 678.0h0M642.8 664.7h0M600.7 665.6h0M609.2 696.9h0M625.1 707.3h0M596.6 713.6h0M601.6 718.4h0M596.0 720.0h0M598.0 724.0h0M593.0 726.4h0M588.4 737.2h0M585.0 741.0h0M582.4 746.0h0M578.8 749.6h0M572.2 757.2h0M568.0 762.4h0M594.0 666.4h0M566.0 767.3h0M555.3 778.1h0M556.2 763.8h0M579.5 774.8h0M548.4 769.8h0M550.2 781.6h0M547.4 766.4h0M576.0 774.5h0M558.8 767.3h0M576.5 771.1h0M571.0 775.7h0M578.0 775.8h0M579.7 772.8h0M565.8 768.4h0M568.3 778.0h0M558.4 782.8h0M541.9 771.2h0M552.3 763.0h0M555.8 767.9h0M575.2 773.2h0M542.1 769.8h0M548.5 777.8h0M566.6 772.3h0M567.2 775.1h0M557.6 764.9h0M562.0 776.3h0M545.8 774.5h0M570.0 775.9h0M570.5 768.8h0M559.1 775.3h0M553.7 779.4h0M563.8 775.2h0M571.3 779.4h0M549.1 766.1h0M562.1 767.8h0M540.4 769.1h0M548.5 776.6h0M555.0 770.6h0M552.0 776.0h0M546.2 767.2h0M556.8 770.6h0M550.7 776.9h0M552.4 782.1h0M564.8 766.4h0M549.6 774.6h0M552.2 781.1h0M557.6 769.9h0M558.8 764.8h0M562.3 780.4h0M546.0 775.8h0M565.8 779.2h0M562.6 782.7h0M543.1 772.4h0M572.6 773.2h0M568.0 781.4h0M573.9 775.2h0M570.4 773.8h0M568.4 767.5h0M567.0 768.2h0M566.6 781.8h0M552.4 773.6h0M545.2 770.1h0M565.0 781.7h0M551.7 779.6h0M559.8 772.4h0M564.7 769.2h0M562.6 779.0h0M571.4 769.7h0M555.1 782.3h0M555.3 780.6h0M560.5 779.7h0M562.7 777.1h0M563.2 769.5h0M565.5 770.6h0M546.1 772.4h0M542.6 768.9h0M564.7 768.0h0M573.3 777.1h0M578.0 777.7h0M558.1 778.8h0M554.7 772.3h0M552.8 778.7h0M570.7 776.7h0M569.1 776.6h0M546.4 765.7h0M552.6 772.2h0M556.1 774.6h0M554.2 775.5h0M553.3 770.5h0M710.6 722.8h0M725.0 720.0h0M728.0 718.0h0M732.0 719.0h0M736.0 716.0h0M739.0 713.6h0M734.0 721.0h0M726.0 721.6h0M730.0 717.6h0M610.6 783.4h0M750.0 790.0h0M751.0 794.0h0M745.0 798.0h0M749.0 792.0h0M725.6 721.1h0M725.9 720.0h0M729.9 719.6h0M731.4 718.9h0M733.5 716.7h0M737.0 715.5h0M739.1 714.1h0M708.1 844.8h0M720.7 858.5h0M716.2 846.8h0M725.1 859.4h0M702.6 843.0h0M713.4 845.4h0M714.1 858.8h0M727.4 847.1h0M696.7 851.8h0M719.1 839.4h0M713.5 857.2h0M710.2 849.6h0M728.2 853.0h0M717.9 858.8h0M701.9 853.5h0M714.1 860.6h0M712.8 848.6h0M703.3 859.6h0M715.8 843.9h0M722.5 850.1h0M697.2 848.3h0M735.3 851.5h0M710.4 844.0h0M718.9 860.2h0M717.5 852.7h0M733.5 853.0h0M708.6 856.3h0M715.9 850.3h0M697.5 855.5h0M704.3 851.8h0M712.0 844.7h0M714.1 846.8h0M726.4 851.1h0M715.9 860.0h0M739.5 846.6h0M712.5 838.9h0M733.0 854.7h0M710.0 853.3h0M705.3 855.2h0M710.9 859.0h0M715.1 839.6h0M713.4 855.0h0M723.3 844.3h0M717.3 840.1h0M705.3 840.7h0M696.7 849.7h0M714.6 845.3h0M730.7 851.9h0M714.4 843.0h0M708.2 840.0h0M706.4 860.3h0M711.4 841.1h0M702.8 844.1h0M709.1 851.0h0M697.3 857.6h0M734.7 853.6h0M717.7 844.0h0M708.7 846.1h0M712.4 856.1h0M711.2 855.7h0M705.4 844.8h0M725.3 845.4h0M723.4 849.5h0M712.4 852.3h0M695.7 846.6h0M711.1 850.1h0M713.6 850.2h0M707.0 852.0h0M702.8 848.9h0M725.2 842.4h0M727.3 854.2h0M704.0 855.3h0M706.4 845.5h0M725.8 852.7h0M711.4 838.8h0M717.8 842.1h0M705.8 853.4h0M735.3 850.0h0M707.4 855.5h0M701.6 851.5h0M716.7 858.7h0M720.2 851.6h0M720.7 840.9h0M726.1 857.1h0M699.1 843.6h0M714.6 851.2h0M710.8 857.3h0M699.2 851.6h0M721.8 841.7h0M716.8 839.1h0M710.6 845.0h0M721.5 855.2h0M704.6 845.7h0M729.0 851.0h0M715.4 848.3h0M722.2 852.1h0M718.0 856.4h0M710.6 846.1h0M701.0 845.7h0M742.2 842.6h0M704.5 853.3h0M702.7 847.8h0M710.4 839.3h0M713.0 860.9h0M724.6 853.0h0M710.6 842.5h0M727.5 849.3h0M717.3 846.1h0M712.7 858.2h0M708.4 853.4h0M708.8 848.8h0M726.5 849.7h0M698.9 855.1h0M723.2 842.5h0M700.0 854.1h0M717.6 819.6h0M720.8 818.5h0M724.1 823.9h0M719.7 828.2h0M720.8 822.8h0M750.1 789.2h0M752.2 792.5h0M749.0 794.7h0M745.1 798.6h0M747.9 802.2h0M751.2 790.3h0M791.2 785.6h0M611.0 783.2h0M581.1 774.1h0M609.2 841.2h0M610.3 843.4h0M607.1 846.7h0M612.1 853.2h0M725.6 839.1h0M728.0 846.2h0M809.7 794.0h0M799.2 789.2h0M801.6 782.7h0M804.4 785.4h0M809.4 789.0h0M798.8 786.6h0M799.4 784.5h0M799.5 787.7h0M802.8 782.9h0M806.7 792.0h0M805.9 786.2h0M810.3 792.1h0M806.9 787.8h0M810.9 789.1h0M804.5 790.7h0M805.6 789.1h0M805.8 793.4h0M808.7 789.8h0M810.9 791.1h0M808.6 778.5h0M807.1 778.1h0M809.8 795.1h0M809.3 792.7h0M803.8 793.5h0M807.1 795.2h0M802.6 788.9h0M805.0 795.4h0M806.7 782.1h0M614.9 866.2h0M617.3 867.7h0M616.8 871.1h0M617.3 872.8h0M620.3 874.8h0M621.8 877.2h0M622.3 878.9h0M624.0 881.7h0M624.2 882.9h0M627.0 883.9h0M625.6 887.8h0M627.5 889.9h0M627.4 892.7h0M631.8 893.2h0M631.1 895.8h0M631.9 899.9h0M635.5 899.0h0M637.7 900.3h0M636.3 904.0h0M639.2 906.6h0M635.1 909.3h0M637.7 912.0h0M638.4 912.8h0M637.0 915.2h0M635.5 919.3h0M632.5 919.6h0M631.6 922.5h0M628.7 923.7h0M626.9 926.0h0M625.1 924.6h0M628.1 877.0h0M642.8 908.4h0M641.7 915.6h0M639.6 909.5h0M657.1 917.2h0M660.8 918.2h0M664.9 919.8h0M670.5 921.0h0M691.2 930.0h0M694.3 930.9h0M697.1 931.5h0M700.3 933.2h0M701.9 934.5h0M704.2 937.1h0M705.8 939.1h0M718.7 939.1h0M722.4 943.6h0M712.1 938.1h0M718.6 945.6h0M714.4 936.6h0M725.8 938.1h0M722.8 939.1h0M718.9 940.7h0M720.9 938.2h0M718.6 943.1h0M710.6 936.5h0M716.3 939.5h0M710.4 939.0h0M717.7 946.9h0M725.8 943.3h0M725.2 936.7h0M716.4 943.0h0M715.2 942.2h0M720.4 934.2h0M712.5 935.5h0M714.9 945.6h0M718.0 939.9h0M725.3 939.5h0M716.7 936.4h0M720.1 935.8h0M714.9 938.0h0M720.5 943.3h0M719.9 937.1h0M720.6 940.7h0M519.5 974.5h0M520.0 978.8h0M523.8 981.2h0M519.5 987.5h0M517.5 989.5h0M528.0 988.0h0M533.8 990.8h0M533.2 995.5h0M523.8 997.0h0M535.0 1000.0h0M522.5 1003.0h0M533.8 1005.0h0M527.5 1006.2h0M530.0 1010.0h0M521.2 1011.2h0M532.5 1013.8h0M525.0 1016.2h0M516.2 1018.2h0M518.8 1015.0h0M526.2 1002.5h0M528.8 1013.8h0M524.5 1010.0h0M525.3 1003.9h0M532.9 1001.6h0M525.2 1013.2h0M533.8 1009.4h0M525.7 1009.9h0M529.9 1003.2h0M523.2 1015.1h0M522.4 1013.5h0M526.2 1001.1h0M528.2 1013.4h0M528.1 1008.2h0M529.7 1013.2h0M519.7 1017.4h0M532.5 1000.6h0M519.0 1010.1h0M517.9 1011.9h0M533.8 1002.5h0M526.8 1011.5h0M522.3 1009.9h0M522.8 1008.1h0M528.8 1002.6h0M519.1 1008.4h0M520.1 1014.8h0M523.2 1001.9h0M523.6 1018.0h0M533.1 1014.4h0M535.8 1007.6h0M529.0 1010.5h0M522.4 1003.6h0M532.1 1005.5h0M526.7 1005.7h0M524.7 1016.7h0M528.3 1005.3h0M533.6 1011.3h0M529.9 1005.3h0M526.7 1014.1h0M535.8 1005.3h0M524.0 1012.4h0M534.5 1010.2h0M532.3 1003.4h0M530.9 1014.1h0M520.5 1009.8h0M519.5 1011.6h0M521.9 1012.3h0M525.3 1011.1h0M530.9 1002.1h0M515.7 988.8h0M522.5 978.4h0M521.5 973.0h0M520.9 986.3h0M518.7 980.2h0M516.9 979.0h0M521.2 974.7h0M517.0 986.3h0M519.5 978.0h0M517.5 988.3h0M522.4 985.9h0M435.0 1045.8h0M437.5 1044.2h0M440.8 1042.5h0M655.0 979.2h0M657.5 982.0h0M660.0 984.5h0M496.2 907.5h0M508.0 909.5h0M641.9 912.6h0M632.3 921.6h0M636.4 909.3h0M642.5 908.9h0M643.1 914.3h0M639.2 907.4h0M633.5 904.6h0M629.4 923.9h0M637.0 918.2h0M635.2 921.6h0M627.3 924.9h0M639.3 919.5h0M639.9 916.5h0M626.4 924.0h0M633.0 911.4h0M642.7 917.0h0M634.0 921.6h0M639.0 917.2h0M634.2 917.0h0M641.0 909.3h0M632.6 913.3h0M638.4 913.7h0M634.3 919.1h0M636.5 904.5h0M624.1 923.2h0M633.0 914.8h0M632.3 918.9h0M630.8 919.2h0M627.9 923.0h0M637.4 911.5h0M635.0 908.3h0M632.8 917.5h0M633.3 920.3h0M435.1 1046.1h0M435.1 1045.1h0M438.3 1044.1h0M437.3 1041.2h0M439.7 1041.0h0M442.1 1041.5h0M655.3 978.2h0M656.1 979.9h0M657.6 980.8h0M657.8 982.5h0M659.5 983.6h0M659.0 986.0h0M607.4 846.1h0M608.4 845.6h0M609.0 842.9h0M611.4 842.7h0M609.9 840.6h0"/>
<path class="p" stroke="#aa8fe6" d="M260.3 491.0h0M256.4 497.2h0M202.3 514.2h0M216.7 513.2h0M216.7 516.0h0M188.5 522.0h0M204.2 524.5h0M222.4 525.5h0M215.9 527.4h0M206.1 530.5h0M162.0 530.9h0M215.3 534.5h0M222.1 536.2h0M168.3 536.6h0M198.0 535.2h0M202.0 535.2h0M203.7 538.7h0M205.1 541.5h0M206.5 544.8h0M180.7 541.5h0M180.3 545.1h0M173.5 546.5h0M152.7 547.9h0M160.0 548.2h0M160.9 551.5h0M162.3 553.6h0M195.9 546.5h0M199.7 546.5h0M192.3 549.3h0M196.6 550.0h0M189.5 550.8h0M186.7 551.5h0M188.1 553.6h0M203.0 551.7h0M171.5 551.7h0M173.9 553.6h0M176.0 555.7h0M178.9 557.1h0M178.2 562.1h0M171.1 562.1h0M168.5 563.1h0M195.2 558.1h0M188.5 562.1h0M190.9 563.5h0M199.0 565.3h0M192.9 570.3h0M212.2 557.1h0M215.7 556.4h0M219.0 554.7h0M221.4 555.7h0M224.2 552.9h0M226.8 551.0h0M229.9 549.3h0M233.4 551.7h0M239.5 551.2h0M249.9 546.1h0M214.6 563.5h0M222.1 572.0h0M211.9 575.5h0M243.1 571.6h0M698.6 120.4h0M676.0 129.0h0M694.4 130.6h0M688.0 133.0h0M685.4 136.0h0M692.0 135.0h0M669.0 135.6h0M703.2 138.2h0M726.0 136.8h0M680.0 142.6h0M694.4 142.2h0M728.6 144.2h0M691.6 148.6h0M700.0 147.6h0M714.2 147.2h0M674.0 156.0h0M678.0 155.2h0M696.8 158.6h0M665.2 163.2h0M678.8 163.2h0M709.6 161.6h0M713.6 162.4h0M684.0 167.0h0M714.4 168.2h0M666.0 169.6h0M668.4 169.6h0M684.8 171.6h0M673.4 174.6h0M705.6 174.6h0M716.0 176.4h0M718.4 176.4h0M696.8 180.0h0M701.4 181.2h0M751.0 189.2h0M734.4 193.4h0M729.2 198.0h0M679.0 195.0h0M722.4 209.6h0M741.0 212.2h0M724.0 215.4h0M732.4 218.0h0M760.6 221.4h0M772.0 222.0h0M799.4 226.6h0M762.8 248.8h0M803.4 286.8h0M600.8 232.2h0M600.8 236.2h0M565.5 249.4h0M538.5 321.4h0M605.8 467.1h0M615.0 404.3h0M694.5 427.3h0M605.8 467.0h0M965.6 371.6h0M985.9 641.6h0M993.6 643.7h0M1009.1 638.8h0M1011.6 637.4h0M1041.3 637.6h0M1008.4 659.8h0M971.0 669.3h0M1028.4 674.0h0M1026.6 696.6h0M943.5 701.0h0M1001.3 706.6h0M1021.4 715.1h0M918.3 723.4h0M979.2 730.7h0M973.6 765.4h0M489.0 870.8h0M483.8 874.4h0M626.2 670.8h0M675.2 714.8h0M676.2 720.2h0M676.2 735.0h0"/>
<path class="p" stroke="#9673ec" d="M690.6 195.8h0M715.4 590.5h0"/>
<path class="p" stroke="#8560f0" d="M180.4 533.0h0M228.7 536.3h0M705.0 127.4h0M732.4 135.4h0M709.2 177.6h0M724.0 190.0h0M749.0 208.8h0M765.2 222.2h0M761.8 226.4h0M726.6 233.2h0M543.2 253.2h0M572.4 503.8h0M572.5 503.7h0M958.4 367.1h0M962.3 371.6h0M1039.1 713.2h0M940.2 744.7h0M983.8 748.4h0M460.8 857.5h0"/>
<path class="p" stroke="#5b3af6" d="M710.0 173.2h0"/>
<path class="p" stroke="#0000ff" d="M704.0 579.1h0"/>
</g>
<path class="ax" d="M95.5 51V1120.9M94.1 1119.5H1117.5"/>
<path class="tk" d="M90.3 277.4H94.1M90.3 571.4H94.1M90.3 865.4H94.1M141.6 1120.9V1124.6M307.3 1120.9V1124.6M473 1120.9V1124.6M638.7 1120.9V1124.6M804.4 1120.9V1124.6M970.1 1120.9V1124.6"/>
<g class="tl" text-anchor="end">
<text transform="translate(88.3 287.6) scale(.965 1)">10</text><text transform="translate(88.3 581.6) scale(.965 1)">0</text><text transform="translate(88.3 875.6) scale(.965 1)">-10</text>
</g>
<g class="tl" text-anchor="middle">
<text transform="translate(141.7 1148) scale(.965 1)">-15</text><text transform="translate(307.4 1148) scale(.965 1)">-10</text><text transform="translate(473.1 1148) scale(.965 1)">-5</text><text transform="translate(638.6 1148) scale(.965 1)">0</text><text transform="translate(804.5 1148) scale(.965 1)">5</text><text transform="translate(970.2 1148) scale(.965 1)">10</text>
</g>
<g class="at" text-anchor="middle"><text transform="translate(604 1180.8) scale(.955 1)">umapNC_1</text><text transform="translate(34.2 585.8) rotate(-90) scale(.955 1)">umapNC_2</text></g>
<rect x="1130" y="547.7" width="15.5" height="76.2" fill="url(#cb)"/>
<path d="M1130 560.5h3.1M1142.4 560.5h3.1M1130 581.4h3.1M1142.4 581.4h3.1M1130 602.4h3.1M1142.4 602.4h3.1" stroke="#fff" stroke-width="0.8" fill="none"/>
<g class="lg">
<text transform="translate(1153.8 569.8) scale(.955 1)">1.5</text><text transform="translate(1153.8 590.7) scale(.955 1)">1.0</text><text transform="translate(1153.8 611.7) scale(.955 1)">0.5</text><text transform="translate(1153.8 632.6) scale(.955 1)">0.0</text>
</g>
</svg>
</body></html>
